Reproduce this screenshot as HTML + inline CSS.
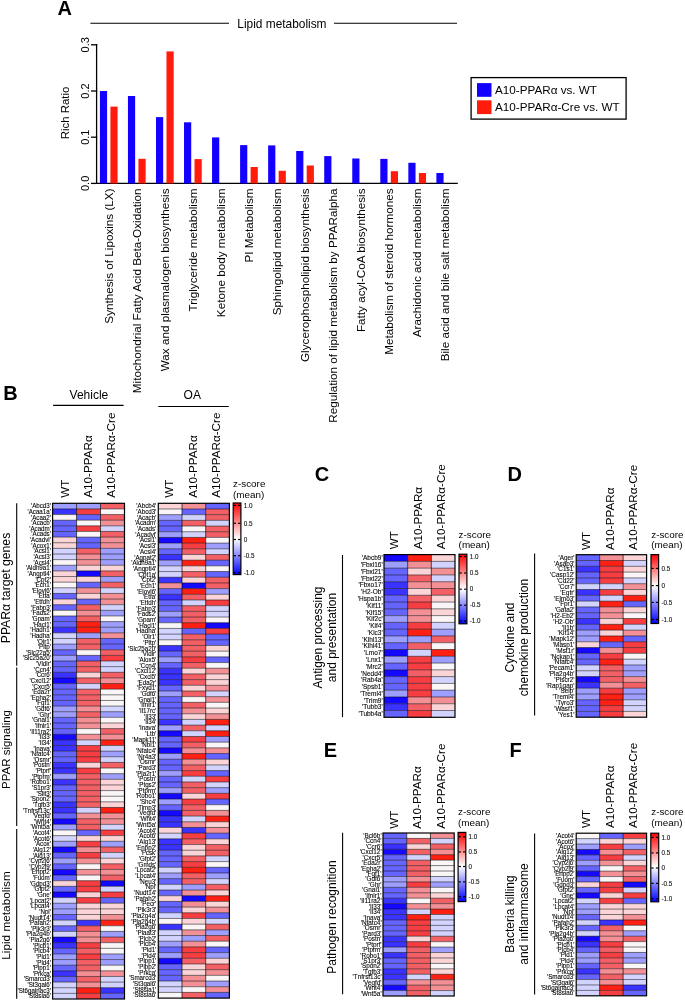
<!DOCTYPE html>
<html><head><meta charset="utf-8"><style>
html,body{margin:0;padding:0;background:#fff;}
svg{display:block;font-family:"Liberation Sans", sans-serif;will-change:transform;}
</style></head><body>
<svg width="685" height="1001" viewBox="0 0 685 1001">
<defs><linearGradient id="cb50" x1="0" y1="0" x2="0" y2="1"><stop offset="0" stop-color="#ff0000"/><stop offset="0.5" stop-color="#ffffff"/><stop offset="1" stop-color="#0000ff"/></linearGradient><linearGradient id="cb45" x1="0" y1="0" x2="0" y2="1"><stop offset="0" stop-color="#ff0000"/><stop offset="0.45" stop-color="#ffffff"/><stop offset="1" stop-color="#0000ff"/></linearGradient><linearGradient id="cb49" x1="0" y1="0" x2="0" y2="1"><stop offset="0" stop-color="#ff0000"/><stop offset="0.49" stop-color="#ffffff"/><stop offset="1" stop-color="#0000ff"/></linearGradient></defs>
<rect x="0" y="0" width="685" height="1001" fill="#fff"/>
<text transform="translate(57.60,14.90)" font-size="20" font-weight="bold" fill="#000">A</text>
<line x1="90.40" y1="23.30" x2="229.00" y2="23.30" stroke="#000" stroke-width="1.1"/>
<line x1="334.00" y1="23.30" x2="457.00" y2="23.30" stroke="#000" stroke-width="1.1"/>
<text transform="translate(237.30,28.00)" font-size="11.9" fill="#000">Lipid metabolism</text>
<line x1="96.60" y1="44.00" x2="96.60" y2="184.00" stroke="#000" stroke-width="1.3"/>
<line x1="96.00" y1="183.40" x2="457.80" y2="183.40" stroke="#000" stroke-width="1.3"/>
<line x1="91.00" y1="183.40" x2="97.20" y2="183.40" stroke="#000" stroke-width="1.3"/>
<text transform="translate(89.00,183.40) rotate(-90)" font-size="11" text-anchor="middle" fill="#000">0.0</text>
<line x1="91.00" y1="137.20" x2="97.20" y2="137.20" stroke="#000" stroke-width="1.3"/>
<text transform="translate(89.00,137.20) rotate(-90)" font-size="11" text-anchor="middle" fill="#000">0.1</text>
<line x1="91.00" y1="91.00" x2="97.20" y2="91.00" stroke="#000" stroke-width="1.3"/>
<text transform="translate(89.00,91.00) rotate(-90)" font-size="11" text-anchor="middle" fill="#000">0.2</text>
<line x1="91.00" y1="44.80" x2="97.20" y2="44.80" stroke="#000" stroke-width="1.3"/>
<text transform="translate(89.00,44.80) rotate(-90)" font-size="11" text-anchor="middle" fill="#000">0.3</text>
<text transform="translate(68.70,113.00) rotate(-90)" font-size="11.4" text-anchor="middle" fill="#000">Rich Ratio</text>
<rect x="99.90" y="91.00" width="7.20" height="92.40" fill="#1400ff"/>
<rect x="110.40" y="106.60" width="7.20" height="76.80" fill="#ff1c0c"/>
<text transform="translate(112.50,188.50) rotate(-90)" font-size="11.7" text-anchor="end" fill="#000">Synthesis of Lipoxins (LX)</text>
<rect x="127.94" y="96.00" width="7.20" height="87.40" fill="#1400ff"/>
<rect x="138.44" y="158.80" width="7.20" height="24.60" fill="#ff1c0c"/>
<text transform="translate(140.54,188.50) rotate(-90)" font-size="11.7" text-anchor="end" fill="#000">Mitochondrial Fatty Acid Beta-Oxidation</text>
<rect x="155.98" y="117.10" width="7.20" height="66.30" fill="#1400ff"/>
<rect x="166.48" y="51.40" width="7.20" height="132.00" fill="#ff1c0c"/>
<text transform="translate(168.58,188.50) rotate(-90)" font-size="11.7" text-anchor="end" fill="#000">Wax and plasmalogen biosynthesis</text>
<rect x="184.02" y="122.30" width="7.20" height="61.10" fill="#1400ff"/>
<rect x="194.52" y="159.10" width="7.20" height="24.30" fill="#ff1c0c"/>
<text transform="translate(196.62,188.50) rotate(-90)" font-size="11.7" text-anchor="end" fill="#000">Triglyceride metabolism</text>
<rect x="212.06" y="137.40" width="7.20" height="46.00" fill="#1400ff"/>
<text transform="translate(224.66,188.50) rotate(-90)" font-size="11.7" text-anchor="end" fill="#000">Ketone body metabolism</text>
<rect x="240.10" y="145.10" width="7.20" height="38.30" fill="#1400ff"/>
<rect x="250.60" y="167.00" width="7.20" height="16.40" fill="#ff1c0c"/>
<text transform="translate(252.70,188.50) rotate(-90)" font-size="11.7" text-anchor="end" fill="#000">PI Metabolism</text>
<rect x="268.14" y="145.40" width="7.20" height="38.00" fill="#1400ff"/>
<rect x="278.64" y="170.80" width="7.20" height="12.60" fill="#ff1c0c"/>
<text transform="translate(280.74,188.50) rotate(-90)" font-size="11.7" text-anchor="end" fill="#000">Sphingolipid metabolism</text>
<rect x="296.18" y="151.00" width="7.20" height="32.40" fill="#1400ff"/>
<rect x="306.68" y="165.50" width="7.20" height="17.90" fill="#ff1c0c"/>
<text transform="translate(308.78,188.50) rotate(-90)" font-size="11.7" text-anchor="end" fill="#000">Glycerophospholipid biosynthesis</text>
<rect x="324.22" y="156.10" width="7.20" height="27.30" fill="#1400ff"/>
<text transform="translate(336.82,188.50) rotate(-90)" font-size="11.7" text-anchor="end" fill="#000">Regulation of lipid metabolism by PPARalpha</text>
<rect x="352.26" y="158.50" width="7.20" height="24.90" fill="#1400ff"/>
<text transform="translate(364.86,188.50) rotate(-90)" font-size="11.7" text-anchor="end" fill="#000">Fatty acyl-CoA biosynthesis</text>
<rect x="380.30" y="158.90" width="7.20" height="24.50" fill="#1400ff"/>
<rect x="390.80" y="171.20" width="7.20" height="12.20" fill="#ff1c0c"/>
<text transform="translate(392.90,188.50) rotate(-90)" font-size="11.7" text-anchor="end" fill="#000">Metabolism of steroid hormones</text>
<rect x="408.34" y="162.80" width="7.20" height="20.60" fill="#1400ff"/>
<rect x="418.84" y="173.00" width="7.20" height="10.40" fill="#ff1c0c"/>
<text transform="translate(420.94,188.50) rotate(-90)" font-size="11.7" text-anchor="end" fill="#000">Arachidonic acid metabolism</text>
<rect x="436.38" y="173.00" width="7.20" height="10.40" fill="#1400ff"/>
<text transform="translate(448.98,188.50) rotate(-90)" font-size="11.7" text-anchor="end" fill="#000">Bile acid and bile salt metabolism</text>
<rect x="471.1" y="77.6" width="155.0" height="41.5" fill="none" stroke="#000" stroke-width="1.3"/>
<rect x="477.00" y="83.10" width="14.50" height="13.70" fill="#1400ff"/>
<rect x="477.00" y="100.30" width="14.50" height="13.80" fill="#ff1c0c"/>
<text transform="translate(495.00,94.30)" font-size="11.7" fill="#000">A10-PPARα vs. WT</text>
<text transform="translate(495.00,111.30)" font-size="11.7" fill="#000">A10-PPARα-Cre vs. WT</text>
<text transform="translate(3.20,400.20)" font-size="20" font-weight="bold" fill="#000">B</text>
<text transform="translate(69.60,398.60)" font-size="12" fill="#000">Vehicle</text>
<line x1="53.10" y1="405.40" x2="123.60" y2="405.40" stroke="#000" stroke-width="1.1"/>
<text transform="translate(183.60,398.90)" font-size="12" fill="#000">OA</text>
<line x1="158.30" y1="406.50" x2="228.80" y2="406.50" stroke="#000" stroke-width="1.1"/>
<rect x="52.60" y="503.30" width="23.97" height="5.63" fill="#9e9eff"/>
<rect x="76.57" y="503.30" width="23.97" height="5.63" fill="#9e9eff"/>
<rect x="100.53" y="503.30" width="23.97" height="5.63" fill="#f26066"/>
<rect x="52.60" y="508.93" width="23.97" height="5.63" fill="#3a32ff"/>
<rect x="76.57" y="508.93" width="23.97" height="5.63" fill="#f63e42"/>
<rect x="100.53" y="508.93" width="23.97" height="5.63" fill="#faf6f8"/>
<rect x="52.60" y="514.57" width="23.97" height="5.63" fill="#faf6f8"/>
<rect x="76.57" y="514.57" width="23.97" height="5.63" fill="#6664ff"/>
<rect x="100.53" y="514.57" width="23.97" height="5.63" fill="#f26066"/>
<rect x="52.60" y="520.20" width="23.97" height="5.63" fill="#6664ff"/>
<rect x="76.57" y="520.20" width="23.97" height="5.63" fill="#faf6f8"/>
<rect x="100.53" y="520.20" width="23.97" height="5.63" fill="#f29096"/>
<rect x="52.60" y="525.83" width="23.97" height="5.63" fill="#6664ff"/>
<rect x="76.57" y="525.83" width="23.97" height="5.63" fill="#f63e42"/>
<rect x="100.53" y="525.83" width="23.97" height="5.63" fill="#d2d4ff"/>
<rect x="52.60" y="531.46" width="23.97" height="5.63" fill="#6664ff"/>
<rect x="76.57" y="531.46" width="23.97" height="5.63" fill="#faf6f8"/>
<rect x="100.53" y="531.46" width="23.97" height="5.63" fill="#f26066"/>
<rect x="52.60" y="537.10" width="23.97" height="5.63" fill="#fad4d6"/>
<rect x="76.57" y="537.10" width="23.97" height="5.63" fill="#6664ff"/>
<rect x="100.53" y="537.10" width="23.97" height="5.63" fill="#f29096"/>
<rect x="52.60" y="542.73" width="23.97" height="5.63" fill="#fad4d6"/>
<rect x="76.57" y="542.73" width="23.97" height="5.63" fill="#6664ff"/>
<rect x="100.53" y="542.73" width="23.97" height="5.63" fill="#f29096"/>
<rect x="52.60" y="548.36" width="23.97" height="5.63" fill="#d2d4ff"/>
<rect x="76.57" y="548.36" width="23.97" height="5.63" fill="#f26066"/>
<rect x="100.53" y="548.36" width="23.97" height="5.63" fill="#9e9eff"/>
<rect x="52.60" y="554.00" width="23.97" height="5.63" fill="#d2d4ff"/>
<rect x="76.57" y="554.00" width="23.97" height="5.63" fill="#f29096"/>
<rect x="100.53" y="554.00" width="23.97" height="5.63" fill="#9e9eff"/>
<rect x="52.60" y="559.63" width="23.97" height="5.63" fill="#faf6f8"/>
<rect x="76.57" y="559.63" width="23.97" height="5.63" fill="#f29096"/>
<rect x="100.53" y="559.63" width="23.97" height="5.63" fill="#9e9eff"/>
<rect x="52.60" y="565.26" width="23.97" height="5.63" fill="#9e9eff"/>
<rect x="76.57" y="565.26" width="23.97" height="5.63" fill="#fad4d6"/>
<rect x="100.53" y="565.26" width="23.97" height="5.63" fill="#fad4d6"/>
<rect x="52.60" y="570.90" width="23.97" height="5.63" fill="#fad4d6"/>
<rect x="76.57" y="570.90" width="23.97" height="5.63" fill="#1408ff"/>
<rect x="100.53" y="570.90" width="23.97" height="5.63" fill="#f26066"/>
<rect x="52.60" y="576.53" width="23.97" height="5.63" fill="#fad4d6"/>
<rect x="76.57" y="576.53" width="23.97" height="5.63" fill="#fad4d6"/>
<rect x="100.53" y="576.53" width="23.97" height="5.63" fill="#9e9eff"/>
<rect x="52.60" y="582.16" width="23.97" height="5.63" fill="#faf6f8"/>
<rect x="76.57" y="582.16" width="23.97" height="5.63" fill="#6664ff"/>
<rect x="100.53" y="582.16" width="23.97" height="5.63" fill="#f26066"/>
<rect x="52.60" y="587.79" width="23.97" height="5.63" fill="#d2d4ff"/>
<rect x="76.57" y="587.79" width="23.97" height="5.63" fill="#f29096"/>
<rect x="100.53" y="587.79" width="23.97" height="5.63" fill="#d2d4ff"/>
<rect x="52.60" y="593.43" width="23.97" height="5.63" fill="#6664ff"/>
<rect x="76.57" y="593.43" width="23.97" height="5.63" fill="#fad4d6"/>
<rect x="100.53" y="593.43" width="23.97" height="5.63" fill="#f29096"/>
<rect x="52.60" y="599.06" width="23.97" height="5.63" fill="#fad4d6"/>
<rect x="76.57" y="599.06" width="23.97" height="5.63" fill="#6664ff"/>
<rect x="100.53" y="599.06" width="23.97" height="5.63" fill="#f29096"/>
<rect x="52.60" y="604.69" width="23.97" height="5.63" fill="#6664ff"/>
<rect x="76.57" y="604.69" width="23.97" height="5.63" fill="#f26066"/>
<rect x="100.53" y="604.69" width="23.97" height="5.63" fill="#d2d4ff"/>
<rect x="52.60" y="610.33" width="23.97" height="5.63" fill="#faf6f8"/>
<rect x="76.57" y="610.33" width="23.97" height="5.63" fill="#f29096"/>
<rect x="100.53" y="610.33" width="23.97" height="5.63" fill="#9e9eff"/>
<rect x="52.60" y="615.96" width="23.97" height="5.63" fill="#6664ff"/>
<rect x="76.57" y="615.96" width="23.97" height="5.63" fill="#f26066"/>
<rect x="100.53" y="615.96" width="23.97" height="5.63" fill="#faf6f8"/>
<rect x="52.60" y="621.59" width="23.97" height="5.63" fill="#6664ff"/>
<rect x="76.57" y="621.59" width="23.97" height="5.63" fill="#ff2014"/>
<rect x="100.53" y="621.59" width="23.97" height="5.63" fill="#9e9eff"/>
<rect x="52.60" y="627.23" width="23.97" height="5.63" fill="#3a32ff"/>
<rect x="76.57" y="627.23" width="23.97" height="5.63" fill="#ff2014"/>
<rect x="100.53" y="627.23" width="23.97" height="5.63" fill="#9e9eff"/>
<rect x="52.60" y="632.86" width="23.97" height="5.63" fill="#d2d4ff"/>
<rect x="76.57" y="632.86" width="23.97" height="5.63" fill="#9e9eff"/>
<rect x="100.53" y="632.86" width="23.97" height="5.63" fill="#f29096"/>
<rect x="52.60" y="638.49" width="23.97" height="5.63" fill="#d2d4ff"/>
<rect x="76.57" y="638.49" width="23.97" height="5.63" fill="#f26066"/>
<rect x="100.53" y="638.49" width="23.97" height="5.63" fill="#6664ff"/>
<rect x="52.60" y="644.12" width="23.97" height="5.63" fill="#9e9eff"/>
<rect x="76.57" y="644.12" width="23.97" height="5.63" fill="#f26066"/>
<rect x="100.53" y="644.12" width="23.97" height="5.63" fill="#6664ff"/>
<rect x="52.60" y="649.76" width="23.97" height="5.63" fill="#6664ff"/>
<rect x="76.57" y="649.76" width="23.97" height="5.63" fill="#faf6f8"/>
<rect x="100.53" y="649.76" width="23.97" height="5.63" fill="#f26066"/>
<rect x="52.60" y="655.39" width="23.97" height="5.63" fill="#9e9eff"/>
<rect x="76.57" y="655.39" width="23.97" height="5.63" fill="#6664ff"/>
<rect x="100.53" y="655.39" width="23.97" height="5.63" fill="#f63e42"/>
<rect x="52.60" y="661.02" width="23.97" height="5.63" fill="#6664ff"/>
<rect x="76.57" y="661.02" width="23.97" height="5.63" fill="#f26066"/>
<rect x="100.53" y="661.02" width="23.97" height="5.63" fill="#d2d4ff"/>
<rect x="52.60" y="666.66" width="23.97" height="5.63" fill="#6664ff"/>
<rect x="76.57" y="666.66" width="23.97" height="5.63" fill="#f26066"/>
<rect x="100.53" y="666.66" width="23.97" height="5.63" fill="#d2d4ff"/>
<rect x="52.60" y="672.29" width="23.97" height="5.63" fill="#3a32ff"/>
<rect x="76.57" y="672.29" width="23.97" height="5.63" fill="#fad4d6"/>
<rect x="100.53" y="672.29" width="23.97" height="5.63" fill="#f26066"/>
<rect x="52.60" y="677.92" width="23.97" height="5.63" fill="#1408ff"/>
<rect x="76.57" y="677.92" width="23.97" height="5.63" fill="#f26066"/>
<rect x="100.53" y="677.92" width="23.97" height="5.63" fill="#f29096"/>
<rect x="52.60" y="683.55" width="23.97" height="5.63" fill="#6664ff"/>
<rect x="76.57" y="683.55" width="23.97" height="5.63" fill="#d2d4ff"/>
<rect x="100.53" y="683.55" width="23.97" height="5.63" fill="#ff2014"/>
<rect x="52.60" y="689.19" width="23.97" height="5.63" fill="#6664ff"/>
<rect x="76.57" y="689.19" width="23.97" height="5.63" fill="#f26066"/>
<rect x="100.53" y="689.19" width="23.97" height="5.63" fill="#faf6f8"/>
<rect x="52.60" y="694.82" width="23.97" height="5.63" fill="#6664ff"/>
<rect x="76.57" y="694.82" width="23.97" height="5.63" fill="#f26066"/>
<rect x="100.53" y="694.82" width="23.97" height="5.63" fill="#faf6f8"/>
<rect x="52.60" y="700.45" width="23.97" height="5.63" fill="#6664ff"/>
<rect x="76.57" y="700.45" width="23.97" height="5.63" fill="#f26066"/>
<rect x="100.53" y="700.45" width="23.97" height="5.63" fill="#faf6f8"/>
<rect x="52.60" y="706.09" width="23.97" height="5.63" fill="#9e9eff"/>
<rect x="76.57" y="706.09" width="23.97" height="5.63" fill="#f29096"/>
<rect x="100.53" y="706.09" width="23.97" height="5.63" fill="#d2d4ff"/>
<rect x="52.60" y="711.72" width="23.97" height="5.63" fill="#9e9eff"/>
<rect x="76.57" y="711.72" width="23.97" height="5.63" fill="#f26066"/>
<rect x="100.53" y="711.72" width="23.97" height="5.63" fill="#9e9eff"/>
<rect x="52.60" y="717.35" width="23.97" height="5.63" fill="#6664ff"/>
<rect x="76.57" y="717.35" width="23.97" height="5.63" fill="#f29096"/>
<rect x="100.53" y="717.35" width="23.97" height="5.63" fill="#faf6f8"/>
<rect x="52.60" y="722.99" width="23.97" height="5.63" fill="#6664ff"/>
<rect x="76.57" y="722.99" width="23.97" height="5.63" fill="#f29096"/>
<rect x="100.53" y="722.99" width="23.97" height="5.63" fill="#fad4d6"/>
<rect x="52.60" y="728.62" width="23.97" height="5.63" fill="#6664ff"/>
<rect x="76.57" y="728.62" width="23.97" height="5.63" fill="#faf6f8"/>
<rect x="100.53" y="728.62" width="23.97" height="5.63" fill="#f26066"/>
<rect x="52.60" y="734.25" width="23.97" height="5.63" fill="#1408ff"/>
<rect x="76.57" y="734.25" width="23.97" height="5.63" fill="#f29096"/>
<rect x="100.53" y="734.25" width="23.97" height="5.63" fill="#f29096"/>
<rect x="52.60" y="739.88" width="23.97" height="5.63" fill="#3a32ff"/>
<rect x="76.57" y="739.88" width="23.97" height="5.63" fill="#d2d4ff"/>
<rect x="100.53" y="739.88" width="23.97" height="5.63" fill="#ff2014"/>
<rect x="52.60" y="745.52" width="23.97" height="5.63" fill="#3a32ff"/>
<rect x="76.57" y="745.52" width="23.97" height="5.63" fill="#f63e42"/>
<rect x="100.53" y="745.52" width="23.97" height="5.63" fill="#d2d4ff"/>
<rect x="52.60" y="751.15" width="23.97" height="5.63" fill="#6664ff"/>
<rect x="76.57" y="751.15" width="23.97" height="5.63" fill="#f63e42"/>
<rect x="100.53" y="751.15" width="23.97" height="5.63" fill="#9e9eff"/>
<rect x="52.60" y="756.78" width="23.97" height="5.63" fill="#6664ff"/>
<rect x="76.57" y="756.78" width="23.97" height="5.63" fill="#f63e42"/>
<rect x="100.53" y="756.78" width="23.97" height="5.63" fill="#d2d4ff"/>
<rect x="52.60" y="762.42" width="23.97" height="5.63" fill="#3a32ff"/>
<rect x="76.57" y="762.42" width="23.97" height="5.63" fill="#fad4d6"/>
<rect x="100.53" y="762.42" width="23.97" height="5.63" fill="#f26066"/>
<rect x="52.60" y="768.05" width="23.97" height="5.63" fill="#3a32ff"/>
<rect x="76.57" y="768.05" width="23.97" height="5.63" fill="#f63e42"/>
<rect x="100.53" y="768.05" width="23.97" height="5.63" fill="#faf6f8"/>
<rect x="52.60" y="773.68" width="23.97" height="5.63" fill="#9e9eff"/>
<rect x="76.57" y="773.68" width="23.97" height="5.63" fill="#f26066"/>
<rect x="100.53" y="773.68" width="23.97" height="5.63" fill="#9e9eff"/>
<rect x="52.60" y="779.31" width="23.97" height="5.63" fill="#3a32ff"/>
<rect x="76.57" y="779.31" width="23.97" height="5.63" fill="#f26066"/>
<rect x="100.53" y="779.31" width="23.97" height="5.63" fill="#fad4d6"/>
<rect x="52.60" y="784.95" width="23.97" height="5.63" fill="#6664ff"/>
<rect x="76.57" y="784.95" width="23.97" height="5.63" fill="#f26066"/>
<rect x="100.53" y="784.95" width="23.97" height="5.63" fill="#fad4d6"/>
<rect x="52.60" y="790.58" width="23.97" height="5.63" fill="#6664ff"/>
<rect x="76.57" y="790.58" width="23.97" height="5.63" fill="#f26066"/>
<rect x="100.53" y="790.58" width="23.97" height="5.63" fill="#faf6f8"/>
<rect x="52.60" y="796.21" width="23.97" height="5.63" fill="#6664ff"/>
<rect x="76.57" y="796.21" width="23.97" height="5.63" fill="#f26066"/>
<rect x="100.53" y="796.21" width="23.97" height="5.63" fill="#faf6f8"/>
<rect x="52.60" y="801.85" width="23.97" height="5.63" fill="#3a32ff"/>
<rect x="76.57" y="801.85" width="23.97" height="5.63" fill="#f26066"/>
<rect x="100.53" y="801.85" width="23.97" height="5.63" fill="#fad4d6"/>
<rect x="52.60" y="807.48" width="23.97" height="5.63" fill="#3a32ff"/>
<rect x="76.57" y="807.48" width="23.97" height="5.63" fill="#d2d4ff"/>
<rect x="100.53" y="807.48" width="23.97" height="5.63" fill="#ff2014"/>
<rect x="52.60" y="813.11" width="23.97" height="5.63" fill="#6664ff"/>
<rect x="76.57" y="813.11" width="23.97" height="5.63" fill="#f29096"/>
<rect x="100.53" y="813.11" width="23.97" height="5.63" fill="#f29096"/>
<rect x="52.60" y="818.75" width="23.97" height="5.63" fill="#1408ff"/>
<rect x="76.57" y="818.75" width="23.97" height="5.63" fill="#f26066"/>
<rect x="100.53" y="818.75" width="23.97" height="5.63" fill="#f29096"/>
<rect x="52.60" y="824.38" width="23.97" height="5.63" fill="#9e9eff"/>
<rect x="76.57" y="824.38" width="23.97" height="5.63" fill="#f26066"/>
<rect x="100.53" y="824.38" width="23.97" height="5.63" fill="#d2d4ff"/>
<rect x="52.60" y="830.01" width="23.97" height="5.63" fill="#faf6f8"/>
<rect x="76.57" y="830.01" width="23.97" height="5.63" fill="#6664ff"/>
<rect x="100.53" y="830.01" width="23.97" height="5.63" fill="#f63e42"/>
<rect x="52.60" y="835.64" width="23.97" height="5.63" fill="#d2d4ff"/>
<rect x="76.57" y="835.64" width="23.97" height="5.63" fill="#fad4d6"/>
<rect x="100.53" y="835.64" width="23.97" height="5.63" fill="#fad4d6"/>
<rect x="52.60" y="841.28" width="23.97" height="5.63" fill="#9e9eff"/>
<rect x="76.57" y="841.28" width="23.97" height="5.63" fill="#f63e42"/>
<rect x="100.53" y="841.28" width="23.97" height="5.63" fill="#9e9eff"/>
<rect x="52.60" y="846.91" width="23.97" height="5.63" fill="#1408ff"/>
<rect x="76.57" y="846.91" width="23.97" height="5.63" fill="#f29096"/>
<rect x="100.53" y="846.91" width="23.97" height="5.63" fill="#f26066"/>
<rect x="52.60" y="852.54" width="23.97" height="5.63" fill="#6664ff"/>
<rect x="76.57" y="852.54" width="23.97" height="5.63" fill="#f63e42"/>
<rect x="100.53" y="852.54" width="23.97" height="5.63" fill="#d2d4ff"/>
<rect x="52.60" y="858.18" width="23.97" height="5.63" fill="#9e9eff"/>
<rect x="76.57" y="858.18" width="23.97" height="5.63" fill="#f29096"/>
<rect x="100.53" y="858.18" width="23.97" height="5.63" fill="#fad4d6"/>
<rect x="52.60" y="863.81" width="23.97" height="5.63" fill="#6664ff"/>
<rect x="76.57" y="863.81" width="23.97" height="5.63" fill="#faf6f8"/>
<rect x="100.53" y="863.81" width="23.97" height="5.63" fill="#f26066"/>
<rect x="52.60" y="869.44" width="23.97" height="5.63" fill="#1408ff"/>
<rect x="76.57" y="869.44" width="23.97" height="5.63" fill="#f29096"/>
<rect x="100.53" y="869.44" width="23.97" height="5.63" fill="#f29096"/>
<rect x="52.60" y="875.08" width="23.97" height="5.63" fill="#6664ff"/>
<rect x="76.57" y="875.08" width="23.97" height="5.63" fill="#faf6f8"/>
<rect x="100.53" y="875.08" width="23.97" height="5.63" fill="#f26066"/>
<rect x="52.60" y="880.71" width="23.97" height="5.63" fill="#fad4d6"/>
<rect x="76.57" y="880.71" width="23.97" height="5.63" fill="#f63e42"/>
<rect x="100.53" y="880.71" width="23.97" height="5.63" fill="#1408ff"/>
<rect x="52.60" y="886.34" width="23.97" height="5.63" fill="#6664ff"/>
<rect x="76.57" y="886.34" width="23.97" height="5.63" fill="#f63e42"/>
<rect x="100.53" y="886.34" width="23.97" height="5.63" fill="#d2d4ff"/>
<rect x="52.60" y="891.97" width="23.97" height="5.63" fill="#1408ff"/>
<rect x="76.57" y="891.97" width="23.97" height="5.63" fill="#fad4d6"/>
<rect x="100.53" y="891.97" width="23.97" height="5.63" fill="#f63e42"/>
<rect x="52.60" y="897.61" width="23.97" height="5.63" fill="#d2d4ff"/>
<rect x="76.57" y="897.61" width="23.97" height="5.63" fill="#f63e42"/>
<rect x="100.53" y="897.61" width="23.97" height="5.63" fill="#6664ff"/>
<rect x="52.60" y="903.24" width="23.97" height="5.63" fill="#9e9eff"/>
<rect x="76.57" y="903.24" width="23.97" height="5.63" fill="#fad4d6"/>
<rect x="100.53" y="903.24" width="23.97" height="5.63" fill="#fad4d6"/>
<rect x="52.60" y="908.87" width="23.97" height="5.63" fill="#9e9eff"/>
<rect x="76.57" y="908.87" width="23.97" height="5.63" fill="#fad4d6"/>
<rect x="100.53" y="908.87" width="23.97" height="5.63" fill="#fad4d6"/>
<rect x="52.60" y="914.51" width="23.97" height="5.63" fill="#6664ff"/>
<rect x="76.57" y="914.51" width="23.97" height="5.63" fill="#fad4d6"/>
<rect x="100.53" y="914.51" width="23.97" height="5.63" fill="#f29096"/>
<rect x="52.60" y="920.14" width="23.97" height="5.63" fill="#d2d4ff"/>
<rect x="76.57" y="920.14" width="23.97" height="5.63" fill="#3a32ff"/>
<rect x="100.53" y="920.14" width="23.97" height="5.63" fill="#ff2014"/>
<rect x="52.60" y="925.77" width="23.97" height="5.63" fill="#6664ff"/>
<rect x="76.57" y="925.77" width="23.97" height="5.63" fill="#f26066"/>
<rect x="100.53" y="925.77" width="23.97" height="5.63" fill="#faf6f8"/>
<rect x="52.60" y="931.40" width="23.97" height="5.63" fill="#d2d4ff"/>
<rect x="76.57" y="931.40" width="23.97" height="5.63" fill="#f29096"/>
<rect x="100.53" y="931.40" width="23.97" height="5.63" fill="#9e9eff"/>
<rect x="52.60" y="937.04" width="23.97" height="5.63" fill="#1408ff"/>
<rect x="76.57" y="937.04" width="23.97" height="5.63" fill="#f29096"/>
<rect x="100.53" y="937.04" width="23.97" height="5.63" fill="#f26066"/>
<rect x="52.60" y="942.67" width="23.97" height="5.63" fill="#3a32ff"/>
<rect x="76.57" y="942.67" width="23.97" height="5.63" fill="#f63e42"/>
<rect x="100.53" y="942.67" width="23.97" height="5.63" fill="#faf6f8"/>
<rect x="52.60" y="948.30" width="23.97" height="5.63" fill="#6664ff"/>
<rect x="76.57" y="948.30" width="23.97" height="5.63" fill="#f26066"/>
<rect x="100.53" y="948.30" width="23.97" height="5.63" fill="#faf6f8"/>
<rect x="52.60" y="953.94" width="23.97" height="5.63" fill="#9e9eff"/>
<rect x="76.57" y="953.94" width="23.97" height="5.63" fill="#f63e42"/>
<rect x="100.53" y="953.94" width="23.97" height="5.63" fill="#9e9eff"/>
<rect x="52.60" y="959.57" width="23.97" height="5.63" fill="#9e9eff"/>
<rect x="76.57" y="959.57" width="23.97" height="5.63" fill="#f26066"/>
<rect x="100.53" y="959.57" width="23.97" height="5.63" fill="#9e9eff"/>
<rect x="52.60" y="965.20" width="23.97" height="5.63" fill="#6664ff"/>
<rect x="76.57" y="965.20" width="23.97" height="5.63" fill="#f26066"/>
<rect x="100.53" y="965.20" width="23.97" height="5.63" fill="#faf6f8"/>
<rect x="52.60" y="970.84" width="23.97" height="5.63" fill="#3a32ff"/>
<rect x="76.57" y="970.84" width="23.97" height="5.63" fill="#f29096"/>
<rect x="100.53" y="970.84" width="23.97" height="5.63" fill="#f29096"/>
<rect x="52.60" y="976.47" width="23.97" height="5.63" fill="#6664ff"/>
<rect x="76.57" y="976.47" width="23.97" height="5.63" fill="#f26066"/>
<rect x="100.53" y="976.47" width="23.97" height="5.63" fill="#d2d4ff"/>
<rect x="52.60" y="982.10" width="23.97" height="5.63" fill="#d2d4ff"/>
<rect x="76.57" y="982.10" width="23.97" height="5.63" fill="#f29096"/>
<rect x="100.53" y="982.10" width="23.97" height="5.63" fill="#d2d4ff"/>
<rect x="52.60" y="987.73" width="23.97" height="5.63" fill="#d2d4ff"/>
<rect x="76.57" y="987.73" width="23.97" height="5.63" fill="#ff2014"/>
<rect x="100.53" y="987.73" width="23.97" height="5.63" fill="#3a32ff"/>
<rect x="52.60" y="993.37" width="23.97" height="5.63" fill="#d2d4ff"/>
<rect x="76.57" y="993.37" width="23.97" height="5.63" fill="#f63e42"/>
<rect x="100.53" y="993.37" width="23.97" height="5.63" fill="#6664ff"/>
<line x1="52.60" y1="508.93" x2="124.50" y2="508.93" stroke="#000" stroke-opacity="0.6" stroke-width="0.85"/>
<line x1="52.60" y1="514.57" x2="124.50" y2="514.57" stroke="#000" stroke-opacity="0.6" stroke-width="0.85"/>
<line x1="52.60" y1="520.20" x2="124.50" y2="520.20" stroke="#000" stroke-opacity="0.6" stroke-width="0.85"/>
<line x1="52.60" y1="525.83" x2="124.50" y2="525.83" stroke="#000" stroke-opacity="0.6" stroke-width="0.85"/>
<line x1="52.60" y1="531.46" x2="124.50" y2="531.46" stroke="#000" stroke-opacity="0.6" stroke-width="0.85"/>
<line x1="52.60" y1="537.10" x2="124.50" y2="537.10" stroke="#000" stroke-opacity="0.6" stroke-width="0.85"/>
<line x1="52.60" y1="542.73" x2="124.50" y2="542.73" stroke="#000" stroke-opacity="0.6" stroke-width="0.85"/>
<line x1="52.60" y1="548.36" x2="124.50" y2="548.36" stroke="#000" stroke-opacity="0.6" stroke-width="0.85"/>
<line x1="52.60" y1="554.00" x2="124.50" y2="554.00" stroke="#000" stroke-opacity="0.6" stroke-width="0.85"/>
<line x1="52.60" y1="559.63" x2="124.50" y2="559.63" stroke="#000" stroke-opacity="0.6" stroke-width="0.85"/>
<line x1="52.60" y1="565.26" x2="124.50" y2="565.26" stroke="#000" stroke-opacity="0.6" stroke-width="0.85"/>
<line x1="52.60" y1="570.90" x2="124.50" y2="570.90" stroke="#000" stroke-opacity="0.6" stroke-width="0.85"/>
<line x1="52.60" y1="576.53" x2="124.50" y2="576.53" stroke="#000" stroke-opacity="0.6" stroke-width="0.85"/>
<line x1="52.60" y1="582.16" x2="124.50" y2="582.16" stroke="#000" stroke-opacity="0.6" stroke-width="0.85"/>
<line x1="52.60" y1="587.79" x2="124.50" y2="587.79" stroke="#000" stroke-opacity="0.6" stroke-width="0.85"/>
<line x1="52.60" y1="593.43" x2="124.50" y2="593.43" stroke="#000" stroke-opacity="0.6" stroke-width="0.85"/>
<line x1="52.60" y1="599.06" x2="124.50" y2="599.06" stroke="#000" stroke-opacity="0.6" stroke-width="0.85"/>
<line x1="52.60" y1="604.69" x2="124.50" y2="604.69" stroke="#000" stroke-opacity="0.6" stroke-width="0.85"/>
<line x1="52.60" y1="610.33" x2="124.50" y2="610.33" stroke="#000" stroke-opacity="0.6" stroke-width="0.85"/>
<line x1="52.60" y1="615.96" x2="124.50" y2="615.96" stroke="#000" stroke-opacity="0.6" stroke-width="0.85"/>
<line x1="52.60" y1="621.59" x2="124.50" y2="621.59" stroke="#000" stroke-opacity="0.6" stroke-width="0.85"/>
<line x1="52.60" y1="627.23" x2="124.50" y2="627.23" stroke="#000" stroke-opacity="0.6" stroke-width="0.85"/>
<line x1="52.60" y1="632.86" x2="124.50" y2="632.86" stroke="#000" stroke-opacity="0.6" stroke-width="0.85"/>
<line x1="52.60" y1="638.49" x2="124.50" y2="638.49" stroke="#000" stroke-opacity="0.6" stroke-width="0.85"/>
<line x1="52.60" y1="644.12" x2="124.50" y2="644.12" stroke="#000" stroke-opacity="0.6" stroke-width="0.85"/>
<line x1="52.60" y1="649.76" x2="124.50" y2="649.76" stroke="#000" stroke-opacity="0.6" stroke-width="0.85"/>
<line x1="52.60" y1="655.39" x2="124.50" y2="655.39" stroke="#000" stroke-opacity="0.6" stroke-width="0.85"/>
<line x1="52.60" y1="661.02" x2="124.50" y2="661.02" stroke="#000" stroke-opacity="0.6" stroke-width="0.85"/>
<line x1="52.60" y1="666.66" x2="124.50" y2="666.66" stroke="#000" stroke-opacity="0.6" stroke-width="0.85"/>
<line x1="52.60" y1="672.29" x2="124.50" y2="672.29" stroke="#000" stroke-opacity="0.6" stroke-width="0.85"/>
<line x1="52.60" y1="677.92" x2="124.50" y2="677.92" stroke="#000" stroke-opacity="0.6" stroke-width="0.85"/>
<line x1="52.60" y1="683.55" x2="124.50" y2="683.55" stroke="#000" stroke-opacity="0.6" stroke-width="0.85"/>
<line x1="52.60" y1="689.19" x2="124.50" y2="689.19" stroke="#000" stroke-opacity="0.6" stroke-width="0.85"/>
<line x1="52.60" y1="694.82" x2="124.50" y2="694.82" stroke="#000" stroke-opacity="0.6" stroke-width="0.85"/>
<line x1="52.60" y1="700.45" x2="124.50" y2="700.45" stroke="#000" stroke-opacity="0.6" stroke-width="0.85"/>
<line x1="52.60" y1="706.09" x2="124.50" y2="706.09" stroke="#000" stroke-opacity="0.6" stroke-width="0.85"/>
<line x1="52.60" y1="711.72" x2="124.50" y2="711.72" stroke="#000" stroke-opacity="0.6" stroke-width="0.85"/>
<line x1="52.60" y1="717.35" x2="124.50" y2="717.35" stroke="#000" stroke-opacity="0.6" stroke-width="0.85"/>
<line x1="52.60" y1="722.99" x2="124.50" y2="722.99" stroke="#000" stroke-opacity="0.6" stroke-width="0.85"/>
<line x1="52.60" y1="728.62" x2="124.50" y2="728.62" stroke="#000" stroke-opacity="0.6" stroke-width="0.85"/>
<line x1="52.60" y1="734.25" x2="124.50" y2="734.25" stroke="#000" stroke-opacity="0.6" stroke-width="0.85"/>
<line x1="52.60" y1="739.88" x2="124.50" y2="739.88" stroke="#000" stroke-opacity="0.6" stroke-width="0.85"/>
<line x1="52.60" y1="745.52" x2="124.50" y2="745.52" stroke="#000" stroke-opacity="0.6" stroke-width="0.85"/>
<line x1="52.60" y1="751.15" x2="124.50" y2="751.15" stroke="#000" stroke-opacity="0.6" stroke-width="0.85"/>
<line x1="52.60" y1="756.78" x2="124.50" y2="756.78" stroke="#000" stroke-opacity="0.6" stroke-width="0.85"/>
<line x1="52.60" y1="762.42" x2="124.50" y2="762.42" stroke="#000" stroke-opacity="0.6" stroke-width="0.85"/>
<line x1="52.60" y1="768.05" x2="124.50" y2="768.05" stroke="#000" stroke-opacity="0.6" stroke-width="0.85"/>
<line x1="52.60" y1="773.68" x2="124.50" y2="773.68" stroke="#000" stroke-opacity="0.6" stroke-width="0.85"/>
<line x1="52.60" y1="779.31" x2="124.50" y2="779.31" stroke="#000" stroke-opacity="0.6" stroke-width="0.85"/>
<line x1="52.60" y1="784.95" x2="124.50" y2="784.95" stroke="#000" stroke-opacity="0.6" stroke-width="0.85"/>
<line x1="52.60" y1="790.58" x2="124.50" y2="790.58" stroke="#000" stroke-opacity="0.6" stroke-width="0.85"/>
<line x1="52.60" y1="796.21" x2="124.50" y2="796.21" stroke="#000" stroke-opacity="0.6" stroke-width="0.85"/>
<line x1="52.60" y1="801.85" x2="124.50" y2="801.85" stroke="#000" stroke-opacity="0.6" stroke-width="0.85"/>
<line x1="52.60" y1="807.48" x2="124.50" y2="807.48" stroke="#000" stroke-opacity="0.6" stroke-width="0.85"/>
<line x1="52.60" y1="813.11" x2="124.50" y2="813.11" stroke="#000" stroke-opacity="0.6" stroke-width="0.85"/>
<line x1="52.60" y1="818.75" x2="124.50" y2="818.75" stroke="#000" stroke-opacity="0.6" stroke-width="0.85"/>
<line x1="52.60" y1="824.38" x2="124.50" y2="824.38" stroke="#000" stroke-opacity="0.6" stroke-width="0.85"/>
<line x1="52.60" y1="830.01" x2="124.50" y2="830.01" stroke="#000" stroke-opacity="0.6" stroke-width="0.85"/>
<line x1="52.60" y1="835.64" x2="124.50" y2="835.64" stroke="#000" stroke-opacity="0.6" stroke-width="0.85"/>
<line x1="52.60" y1="841.28" x2="124.50" y2="841.28" stroke="#000" stroke-opacity="0.6" stroke-width="0.85"/>
<line x1="52.60" y1="846.91" x2="124.50" y2="846.91" stroke="#000" stroke-opacity="0.6" stroke-width="0.85"/>
<line x1="52.60" y1="852.54" x2="124.50" y2="852.54" stroke="#000" stroke-opacity="0.6" stroke-width="0.85"/>
<line x1="52.60" y1="858.18" x2="124.50" y2="858.18" stroke="#000" stroke-opacity="0.6" stroke-width="0.85"/>
<line x1="52.60" y1="863.81" x2="124.50" y2="863.81" stroke="#000" stroke-opacity="0.6" stroke-width="0.85"/>
<line x1="52.60" y1="869.44" x2="124.50" y2="869.44" stroke="#000" stroke-opacity="0.6" stroke-width="0.85"/>
<line x1="52.60" y1="875.08" x2="124.50" y2="875.08" stroke="#000" stroke-opacity="0.6" stroke-width="0.85"/>
<line x1="52.60" y1="880.71" x2="124.50" y2="880.71" stroke="#000" stroke-opacity="0.6" stroke-width="0.85"/>
<line x1="52.60" y1="886.34" x2="124.50" y2="886.34" stroke="#000" stroke-opacity="0.6" stroke-width="0.85"/>
<line x1="52.60" y1="891.97" x2="124.50" y2="891.97" stroke="#000" stroke-opacity="0.6" stroke-width="0.85"/>
<line x1="52.60" y1="897.61" x2="124.50" y2="897.61" stroke="#000" stroke-opacity="0.6" stroke-width="0.85"/>
<line x1="52.60" y1="903.24" x2="124.50" y2="903.24" stroke="#000" stroke-opacity="0.6" stroke-width="0.85"/>
<line x1="52.60" y1="908.87" x2="124.50" y2="908.87" stroke="#000" stroke-opacity="0.6" stroke-width="0.85"/>
<line x1="52.60" y1="914.51" x2="124.50" y2="914.51" stroke="#000" stroke-opacity="0.6" stroke-width="0.85"/>
<line x1="52.60" y1="920.14" x2="124.50" y2="920.14" stroke="#000" stroke-opacity="0.6" stroke-width="0.85"/>
<line x1="52.60" y1="925.77" x2="124.50" y2="925.77" stroke="#000" stroke-opacity="0.6" stroke-width="0.85"/>
<line x1="52.60" y1="931.40" x2="124.50" y2="931.40" stroke="#000" stroke-opacity="0.6" stroke-width="0.85"/>
<line x1="52.60" y1="937.04" x2="124.50" y2="937.04" stroke="#000" stroke-opacity="0.6" stroke-width="0.85"/>
<line x1="52.60" y1="942.67" x2="124.50" y2="942.67" stroke="#000" stroke-opacity="0.6" stroke-width="0.85"/>
<line x1="52.60" y1="948.30" x2="124.50" y2="948.30" stroke="#000" stroke-opacity="0.6" stroke-width="0.85"/>
<line x1="52.60" y1="953.94" x2="124.50" y2="953.94" stroke="#000" stroke-opacity="0.6" stroke-width="0.85"/>
<line x1="52.60" y1="959.57" x2="124.50" y2="959.57" stroke="#000" stroke-opacity="0.6" stroke-width="0.85"/>
<line x1="52.60" y1="965.20" x2="124.50" y2="965.20" stroke="#000" stroke-opacity="0.6" stroke-width="0.85"/>
<line x1="52.60" y1="970.84" x2="124.50" y2="970.84" stroke="#000" stroke-opacity="0.6" stroke-width="0.85"/>
<line x1="52.60" y1="976.47" x2="124.50" y2="976.47" stroke="#000" stroke-opacity="0.6" stroke-width="0.85"/>
<line x1="52.60" y1="982.10" x2="124.50" y2="982.10" stroke="#000" stroke-opacity="0.6" stroke-width="0.85"/>
<line x1="52.60" y1="987.73" x2="124.50" y2="987.73" stroke="#000" stroke-opacity="0.6" stroke-width="0.85"/>
<line x1="52.60" y1="993.37" x2="124.50" y2="993.37" stroke="#000" stroke-opacity="0.6" stroke-width="0.85"/>
<line x1="76.57" y1="503.30" x2="76.57" y2="999.00" stroke="#000" stroke-opacity="0.75" stroke-width="0.9"/>
<line x1="100.53" y1="503.30" x2="100.53" y2="999.00" stroke="#000" stroke-opacity="0.75" stroke-width="0.9"/>
<rect x="52.60" y="503.30" width="71.90" height="495.70" fill="none" stroke="#000" stroke-width="1.2"/>
<text transform="translate(50.90,508.33) scale(0.87,1)" font-size="7.13" text-anchor="end" fill="#000" stroke="#000" stroke-width="0.1">'Abcd3'</text>
<text transform="translate(50.90,513.96) scale(0.87,1)" font-size="7.13" text-anchor="end" fill="#000" stroke="#000" stroke-width="0.1">'Acaa1a'</text>
<text transform="translate(50.90,519.59) scale(0.87,1)" font-size="7.13" text-anchor="end" fill="#000" stroke="#000" stroke-width="0.1">'Acaa2'</text>
<text transform="translate(50.90,525.23) scale(0.87,1)" font-size="7.13" text-anchor="end" fill="#000" stroke="#000" stroke-width="0.1">'Acacb'</text>
<text transform="translate(50.90,530.86) scale(0.87,1)" font-size="7.13" text-anchor="end" fill="#000" stroke="#000" stroke-width="0.1">'Acadm'</text>
<text transform="translate(50.90,536.49) scale(0.87,1)" font-size="7.13" text-anchor="end" fill="#000" stroke="#000" stroke-width="0.1">'Acads'</text>
<text transform="translate(50.90,542.12) scale(0.87,1)" font-size="7.13" text-anchor="end" fill="#000" stroke="#000" stroke-width="0.1">'Acadvl'</text>
<text transform="translate(50.90,547.76) scale(0.87,1)" font-size="7.13" text-anchor="end" fill="#000" stroke="#000" stroke-width="0.1">'Acox1'</text>
<text transform="translate(50.90,553.39) scale(0.87,1)" font-size="7.13" text-anchor="end" fill="#000" stroke="#000" stroke-width="0.1">'Acsl1'</text>
<text transform="translate(50.90,559.02) scale(0.87,1)" font-size="7.13" text-anchor="end" fill="#000" stroke="#000" stroke-width="0.1">'Acsl3'</text>
<text transform="translate(50.90,564.66) scale(0.87,1)" font-size="7.13" text-anchor="end" fill="#000" stroke="#000" stroke-width="0.1">'Acsl4'</text>
<text transform="translate(50.90,570.29) scale(0.87,1)" font-size="7.13" text-anchor="end" fill="#000" stroke="#000" stroke-width="0.1">'Aldh9a1'</text>
<text transform="translate(50.90,575.92) scale(0.87,1)" font-size="7.13" text-anchor="end" fill="#000" stroke="#000" stroke-width="0.1">'Angptl4'</text>
<text transform="translate(50.90,581.56) scale(0.87,1)" font-size="7.13" text-anchor="end" fill="#000" stroke="#000" stroke-width="0.1">'Cpt2'</text>
<text transform="translate(50.90,587.19) scale(0.87,1)" font-size="7.13" text-anchor="end" fill="#000" stroke="#000" stroke-width="0.1">'Ech1'</text>
<text transform="translate(50.90,592.82) scale(0.87,1)" font-size="7.13" text-anchor="end" fill="#000" stroke="#000" stroke-width="0.1">'Elovl6'</text>
<text transform="translate(50.90,598.45) scale(0.87,1)" font-size="7.13" text-anchor="end" fill="#000" stroke="#000" stroke-width="0.1">'Etfa'</text>
<text transform="translate(50.90,604.09) scale(0.87,1)" font-size="7.13" text-anchor="end" fill="#000" stroke="#000" stroke-width="0.1">'Etfdh'</text>
<text transform="translate(50.90,609.72) scale(0.87,1)" font-size="7.13" text-anchor="end" fill="#000" stroke="#000" stroke-width="0.1">'Fabp3'</text>
<text transform="translate(50.90,615.35) scale(0.87,1)" font-size="7.13" text-anchor="end" fill="#000" stroke="#000" stroke-width="0.1">'Fads2'</text>
<text transform="translate(50.90,620.99) scale(0.87,1)" font-size="7.13" text-anchor="end" fill="#000" stroke="#000" stroke-width="0.1">'Gpam'</text>
<text transform="translate(50.90,626.62) scale(0.87,1)" font-size="7.13" text-anchor="end" fill="#000" stroke="#000" stroke-width="0.1">'Hacl1'</text>
<text transform="translate(50.90,632.25) scale(0.87,1)" font-size="7.13" text-anchor="end" fill="#000" stroke="#000" stroke-width="0.1">'Hadh1'</text>
<text transform="translate(50.90,637.88) scale(0.87,1)" font-size="7.13" text-anchor="end" fill="#000" stroke="#000" stroke-width="0.1">'Hadha'</text>
<text transform="translate(50.90,643.52) scale(0.87,1)" font-size="7.13" text-anchor="end" fill="#000" stroke="#000" stroke-width="0.1">'Olr1'</text>
<text transform="translate(50.90,649.15) scale(0.87,1)" font-size="7.13" text-anchor="end" fill="#000" stroke="#000" stroke-width="0.1">'Pltp'</text>
<text transform="translate(50.90,654.78) scale(0.87,1)" font-size="7.13" text-anchor="end" fill="#000" stroke="#000" stroke-width="0.1">'Slc22a5'</text>
<text transform="translate(50.90,660.42) scale(0.87,1)" font-size="7.13" text-anchor="end" fill="#000" stroke="#000" stroke-width="0.1">'Slc25a20'</text>
<text transform="translate(50.90,666.05) scale(0.87,1)" font-size="7.13" text-anchor="end" fill="#000" stroke="#000" stroke-width="0.1">'Vldlr'</text>
<text transform="translate(50.90,671.68) scale(0.87,1)" font-size="7.13" text-anchor="end" fill="#000" stroke="#000" stroke-width="0.1">'Ccn4'</text>
<text transform="translate(50.90,677.32) scale(0.87,1)" font-size="7.13" text-anchor="end" fill="#000" stroke="#000" stroke-width="0.1">'Ccr6'</text>
<text transform="translate(50.90,682.95) scale(0.87,1)" font-size="7.13" text-anchor="end" fill="#000" stroke="#000" stroke-width="0.1">'Cxcl12'</text>
<text transform="translate(50.90,688.58) scale(0.87,1)" font-size="7.13" text-anchor="end" fill="#000" stroke="#000" stroke-width="0.1">'Cxcr5'</text>
<text transform="translate(50.90,694.21) scale(0.87,1)" font-size="7.13" text-anchor="end" fill="#000" stroke="#000" stroke-width="0.1">'Eda2r'</text>
<text transform="translate(50.90,699.85) scale(0.87,1)" font-size="7.13" text-anchor="end" fill="#000" stroke="#000" stroke-width="0.1">'Epha2'</text>
<text transform="translate(50.90,705.48) scale(0.87,1)" font-size="7.13" text-anchor="end" fill="#000" stroke="#000" stroke-width="0.1">'Fgf1'</text>
<text transform="translate(50.90,711.11) scale(0.87,1)" font-size="7.13" text-anchor="end" fill="#000" stroke="#000" stroke-width="0.1">'Gdf6'</text>
<text transform="translate(50.90,716.75) scale(0.87,1)" font-size="7.13" text-anchor="end" fill="#000" stroke="#000" stroke-width="0.1">'Ghr'</text>
<text transform="translate(50.90,722.38) scale(0.87,1)" font-size="7.13" text-anchor="end" fill="#000" stroke="#000" stroke-width="0.1">'Gnai1'</text>
<text transform="translate(50.90,728.01) scale(0.87,1)" font-size="7.13" text-anchor="end" fill="#000" stroke="#000" stroke-width="0.1">'Ifnlr1'</text>
<text transform="translate(50.90,733.64) scale(0.87,1)" font-size="7.13" text-anchor="end" fill="#000" stroke="#000" stroke-width="0.1">'Il11ra2'</text>
<text transform="translate(50.90,739.28) scale(0.87,1)" font-size="7.13" text-anchor="end" fill="#000" stroke="#000" stroke-width="0.1">'Il33'</text>
<text transform="translate(50.90,744.91) scale(0.87,1)" font-size="7.13" text-anchor="end" fill="#000" stroke="#000" stroke-width="0.1">'Il34'</text>
<text transform="translate(50.90,750.54) scale(0.87,1)" font-size="7.13" text-anchor="end" fill="#000" stroke="#000" stroke-width="0.1">'Inava'</text>
<text transform="translate(50.90,756.18) scale(0.87,1)" font-size="7.13" text-anchor="end" fill="#000" stroke="#000" stroke-width="0.1">'Nfatc4'</text>
<text transform="translate(50.90,761.81) scale(0.87,1)" font-size="7.13" text-anchor="end" fill="#000" stroke="#000" stroke-width="0.1">'Osmr'</text>
<text transform="translate(50.90,767.44) scale(0.87,1)" font-size="7.13" text-anchor="end" fill="#000" stroke="#000" stroke-width="0.1">'Postn'</text>
<text transform="translate(50.90,773.08) scale(0.87,1)" font-size="7.13" text-anchor="end" fill="#000" stroke="#000" stroke-width="0.1">'Ptprf'</text>
<text transform="translate(50.90,778.71) scale(0.87,1)" font-size="7.13" text-anchor="end" fill="#000" stroke="#000" stroke-width="0.1">'Ptprm'</text>
<text transform="translate(50.90,784.34) scale(0.87,1)" font-size="7.13" text-anchor="end" fill="#000" stroke="#000" stroke-width="0.1">'Robo1'</text>
<text transform="translate(50.90,789.97) scale(0.87,1)" font-size="7.13" text-anchor="end" fill="#000" stroke="#000" stroke-width="0.1">'S1pr3'</text>
<text transform="translate(50.90,795.61) scale(0.87,1)" font-size="7.13" text-anchor="end" fill="#000" stroke="#000" stroke-width="0.1">'Slit3'</text>
<text transform="translate(50.90,801.24) scale(0.87,1)" font-size="7.13" text-anchor="end" fill="#000" stroke="#000" stroke-width="0.1">'Spon2'</text>
<text transform="translate(50.90,806.87) scale(0.87,1)" font-size="7.13" text-anchor="end" fill="#000" stroke="#000" stroke-width="0.1">'Tgfb3'</text>
<text transform="translate(50.90,812.51) scale(0.87,1)" font-size="7.13" text-anchor="end" fill="#000" stroke="#000" stroke-width="0.1">'Tnfrsf13c'</text>
<text transform="translate(50.90,818.14) scale(0.87,1)" font-size="7.13" text-anchor="end" fill="#000" stroke="#000" stroke-width="0.1">'Vegfd'</text>
<text transform="translate(50.90,823.77) scale(0.87,1)" font-size="7.13" text-anchor="end" fill="#000" stroke="#000" stroke-width="0.1">'Wnt4'</text>
<text transform="translate(50.90,829.41) scale(0.87,1)" font-size="7.13" text-anchor="end" fill="#000" stroke="#000" stroke-width="0.1">'Wnt5a'</text>
<text transform="translate(50.90,835.04) scale(0.87,1)" font-size="7.13" text-anchor="end" fill="#000" stroke="#000" stroke-width="0.1">'Acot4'</text>
<text transform="translate(50.90,840.67) scale(0.87,1)" font-size="7.13" text-anchor="end" fill="#000" stroke="#000" stroke-width="0.1">'Acot6'</text>
<text transform="translate(50.90,846.30) scale(0.87,1)" font-size="7.13" text-anchor="end" fill="#000" stroke="#000" stroke-width="0.1">'Acox'</text>
<text transform="translate(50.90,851.94) scale(0.87,1)" font-size="7.13" text-anchor="end" fill="#000" stroke="#000" stroke-width="0.1">'Alg12'</text>
<text transform="translate(50.90,857.57) scale(0.87,1)" font-size="7.13" text-anchor="end" fill="#000" stroke="#000" stroke-width="0.1">'Alg13'</text>
<text transform="translate(50.90,863.20) scale(0.87,1)" font-size="7.13" text-anchor="end" fill="#000" stroke="#000" stroke-width="0.1">'Cyp2j6'</text>
<text transform="translate(50.90,868.84) scale(0.87,1)" font-size="7.13" text-anchor="end" fill="#000" stroke="#000" stroke-width="0.1">'Cyp2j9'</text>
<text transform="translate(50.90,874.47) scale(0.87,1)" font-size="7.13" text-anchor="end" fill="#000" stroke="#000" stroke-width="0.1">'Enpp2'</text>
<text transform="translate(50.90,880.10) scale(0.87,1)" font-size="7.13" text-anchor="end" fill="#000" stroke="#000" stroke-width="0.1">'Fuom'</text>
<text transform="translate(50.90,885.73) scale(0.87,1)" font-size="7.13" text-anchor="end" fill="#000" stroke="#000" stroke-width="0.1">'Gdpd3'</text>
<text transform="translate(50.90,891.37) scale(0.87,1)" font-size="7.13" text-anchor="end" fill="#000" stroke="#000" stroke-width="0.1">'Gfpt2'</text>
<text transform="translate(50.90,897.00) scale(0.87,1)" font-size="7.13" text-anchor="end" fill="#000" stroke="#000" stroke-width="0.1">'Gne'</text>
<text transform="translate(50.90,902.63) scale(0.87,1)" font-size="7.13" text-anchor="end" fill="#000" stroke="#000" stroke-width="0.1">'Lpcat2'</text>
<text transform="translate(50.90,908.27) scale(0.87,1)" font-size="7.13" text-anchor="end" fill="#000" stroke="#000" stroke-width="0.1">'Lpcat4'</text>
<text transform="translate(50.90,913.90) scale(0.87,1)" font-size="7.13" text-anchor="end" fill="#000" stroke="#000" stroke-width="0.1">'Npl'</text>
<text transform="translate(50.90,919.53) scale(0.87,1)" font-size="7.13" text-anchor="end" fill="#000" stroke="#000" stroke-width="0.1">'Nudt14'</text>
<text transform="translate(50.90,925.17) scale(0.87,1)" font-size="7.13" text-anchor="end" fill="#000" stroke="#000" stroke-width="0.1">'Pafah2'</text>
<text transform="translate(50.90,930.80) scale(0.87,1)" font-size="7.13" text-anchor="end" fill="#000" stroke="#000" stroke-width="0.1">'Pik3r3'</text>
<text transform="translate(50.90,936.43) scale(0.87,1)" font-size="7.13" text-anchor="end" fill="#000" stroke="#000" stroke-width="0.1">'Pla2g4b'</text>
<text transform="translate(50.90,942.06) scale(0.87,1)" font-size="7.13" text-anchor="end" fill="#000" stroke="#000" stroke-width="0.1">'Pla2g6'</text>
<text transform="translate(50.90,947.70) scale(0.87,1)" font-size="7.13" text-anchor="end" fill="#000" stroke="#000" stroke-width="0.1">'Plcb1'</text>
<text transform="translate(50.90,953.33) scale(0.87,1)" font-size="7.13" text-anchor="end" fill="#000" stroke="#000" stroke-width="0.1">'Plcb4'</text>
<text transform="translate(50.90,958.96) scale(0.87,1)" font-size="7.13" text-anchor="end" fill="#000" stroke="#000" stroke-width="0.1">'Pld1'</text>
<text transform="translate(50.90,964.60) scale(0.87,1)" font-size="7.13" text-anchor="end" fill="#000" stroke="#000" stroke-width="0.1">'Pld4'</text>
<text transform="translate(50.90,970.23) scale(0.87,1)" font-size="7.13" text-anchor="end" fill="#000" stroke="#000" stroke-width="0.1">'Plpp1'</text>
<text transform="translate(50.90,975.86) scale(0.87,1)" font-size="7.13" text-anchor="end" fill="#000" stroke="#000" stroke-width="0.1">'Prkca'</text>
<text transform="translate(50.90,981.49) scale(0.87,1)" font-size="7.13" text-anchor="end" fill="#000" stroke="#000" stroke-width="0.1">'Smarcd3'</text>
<text transform="translate(50.90,987.13) scale(0.87,1)" font-size="7.13" text-anchor="end" fill="#000" stroke="#000" stroke-width="0.1">'St3gal6'</text>
<text transform="translate(50.90,992.76) scale(0.87,1)" font-size="7.13" text-anchor="end" fill="#000" stroke="#000" stroke-width="0.1">'St6galnac3'</text>
<text transform="translate(50.90,998.39) scale(0.87,1)" font-size="7.13" text-anchor="end" fill="#000" stroke="#000" stroke-width="0.1">'St8sia6'</text>
<rect x="158.30" y="503.30" width="23.70" height="5.69" fill="#fad4d6"/>
<rect x="182.00" y="503.30" width="23.70" height="5.69" fill="#f29096"/>
<rect x="205.70" y="503.30" width="23.70" height="5.69" fill="#6664ff"/>
<rect x="158.30" y="508.99" width="23.70" height="5.69" fill="#faf6f8"/>
<rect x="182.00" y="508.99" width="23.70" height="5.69" fill="#6664ff"/>
<rect x="205.70" y="508.99" width="23.70" height="5.69" fill="#f26066"/>
<rect x="158.30" y="514.67" width="23.70" height="5.69" fill="#9e9eff"/>
<rect x="182.00" y="514.67" width="23.70" height="5.69" fill="#d2d4ff"/>
<rect x="205.70" y="514.67" width="23.70" height="5.69" fill="#f26066"/>
<rect x="158.30" y="520.36" width="23.70" height="5.69" fill="#6664ff"/>
<rect x="182.00" y="520.36" width="23.70" height="5.69" fill="#f26066"/>
<rect x="205.70" y="520.36" width="23.70" height="5.69" fill="#d2d4ff"/>
<rect x="158.30" y="526.05" width="23.70" height="5.69" fill="#6664ff"/>
<rect x="182.00" y="526.05" width="23.70" height="5.69" fill="#faf6f8"/>
<rect x="205.70" y="526.05" width="23.70" height="5.69" fill="#f26066"/>
<rect x="158.30" y="531.74" width="23.70" height="5.69" fill="#9e9eff"/>
<rect x="182.00" y="531.74" width="23.70" height="5.69" fill="#d2d4ff"/>
<rect x="205.70" y="531.74" width="23.70" height="5.69" fill="#f26066"/>
<rect x="158.30" y="537.42" width="23.70" height="5.69" fill="#1408ff"/>
<rect x="182.00" y="537.42" width="23.70" height="5.69" fill="#ff2014"/>
<rect x="205.70" y="537.42" width="23.70" height="5.69" fill="#faf6f8"/>
<rect x="158.30" y="543.11" width="23.70" height="5.69" fill="#9e9eff"/>
<rect x="182.00" y="543.11" width="23.70" height="5.69" fill="#f63e42"/>
<rect x="205.70" y="543.11" width="23.70" height="5.69" fill="#9e9eff"/>
<rect x="158.30" y="548.80" width="23.70" height="5.69" fill="#6664ff"/>
<rect x="182.00" y="548.80" width="23.70" height="5.69" fill="#f26066"/>
<rect x="205.70" y="548.80" width="23.70" height="5.69" fill="#d2d4ff"/>
<rect x="158.30" y="554.49" width="23.70" height="5.69" fill="#3a32ff"/>
<rect x="182.00" y="554.49" width="23.70" height="5.69" fill="#fad4d6"/>
<rect x="205.70" y="554.49" width="23.70" height="5.69" fill="#f26066"/>
<rect x="158.30" y="560.17" width="23.70" height="5.69" fill="#9e9eff"/>
<rect x="182.00" y="560.17" width="23.70" height="5.69" fill="#ff2014"/>
<rect x="205.70" y="560.17" width="23.70" height="5.69" fill="#6664ff"/>
<rect x="158.30" y="565.86" width="23.70" height="5.69" fill="#d2d4ff"/>
<rect x="182.00" y="565.86" width="23.70" height="5.69" fill="#fad4d6"/>
<rect x="205.70" y="565.86" width="23.70" height="5.69" fill="#faf6f8"/>
<rect x="158.30" y="571.55" width="23.70" height="5.69" fill="#d2d4ff"/>
<rect x="182.00" y="571.55" width="23.70" height="5.69" fill="#f26066"/>
<rect x="205.70" y="571.55" width="23.70" height="5.69" fill="#6664ff"/>
<rect x="158.30" y="577.24" width="23.70" height="5.69" fill="#3a32ff"/>
<rect x="182.00" y="577.24" width="23.70" height="5.69" fill="#fad4d6"/>
<rect x="205.70" y="577.24" width="23.70" height="5.69" fill="#f26066"/>
<rect x="158.30" y="582.92" width="23.70" height="5.69" fill="#f29096"/>
<rect x="182.00" y="582.92" width="23.70" height="5.69" fill="#1408ff"/>
<rect x="205.70" y="582.92" width="23.70" height="5.69" fill="#f26066"/>
<rect x="158.30" y="588.61" width="23.70" height="5.69" fill="#6664ff"/>
<rect x="182.00" y="588.61" width="23.70" height="5.69" fill="#ff2014"/>
<rect x="205.70" y="588.61" width="23.70" height="5.69" fill="#9e9eff"/>
<rect x="158.30" y="594.30" width="23.70" height="5.69" fill="#3a32ff"/>
<rect x="182.00" y="594.30" width="23.70" height="5.69" fill="#f26066"/>
<rect x="205.70" y="594.30" width="23.70" height="5.69" fill="#fad4d6"/>
<rect x="158.30" y="599.99" width="23.70" height="5.69" fill="#6664ff"/>
<rect x="182.00" y="599.99" width="23.70" height="5.69" fill="#d2d4ff"/>
<rect x="205.70" y="599.99" width="23.70" height="5.69" fill="#f63e42"/>
<rect x="158.30" y="605.67" width="23.70" height="5.69" fill="#6664ff"/>
<rect x="182.00" y="605.67" width="23.70" height="5.69" fill="#f26066"/>
<rect x="205.70" y="605.67" width="23.70" height="5.69" fill="#d2d4ff"/>
<rect x="158.30" y="611.36" width="23.70" height="5.69" fill="#9e9eff"/>
<rect x="182.00" y="611.36" width="23.70" height="5.69" fill="#f26066"/>
<rect x="205.70" y="611.36" width="23.70" height="5.69" fill="#d2d4ff"/>
<rect x="158.30" y="617.05" width="23.70" height="5.69" fill="#6664ff"/>
<rect x="182.00" y="617.05" width="23.70" height="5.69" fill="#f26066"/>
<rect x="205.70" y="617.05" width="23.70" height="5.69" fill="#faf6f8"/>
<rect x="158.30" y="622.73" width="23.70" height="5.69" fill="#faf6f8"/>
<rect x="182.00" y="622.73" width="23.70" height="5.69" fill="#ff2014"/>
<rect x="205.70" y="622.73" width="23.70" height="5.69" fill="#1408ff"/>
<rect x="158.30" y="628.42" width="23.70" height="5.69" fill="#d2d4ff"/>
<rect x="182.00" y="628.42" width="23.70" height="5.69" fill="#6664ff"/>
<rect x="205.70" y="628.42" width="23.70" height="5.69" fill="#f63e42"/>
<rect x="158.30" y="634.11" width="23.70" height="5.69" fill="#d2d4ff"/>
<rect x="182.00" y="634.11" width="23.70" height="5.69" fill="#f26066"/>
<rect x="205.70" y="634.11" width="23.70" height="5.69" fill="#6664ff"/>
<rect x="158.30" y="639.80" width="23.70" height="5.69" fill="#faf6f8"/>
<rect x="182.00" y="639.80" width="23.70" height="5.69" fill="#f26066"/>
<rect x="205.70" y="639.80" width="23.70" height="5.69" fill="#6664ff"/>
<rect x="158.30" y="645.48" width="23.70" height="5.69" fill="#3a32ff"/>
<rect x="182.00" y="645.48" width="23.70" height="5.69" fill="#f26066"/>
<rect x="205.70" y="645.48" width="23.70" height="5.69" fill="#fad4d6"/>
<rect x="158.30" y="651.17" width="23.70" height="5.69" fill="#6664ff"/>
<rect x="182.00" y="651.17" width="23.70" height="5.69" fill="#f26066"/>
<rect x="205.70" y="651.17" width="23.70" height="5.69" fill="#faf6f8"/>
<rect x="158.30" y="656.86" width="23.70" height="5.69" fill="#9e9eff"/>
<rect x="182.00" y="656.86" width="23.70" height="5.69" fill="#f63e42"/>
<rect x="205.70" y="656.86" width="23.70" height="5.69" fill="#6664ff"/>
<rect x="158.30" y="662.55" width="23.70" height="5.69" fill="#6664ff"/>
<rect x="182.00" y="662.55" width="23.70" height="5.69" fill="#f26066"/>
<rect x="205.70" y="662.55" width="23.70" height="5.69" fill="#faf6f8"/>
<rect x="158.30" y="668.23" width="23.70" height="5.69" fill="#3a32ff"/>
<rect x="182.00" y="668.23" width="23.70" height="5.69" fill="#fad4d6"/>
<rect x="205.70" y="668.23" width="23.70" height="5.69" fill="#f29096"/>
<rect x="158.30" y="673.92" width="23.70" height="5.69" fill="#3a32ff"/>
<rect x="182.00" y="673.92" width="23.70" height="5.69" fill="#f26066"/>
<rect x="205.70" y="673.92" width="23.70" height="5.69" fill="#fad4d6"/>
<rect x="158.30" y="679.61" width="23.70" height="5.69" fill="#3a32ff"/>
<rect x="182.00" y="679.61" width="23.70" height="5.69" fill="#f26066"/>
<rect x="205.70" y="679.61" width="23.70" height="5.69" fill="#fad4d6"/>
<rect x="158.30" y="685.30" width="23.70" height="5.69" fill="#6664ff"/>
<rect x="182.00" y="685.30" width="23.70" height="5.69" fill="#fad4d6"/>
<rect x="205.70" y="685.30" width="23.70" height="5.69" fill="#f29096"/>
<rect x="158.30" y="690.98" width="23.70" height="5.69" fill="#9e9eff"/>
<rect x="182.00" y="690.98" width="23.70" height="5.69" fill="#f26066"/>
<rect x="205.70" y="690.98" width="23.70" height="5.69" fill="#d2d4ff"/>
<rect x="158.30" y="696.67" width="23.70" height="5.69" fill="#6664ff"/>
<rect x="182.00" y="696.67" width="23.70" height="5.69" fill="#faf6f8"/>
<rect x="205.70" y="696.67" width="23.70" height="5.69" fill="#f29096"/>
<rect x="158.30" y="702.36" width="23.70" height="5.69" fill="#6664ff"/>
<rect x="182.00" y="702.36" width="23.70" height="5.69" fill="#f26066"/>
<rect x="205.70" y="702.36" width="23.70" height="5.69" fill="#faf6f8"/>
<rect x="158.30" y="708.04" width="23.70" height="5.69" fill="#6664ff"/>
<rect x="182.00" y="708.04" width="23.70" height="5.69" fill="#f29096"/>
<rect x="205.70" y="708.04" width="23.70" height="5.69" fill="#fad4d6"/>
<rect x="158.30" y="713.73" width="23.70" height="5.69" fill="#6664ff"/>
<rect x="182.00" y="713.73" width="23.70" height="5.69" fill="#fad4d6"/>
<rect x="205.70" y="713.73" width="23.70" height="5.69" fill="#f29096"/>
<rect x="158.30" y="719.42" width="23.70" height="5.69" fill="#3a32ff"/>
<rect x="182.00" y="719.42" width="23.70" height="5.69" fill="#d2d4ff"/>
<rect x="205.70" y="719.42" width="23.70" height="5.69" fill="#ff2014"/>
<rect x="158.30" y="725.11" width="23.70" height="5.69" fill="#9e9eff"/>
<rect x="182.00" y="725.11" width="23.70" height="5.69" fill="#f26066"/>
<rect x="205.70" y="725.11" width="23.70" height="5.69" fill="#d2d4ff"/>
<rect x="158.30" y="730.79" width="23.70" height="5.69" fill="#1408ff"/>
<rect x="182.00" y="730.79" width="23.70" height="5.69" fill="#d2d4ff"/>
<rect x="205.70" y="730.79" width="23.70" height="5.69" fill="#ff2014"/>
<rect x="158.30" y="736.48" width="23.70" height="5.69" fill="#6664ff"/>
<rect x="182.00" y="736.48" width="23.70" height="5.69" fill="#f63e42"/>
<rect x="205.70" y="736.48" width="23.70" height="5.69" fill="#9e9eff"/>
<rect x="158.30" y="742.17" width="23.70" height="5.69" fill="#6664ff"/>
<rect x="182.00" y="742.17" width="23.70" height="5.69" fill="#f26066"/>
<rect x="205.70" y="742.17" width="23.70" height="5.69" fill="#faf6f8"/>
<rect x="158.30" y="747.86" width="23.70" height="5.69" fill="#1408ff"/>
<rect x="182.00" y="747.86" width="23.70" height="5.69" fill="#f29096"/>
<rect x="205.70" y="747.86" width="23.70" height="5.69" fill="#f29096"/>
<rect x="158.30" y="753.54" width="23.70" height="5.69" fill="#9e9eff"/>
<rect x="182.00" y="753.54" width="23.70" height="5.69" fill="#ff2014"/>
<rect x="205.70" y="753.54" width="23.70" height="5.69" fill="#6664ff"/>
<rect x="158.30" y="759.23" width="23.70" height="5.69" fill="#6664ff"/>
<rect x="182.00" y="759.23" width="23.70" height="5.69" fill="#f29096"/>
<rect x="205.70" y="759.23" width="23.70" height="5.69" fill="#fad4d6"/>
<rect x="158.30" y="764.92" width="23.70" height="5.69" fill="#6664ff"/>
<rect x="182.00" y="764.92" width="23.70" height="5.69" fill="#f26066"/>
<rect x="205.70" y="764.92" width="23.70" height="5.69" fill="#d2d4ff"/>
<rect x="158.30" y="770.61" width="23.70" height="5.69" fill="#9e9eff"/>
<rect x="182.00" y="770.61" width="23.70" height="5.69" fill="#f63e42"/>
<rect x="205.70" y="770.61" width="23.70" height="5.69" fill="#6664ff"/>
<rect x="158.30" y="776.29" width="23.70" height="5.69" fill="#6664ff"/>
<rect x="182.00" y="776.29" width="23.70" height="5.69" fill="#d2d4ff"/>
<rect x="205.70" y="776.29" width="23.70" height="5.69" fill="#f63e42"/>
<rect x="158.30" y="781.98" width="23.70" height="5.69" fill="#6664ff"/>
<rect x="182.00" y="781.98" width="23.70" height="5.69" fill="#f26066"/>
<rect x="205.70" y="781.98" width="23.70" height="5.69" fill="#d2d4ff"/>
<rect x="158.30" y="787.67" width="23.70" height="5.69" fill="#9e9eff"/>
<rect x="182.00" y="787.67" width="23.70" height="5.69" fill="#f26066"/>
<rect x="205.70" y="787.67" width="23.70" height="5.69" fill="#9e9eff"/>
<rect x="158.30" y="793.36" width="23.70" height="5.69" fill="#1408ff"/>
<rect x="182.00" y="793.36" width="23.70" height="5.69" fill="#fad4d6"/>
<rect x="205.70" y="793.36" width="23.70" height="5.69" fill="#f63e42"/>
<rect x="158.30" y="799.04" width="23.70" height="5.69" fill="#9e9eff"/>
<rect x="182.00" y="799.04" width="23.70" height="5.69" fill="#f63e42"/>
<rect x="205.70" y="799.04" width="23.70" height="5.69" fill="#6664ff"/>
<rect x="158.30" y="804.73" width="23.70" height="5.69" fill="#6664ff"/>
<rect x="182.00" y="804.73" width="23.70" height="5.69" fill="#f26066"/>
<rect x="205.70" y="804.73" width="23.70" height="5.69" fill="#faf6f8"/>
<rect x="158.30" y="810.42" width="23.70" height="5.69" fill="#1408ff"/>
<rect x="182.00" y="810.42" width="23.70" height="5.69" fill="#f26066"/>
<rect x="205.70" y="810.42" width="23.70" height="5.69" fill="#f29096"/>
<rect x="158.30" y="816.10" width="23.70" height="5.69" fill="#3a32ff"/>
<rect x="182.00" y="816.10" width="23.70" height="5.69" fill="#d2d4ff"/>
<rect x="205.70" y="816.10" width="23.70" height="5.69" fill="#ff2014"/>
<rect x="158.30" y="821.79" width="23.70" height="5.69" fill="#3a32ff"/>
<rect x="182.00" y="821.79" width="23.70" height="5.69" fill="#f29096"/>
<rect x="205.70" y="821.79" width="23.70" height="5.69" fill="#fad4d6"/>
<rect x="158.30" y="827.48" width="23.70" height="5.69" fill="#fad4d6"/>
<rect x="182.00" y="827.48" width="23.70" height="5.69" fill="#3a32ff"/>
<rect x="205.70" y="827.48" width="23.70" height="5.69" fill="#f29096"/>
<rect x="158.30" y="833.17" width="23.70" height="5.69" fill="#d2d4ff"/>
<rect x="182.00" y="833.17" width="23.70" height="5.69" fill="#f63e42"/>
<rect x="205.70" y="833.17" width="23.70" height="5.69" fill="#6664ff"/>
<rect x="158.30" y="838.85" width="23.70" height="5.69" fill="#3a32ff"/>
<rect x="182.00" y="838.85" width="23.70" height="5.69" fill="#f26066"/>
<rect x="205.70" y="838.85" width="23.70" height="5.69" fill="#fad4d6"/>
<rect x="158.30" y="844.54" width="23.70" height="5.69" fill="#3a32ff"/>
<rect x="182.00" y="844.54" width="23.70" height="5.69" fill="#fad4d6"/>
<rect x="205.70" y="844.54" width="23.70" height="5.69" fill="#f26066"/>
<rect x="158.30" y="850.23" width="23.70" height="5.69" fill="#6664ff"/>
<rect x="182.00" y="850.23" width="23.70" height="5.69" fill="#fad4d6"/>
<rect x="205.70" y="850.23" width="23.70" height="5.69" fill="#f26066"/>
<rect x="158.30" y="855.92" width="23.70" height="5.69" fill="#6664ff"/>
<rect x="182.00" y="855.92" width="23.70" height="5.69" fill="#f26066"/>
<rect x="205.70" y="855.92" width="23.70" height="5.69" fill="#d2d4ff"/>
<rect x="158.30" y="861.60" width="23.70" height="5.69" fill="#6664ff"/>
<rect x="182.00" y="861.60" width="23.70" height="5.69" fill="#f63e42"/>
<rect x="205.70" y="861.60" width="23.70" height="5.69" fill="#faf6f8"/>
<rect x="158.30" y="867.29" width="23.70" height="5.69" fill="#d2d4ff"/>
<rect x="182.00" y="867.29" width="23.70" height="5.69" fill="#ff2014"/>
<rect x="205.70" y="867.29" width="23.70" height="5.69" fill="#6664ff"/>
<rect x="158.30" y="872.98" width="23.70" height="5.69" fill="#9e9eff"/>
<rect x="182.00" y="872.98" width="23.70" height="5.69" fill="#f26066"/>
<rect x="205.70" y="872.98" width="23.70" height="5.69" fill="#9e9eff"/>
<rect x="158.30" y="878.67" width="23.70" height="5.69" fill="#6664ff"/>
<rect x="182.00" y="878.67" width="23.70" height="5.69" fill="#f26066"/>
<rect x="205.70" y="878.67" width="23.70" height="5.69" fill="#d2d4ff"/>
<rect x="158.30" y="884.35" width="23.70" height="5.69" fill="#d2d4ff"/>
<rect x="182.00" y="884.35" width="23.70" height="5.69" fill="#9e9eff"/>
<rect x="205.70" y="884.35" width="23.70" height="5.69" fill="#f26066"/>
<rect x="158.30" y="890.04" width="23.70" height="5.69" fill="#6664ff"/>
<rect x="182.00" y="890.04" width="23.70" height="5.69" fill="#f29096"/>
<rect x="205.70" y="890.04" width="23.70" height="5.69" fill="#fad4d6"/>
<rect x="158.30" y="895.73" width="23.70" height="5.69" fill="#fad4d6"/>
<rect x="182.00" y="895.73" width="23.70" height="5.69" fill="#1408ff"/>
<rect x="205.70" y="895.73" width="23.70" height="5.69" fill="#ff2014"/>
<rect x="158.30" y="901.41" width="23.70" height="5.69" fill="#6664ff"/>
<rect x="182.00" y="901.41" width="23.70" height="5.69" fill="#f29096"/>
<rect x="205.70" y="901.41" width="23.70" height="5.69" fill="#fad4d6"/>
<rect x="158.30" y="907.10" width="23.70" height="5.69" fill="#6664ff"/>
<rect x="182.00" y="907.10" width="23.70" height="5.69" fill="#fad4d6"/>
<rect x="205.70" y="907.10" width="23.70" height="5.69" fill="#f29096"/>
<rect x="158.30" y="912.79" width="23.70" height="5.69" fill="#d2d4ff"/>
<rect x="182.00" y="912.79" width="23.70" height="5.69" fill="#f63e42"/>
<rect x="205.70" y="912.79" width="23.70" height="5.69" fill="#6664ff"/>
<rect x="158.30" y="918.48" width="23.70" height="5.69" fill="#faf6f8"/>
<rect x="182.00" y="918.48" width="23.70" height="5.69" fill="#fad4d6"/>
<rect x="205.70" y="918.48" width="23.70" height="5.69" fill="#d2d4ff"/>
<rect x="158.30" y="924.16" width="23.70" height="5.69" fill="#3a32ff"/>
<rect x="182.00" y="924.16" width="23.70" height="5.69" fill="#faf6f8"/>
<rect x="205.70" y="924.16" width="23.70" height="5.69" fill="#f26066"/>
<rect x="158.30" y="929.85" width="23.70" height="5.69" fill="#d2d4ff"/>
<rect x="182.00" y="929.85" width="23.70" height="5.69" fill="#f29096"/>
<rect x="205.70" y="929.85" width="23.70" height="5.69" fill="#9e9eff"/>
<rect x="158.30" y="935.54" width="23.70" height="5.69" fill="#d2d4ff"/>
<rect x="182.00" y="935.54" width="23.70" height="5.69" fill="#9e9eff"/>
<rect x="205.70" y="935.54" width="23.70" height="5.69" fill="#f26066"/>
<rect x="158.30" y="941.23" width="23.70" height="5.69" fill="#9e9eff"/>
<rect x="182.00" y="941.23" width="23.70" height="5.69" fill="#f29096"/>
<rect x="205.70" y="941.23" width="23.70" height="5.69" fill="#faf6f8"/>
<rect x="158.30" y="946.91" width="23.70" height="5.69" fill="#6664ff"/>
<rect x="182.00" y="946.91" width="23.70" height="5.69" fill="#f63e42"/>
<rect x="205.70" y="946.91" width="23.70" height="5.69" fill="#6664ff"/>
<rect x="158.30" y="952.60" width="23.70" height="5.69" fill="#9e9eff"/>
<rect x="182.00" y="952.60" width="23.70" height="5.69" fill="#f63e42"/>
<rect x="205.70" y="952.60" width="23.70" height="5.69" fill="#9e9eff"/>
<rect x="158.30" y="958.29" width="23.70" height="5.69" fill="#1408ff"/>
<rect x="182.00" y="958.29" width="23.70" height="5.69" fill="#f26066"/>
<rect x="205.70" y="958.29" width="23.70" height="5.69" fill="#fad4d6"/>
<rect x="158.30" y="963.98" width="23.70" height="5.69" fill="#6664ff"/>
<rect x="182.00" y="963.98" width="23.70" height="5.69" fill="#fad4d6"/>
<rect x="205.70" y="963.98" width="23.70" height="5.69" fill="#f26066"/>
<rect x="158.30" y="969.66" width="23.70" height="5.69" fill="#6664ff"/>
<rect x="182.00" y="969.66" width="23.70" height="5.69" fill="#fad4d6"/>
<rect x="205.70" y="969.66" width="23.70" height="5.69" fill="#f29096"/>
<rect x="158.30" y="975.35" width="23.70" height="5.69" fill="#6664ff"/>
<rect x="182.00" y="975.35" width="23.70" height="5.69" fill="#f29096"/>
<rect x="205.70" y="975.35" width="23.70" height="5.69" fill="#faf6f8"/>
<rect x="158.30" y="981.04" width="23.70" height="5.69" fill="#d2d4ff"/>
<rect x="182.00" y="981.04" width="23.70" height="5.69" fill="#f29096"/>
<rect x="205.70" y="981.04" width="23.70" height="5.69" fill="#9e9eff"/>
<rect x="158.30" y="986.73" width="23.70" height="5.69" fill="#d2d4ff"/>
<rect x="182.00" y="986.73" width="23.70" height="5.69" fill="#faf6f8"/>
<rect x="205.70" y="986.73" width="23.70" height="5.69" fill="#f29096"/>
<rect x="158.30" y="992.41" width="23.70" height="5.69" fill="#faf6f8"/>
<rect x="182.00" y="992.41" width="23.70" height="5.69" fill="#f26066"/>
<rect x="205.70" y="992.41" width="23.70" height="5.69" fill="#6664ff"/>
<line x1="158.30" y1="508.99" x2="229.40" y2="508.99" stroke="#000" stroke-opacity="0.6" stroke-width="0.85"/>
<line x1="158.30" y1="514.67" x2="229.40" y2="514.67" stroke="#000" stroke-opacity="0.6" stroke-width="0.85"/>
<line x1="158.30" y1="520.36" x2="229.40" y2="520.36" stroke="#000" stroke-opacity="0.6" stroke-width="0.85"/>
<line x1="158.30" y1="526.05" x2="229.40" y2="526.05" stroke="#000" stroke-opacity="0.6" stroke-width="0.85"/>
<line x1="158.30" y1="531.74" x2="229.40" y2="531.74" stroke="#000" stroke-opacity="0.6" stroke-width="0.85"/>
<line x1="158.30" y1="537.42" x2="229.40" y2="537.42" stroke="#000" stroke-opacity="0.6" stroke-width="0.85"/>
<line x1="158.30" y1="543.11" x2="229.40" y2="543.11" stroke="#000" stroke-opacity="0.6" stroke-width="0.85"/>
<line x1="158.30" y1="548.80" x2="229.40" y2="548.80" stroke="#000" stroke-opacity="0.6" stroke-width="0.85"/>
<line x1="158.30" y1="554.49" x2="229.40" y2="554.49" stroke="#000" stroke-opacity="0.6" stroke-width="0.85"/>
<line x1="158.30" y1="560.17" x2="229.40" y2="560.17" stroke="#000" stroke-opacity="0.6" stroke-width="0.85"/>
<line x1="158.30" y1="565.86" x2="229.40" y2="565.86" stroke="#000" stroke-opacity="0.6" stroke-width="0.85"/>
<line x1="158.30" y1="571.55" x2="229.40" y2="571.55" stroke="#000" stroke-opacity="0.6" stroke-width="0.85"/>
<line x1="158.30" y1="577.24" x2="229.40" y2="577.24" stroke="#000" stroke-opacity="0.6" stroke-width="0.85"/>
<line x1="158.30" y1="582.92" x2="229.40" y2="582.92" stroke="#000" stroke-opacity="0.6" stroke-width="0.85"/>
<line x1="158.30" y1="588.61" x2="229.40" y2="588.61" stroke="#000" stroke-opacity="0.6" stroke-width="0.85"/>
<line x1="158.30" y1="594.30" x2="229.40" y2="594.30" stroke="#000" stroke-opacity="0.6" stroke-width="0.85"/>
<line x1="158.30" y1="599.99" x2="229.40" y2="599.99" stroke="#000" stroke-opacity="0.6" stroke-width="0.85"/>
<line x1="158.30" y1="605.67" x2="229.40" y2="605.67" stroke="#000" stroke-opacity="0.6" stroke-width="0.85"/>
<line x1="158.30" y1="611.36" x2="229.40" y2="611.36" stroke="#000" stroke-opacity="0.6" stroke-width="0.85"/>
<line x1="158.30" y1="617.05" x2="229.40" y2="617.05" stroke="#000" stroke-opacity="0.6" stroke-width="0.85"/>
<line x1="158.30" y1="622.73" x2="229.40" y2="622.73" stroke="#000" stroke-opacity="0.6" stroke-width="0.85"/>
<line x1="158.30" y1="628.42" x2="229.40" y2="628.42" stroke="#000" stroke-opacity="0.6" stroke-width="0.85"/>
<line x1="158.30" y1="634.11" x2="229.40" y2="634.11" stroke="#000" stroke-opacity="0.6" stroke-width="0.85"/>
<line x1="158.30" y1="639.80" x2="229.40" y2="639.80" stroke="#000" stroke-opacity="0.6" stroke-width="0.85"/>
<line x1="158.30" y1="645.48" x2="229.40" y2="645.48" stroke="#000" stroke-opacity="0.6" stroke-width="0.85"/>
<line x1="158.30" y1="651.17" x2="229.40" y2="651.17" stroke="#000" stroke-opacity="0.6" stroke-width="0.85"/>
<line x1="158.30" y1="656.86" x2="229.40" y2="656.86" stroke="#000" stroke-opacity="0.6" stroke-width="0.85"/>
<line x1="158.30" y1="662.55" x2="229.40" y2="662.55" stroke="#000" stroke-opacity="0.6" stroke-width="0.85"/>
<line x1="158.30" y1="668.23" x2="229.40" y2="668.23" stroke="#000" stroke-opacity="0.6" stroke-width="0.85"/>
<line x1="158.30" y1="673.92" x2="229.40" y2="673.92" stroke="#000" stroke-opacity="0.6" stroke-width="0.85"/>
<line x1="158.30" y1="679.61" x2="229.40" y2="679.61" stroke="#000" stroke-opacity="0.6" stroke-width="0.85"/>
<line x1="158.30" y1="685.30" x2="229.40" y2="685.30" stroke="#000" stroke-opacity="0.6" stroke-width="0.85"/>
<line x1="158.30" y1="690.98" x2="229.40" y2="690.98" stroke="#000" stroke-opacity="0.6" stroke-width="0.85"/>
<line x1="158.30" y1="696.67" x2="229.40" y2="696.67" stroke="#000" stroke-opacity="0.6" stroke-width="0.85"/>
<line x1="158.30" y1="702.36" x2="229.40" y2="702.36" stroke="#000" stroke-opacity="0.6" stroke-width="0.85"/>
<line x1="158.30" y1="708.04" x2="229.40" y2="708.04" stroke="#000" stroke-opacity="0.6" stroke-width="0.85"/>
<line x1="158.30" y1="713.73" x2="229.40" y2="713.73" stroke="#000" stroke-opacity="0.6" stroke-width="0.85"/>
<line x1="158.30" y1="719.42" x2="229.40" y2="719.42" stroke="#000" stroke-opacity="0.6" stroke-width="0.85"/>
<line x1="158.30" y1="725.11" x2="229.40" y2="725.11" stroke="#000" stroke-opacity="0.6" stroke-width="0.85"/>
<line x1="158.30" y1="730.79" x2="229.40" y2="730.79" stroke="#000" stroke-opacity="0.6" stroke-width="0.85"/>
<line x1="158.30" y1="736.48" x2="229.40" y2="736.48" stroke="#000" stroke-opacity="0.6" stroke-width="0.85"/>
<line x1="158.30" y1="742.17" x2="229.40" y2="742.17" stroke="#000" stroke-opacity="0.6" stroke-width="0.85"/>
<line x1="158.30" y1="747.86" x2="229.40" y2="747.86" stroke="#000" stroke-opacity="0.6" stroke-width="0.85"/>
<line x1="158.30" y1="753.54" x2="229.40" y2="753.54" stroke="#000" stroke-opacity="0.6" stroke-width="0.85"/>
<line x1="158.30" y1="759.23" x2="229.40" y2="759.23" stroke="#000" stroke-opacity="0.6" stroke-width="0.85"/>
<line x1="158.30" y1="764.92" x2="229.40" y2="764.92" stroke="#000" stroke-opacity="0.6" stroke-width="0.85"/>
<line x1="158.30" y1="770.61" x2="229.40" y2="770.61" stroke="#000" stroke-opacity="0.6" stroke-width="0.85"/>
<line x1="158.30" y1="776.29" x2="229.40" y2="776.29" stroke="#000" stroke-opacity="0.6" stroke-width="0.85"/>
<line x1="158.30" y1="781.98" x2="229.40" y2="781.98" stroke="#000" stroke-opacity="0.6" stroke-width="0.85"/>
<line x1="158.30" y1="787.67" x2="229.40" y2="787.67" stroke="#000" stroke-opacity="0.6" stroke-width="0.85"/>
<line x1="158.30" y1="793.36" x2="229.40" y2="793.36" stroke="#000" stroke-opacity="0.6" stroke-width="0.85"/>
<line x1="158.30" y1="799.04" x2="229.40" y2="799.04" stroke="#000" stroke-opacity="0.6" stroke-width="0.85"/>
<line x1="158.30" y1="804.73" x2="229.40" y2="804.73" stroke="#000" stroke-opacity="0.6" stroke-width="0.85"/>
<line x1="158.30" y1="810.42" x2="229.40" y2="810.42" stroke="#000" stroke-opacity="0.6" stroke-width="0.85"/>
<line x1="158.30" y1="816.10" x2="229.40" y2="816.10" stroke="#000" stroke-opacity="0.6" stroke-width="0.85"/>
<line x1="158.30" y1="821.79" x2="229.40" y2="821.79" stroke="#000" stroke-opacity="0.6" stroke-width="0.85"/>
<line x1="158.30" y1="827.48" x2="229.40" y2="827.48" stroke="#000" stroke-opacity="0.6" stroke-width="0.85"/>
<line x1="158.30" y1="833.17" x2="229.40" y2="833.17" stroke="#000" stroke-opacity="0.6" stroke-width="0.85"/>
<line x1="158.30" y1="838.85" x2="229.40" y2="838.85" stroke="#000" stroke-opacity="0.6" stroke-width="0.85"/>
<line x1="158.30" y1="844.54" x2="229.40" y2="844.54" stroke="#000" stroke-opacity="0.6" stroke-width="0.85"/>
<line x1="158.30" y1="850.23" x2="229.40" y2="850.23" stroke="#000" stroke-opacity="0.6" stroke-width="0.85"/>
<line x1="158.30" y1="855.92" x2="229.40" y2="855.92" stroke="#000" stroke-opacity="0.6" stroke-width="0.85"/>
<line x1="158.30" y1="861.60" x2="229.40" y2="861.60" stroke="#000" stroke-opacity="0.6" stroke-width="0.85"/>
<line x1="158.30" y1="867.29" x2="229.40" y2="867.29" stroke="#000" stroke-opacity="0.6" stroke-width="0.85"/>
<line x1="158.30" y1="872.98" x2="229.40" y2="872.98" stroke="#000" stroke-opacity="0.6" stroke-width="0.85"/>
<line x1="158.30" y1="878.67" x2="229.40" y2="878.67" stroke="#000" stroke-opacity="0.6" stroke-width="0.85"/>
<line x1="158.30" y1="884.35" x2="229.40" y2="884.35" stroke="#000" stroke-opacity="0.6" stroke-width="0.85"/>
<line x1="158.30" y1="890.04" x2="229.40" y2="890.04" stroke="#000" stroke-opacity="0.6" stroke-width="0.85"/>
<line x1="158.30" y1="895.73" x2="229.40" y2="895.73" stroke="#000" stroke-opacity="0.6" stroke-width="0.85"/>
<line x1="158.30" y1="901.41" x2="229.40" y2="901.41" stroke="#000" stroke-opacity="0.6" stroke-width="0.85"/>
<line x1="158.30" y1="907.10" x2="229.40" y2="907.10" stroke="#000" stroke-opacity="0.6" stroke-width="0.85"/>
<line x1="158.30" y1="912.79" x2="229.40" y2="912.79" stroke="#000" stroke-opacity="0.6" stroke-width="0.85"/>
<line x1="158.30" y1="918.48" x2="229.40" y2="918.48" stroke="#000" stroke-opacity="0.6" stroke-width="0.85"/>
<line x1="158.30" y1="924.16" x2="229.40" y2="924.16" stroke="#000" stroke-opacity="0.6" stroke-width="0.85"/>
<line x1="158.30" y1="929.85" x2="229.40" y2="929.85" stroke="#000" stroke-opacity="0.6" stroke-width="0.85"/>
<line x1="158.30" y1="935.54" x2="229.40" y2="935.54" stroke="#000" stroke-opacity="0.6" stroke-width="0.85"/>
<line x1="158.30" y1="941.23" x2="229.40" y2="941.23" stroke="#000" stroke-opacity="0.6" stroke-width="0.85"/>
<line x1="158.30" y1="946.91" x2="229.40" y2="946.91" stroke="#000" stroke-opacity="0.6" stroke-width="0.85"/>
<line x1="158.30" y1="952.60" x2="229.40" y2="952.60" stroke="#000" stroke-opacity="0.6" stroke-width="0.85"/>
<line x1="158.30" y1="958.29" x2="229.40" y2="958.29" stroke="#000" stroke-opacity="0.6" stroke-width="0.85"/>
<line x1="158.30" y1="963.98" x2="229.40" y2="963.98" stroke="#000" stroke-opacity="0.6" stroke-width="0.85"/>
<line x1="158.30" y1="969.66" x2="229.40" y2="969.66" stroke="#000" stroke-opacity="0.6" stroke-width="0.85"/>
<line x1="158.30" y1="975.35" x2="229.40" y2="975.35" stroke="#000" stroke-opacity="0.6" stroke-width="0.85"/>
<line x1="158.30" y1="981.04" x2="229.40" y2="981.04" stroke="#000" stroke-opacity="0.6" stroke-width="0.85"/>
<line x1="158.30" y1="986.73" x2="229.40" y2="986.73" stroke="#000" stroke-opacity="0.6" stroke-width="0.85"/>
<line x1="158.30" y1="992.41" x2="229.40" y2="992.41" stroke="#000" stroke-opacity="0.6" stroke-width="0.85"/>
<line x1="182.00" y1="503.30" x2="182.00" y2="998.10" stroke="#000" stroke-opacity="0.75" stroke-width="0.9"/>
<line x1="205.70" y1="503.30" x2="205.70" y2="998.10" stroke="#000" stroke-opacity="0.75" stroke-width="0.9"/>
<rect x="158.30" y="503.30" width="71.10" height="494.80" fill="none" stroke="#000" stroke-width="1.2"/>
<text transform="translate(156.30,508.35) scale(0.87,1)" font-size="7.13" text-anchor="end" fill="#000" stroke="#000" stroke-width="0.1">'Abcb4'</text>
<text transform="translate(156.30,514.04) scale(0.87,1)" font-size="7.13" text-anchor="end" fill="#000" stroke="#000" stroke-width="0.1">'Abcd3'</text>
<text transform="translate(156.30,519.73) scale(0.87,1)" font-size="7.13" text-anchor="end" fill="#000" stroke="#000" stroke-width="0.1">'Acacb'</text>
<text transform="translate(156.30,525.42) scale(0.87,1)" font-size="7.13" text-anchor="end" fill="#000" stroke="#000" stroke-width="0.1">'Acadm'</text>
<text transform="translate(156.30,531.10) scale(0.87,1)" font-size="7.13" text-anchor="end" fill="#000" stroke="#000" stroke-width="0.1">'Acads'</text>
<text transform="translate(156.30,536.79) scale(0.87,1)" font-size="7.13" text-anchor="end" fill="#000" stroke="#000" stroke-width="0.1">'Acadvl'</text>
<text transform="translate(156.30,542.48) scale(0.87,1)" font-size="7.13" text-anchor="end" fill="#000" stroke="#000" stroke-width="0.1">'Acsl1'</text>
<text transform="translate(156.30,548.17) scale(0.87,1)" font-size="7.13" text-anchor="end" fill="#000" stroke="#000" stroke-width="0.1">'Acsl3'</text>
<text transform="translate(156.30,553.85) scale(0.87,1)" font-size="7.13" text-anchor="end" fill="#000" stroke="#000" stroke-width="0.1">'Acsl4'</text>
<text transform="translate(156.30,559.54) scale(0.87,1)" font-size="7.13" text-anchor="end" fill="#000" stroke="#000" stroke-width="0.1">'Agpat2'</text>
<text transform="translate(156.30,565.23) scale(0.87,1)" font-size="7.13" text-anchor="end" fill="#000" stroke="#000" stroke-width="0.1">'Aldh9a1'</text>
<text transform="translate(156.30,570.91) scale(0.87,1)" font-size="7.13" text-anchor="end" fill="#000" stroke="#000" stroke-width="0.1">'Angptl4'</text>
<text transform="translate(156.30,576.60) scale(0.87,1)" font-size="7.13" text-anchor="end" fill="#000" stroke="#000" stroke-width="0.1">'Cpt1a'</text>
<text transform="translate(156.30,582.29) scale(0.87,1)" font-size="7.13" text-anchor="end" fill="#000" stroke="#000" stroke-width="0.1">'Cpt2'</text>
<text transform="translate(156.30,587.98) scale(0.87,1)" font-size="7.13" text-anchor="end" fill="#000" stroke="#000" stroke-width="0.1">'Ech1'</text>
<text transform="translate(156.30,593.66) scale(0.87,1)" font-size="7.13" text-anchor="end" fill="#000" stroke="#000" stroke-width="0.1">'Elovl6'</text>
<text transform="translate(156.30,599.35) scale(0.87,1)" font-size="7.13" text-anchor="end" fill="#000" stroke="#000" stroke-width="0.1">'Etfa'</text>
<text transform="translate(156.30,605.04) scale(0.87,1)" font-size="7.13" text-anchor="end" fill="#000" stroke="#000" stroke-width="0.1">'Etfdh'</text>
<text transform="translate(156.30,610.73) scale(0.87,1)" font-size="7.13" text-anchor="end" fill="#000" stroke="#000" stroke-width="0.1">'Fabp3'</text>
<text transform="translate(156.30,616.41) scale(0.87,1)" font-size="7.13" text-anchor="end" fill="#000" stroke="#000" stroke-width="0.1">'Fads2'</text>
<text transform="translate(156.30,622.10) scale(0.87,1)" font-size="7.13" text-anchor="end" fill="#000" stroke="#000" stroke-width="0.1">'Gpam'</text>
<text transform="translate(156.30,627.79) scale(0.87,1)" font-size="7.13" text-anchor="end" fill="#000" stroke="#000" stroke-width="0.1">'Hacl1'</text>
<text transform="translate(156.30,633.48) scale(0.87,1)" font-size="7.13" text-anchor="end" fill="#000" stroke="#000" stroke-width="0.1">'Hadha'</text>
<text transform="translate(156.30,639.16) scale(0.87,1)" font-size="7.13" text-anchor="end" fill="#000" stroke="#000" stroke-width="0.1">'Olr1'</text>
<text transform="translate(156.30,644.85) scale(0.87,1)" font-size="7.13" text-anchor="end" fill="#000" stroke="#000" stroke-width="0.1">'Pltp'</text>
<text transform="translate(156.30,650.54) scale(0.87,1)" font-size="7.13" text-anchor="end" fill="#000" stroke="#000" stroke-width="0.1">'Slc25a20'</text>
<text transform="translate(156.30,656.23) scale(0.87,1)" font-size="7.13" text-anchor="end" fill="#000" stroke="#000" stroke-width="0.1">'Vldlr'</text>
<text transform="translate(156.30,661.91) scale(0.87,1)" font-size="7.13" text-anchor="end" fill="#000" stroke="#000" stroke-width="0.1">'Alox5'</text>
<text transform="translate(156.30,667.60) scale(0.87,1)" font-size="7.13" text-anchor="end" fill="#000" stroke="#000" stroke-width="0.1">'Ccn4'</text>
<text transform="translate(156.30,673.29) scale(0.87,1)" font-size="7.13" text-anchor="end" fill="#000" stroke="#000" stroke-width="0.1">'Cxcl12'</text>
<text transform="translate(156.30,678.97) scale(0.87,1)" font-size="7.13" text-anchor="end" fill="#000" stroke="#000" stroke-width="0.1">'Cxcl5'</text>
<text transform="translate(156.30,684.66) scale(0.87,1)" font-size="7.13" text-anchor="end" fill="#000" stroke="#000" stroke-width="0.1">'Eda2r'</text>
<text transform="translate(156.30,690.35) scale(0.87,1)" font-size="7.13" text-anchor="end" fill="#000" stroke="#000" stroke-width="0.1">'Fxyd1'</text>
<text transform="translate(156.30,696.04) scale(0.87,1)" font-size="7.13" text-anchor="end" fill="#000" stroke="#000" stroke-width="0.1">'Gdf6'</text>
<text transform="translate(156.30,701.72) scale(0.87,1)" font-size="7.13" text-anchor="end" fill="#000" stroke="#000" stroke-width="0.1">'Gnai1'</text>
<text transform="translate(156.30,707.41) scale(0.87,1)" font-size="7.13" text-anchor="end" fill="#000" stroke="#000" stroke-width="0.1">'Ifnlr1'</text>
<text transform="translate(156.30,713.10) scale(0.87,1)" font-size="7.13" text-anchor="end" fill="#000" stroke="#000" stroke-width="0.1">'Il17rc'</text>
<text transform="translate(156.30,718.79) scale(0.87,1)" font-size="7.13" text-anchor="end" fill="#000" stroke="#000" stroke-width="0.1">'Il33'</text>
<text transform="translate(156.30,724.47) scale(0.87,1)" font-size="7.13" text-anchor="end" fill="#000" stroke="#000" stroke-width="0.1">'Il34'</text>
<text transform="translate(156.30,730.16) scale(0.87,1)" font-size="7.13" text-anchor="end" fill="#000" stroke="#000" stroke-width="0.1">'Inava'</text>
<text transform="translate(156.30,735.85) scale(0.87,1)" font-size="7.13" text-anchor="end" fill="#000" stroke="#000" stroke-width="0.1">'Ltb'</text>
<text transform="translate(156.30,741.54) scale(0.87,1)" font-size="7.13" text-anchor="end" fill="#000" stroke="#000" stroke-width="0.1">'Mapk11'</text>
<text transform="translate(156.30,747.22) scale(0.87,1)" font-size="7.13" text-anchor="end" fill="#000" stroke="#000" stroke-width="0.1">'Nbl1'</text>
<text transform="translate(156.30,752.91) scale(0.87,1)" font-size="7.13" text-anchor="end" fill="#000" stroke="#000" stroke-width="0.1">'Nfatc4'</text>
<text transform="translate(156.30,758.60) scale(0.87,1)" font-size="7.13" text-anchor="end" fill="#000" stroke="#000" stroke-width="0.1">'Nr4a3'</text>
<text transform="translate(156.30,764.29) scale(0.87,1)" font-size="7.13" text-anchor="end" fill="#000" stroke="#000" stroke-width="0.1">'Osmr'</text>
<text transform="translate(156.30,769.97) scale(0.87,1)" font-size="7.13" text-anchor="end" fill="#000" stroke="#000" stroke-width="0.1">'Pard3'</text>
<text transform="translate(156.30,775.66) scale(0.87,1)" font-size="7.13" text-anchor="end" fill="#000" stroke="#000" stroke-width="0.1">'Pla2r1'</text>
<text transform="translate(156.30,781.35) scale(0.87,1)" font-size="7.13" text-anchor="end" fill="#000" stroke="#000" stroke-width="0.1">'Postn'</text>
<text transform="translate(156.30,787.03) scale(0.87,1)" font-size="7.13" text-anchor="end" fill="#000" stroke="#000" stroke-width="0.1">'Ptgs2'</text>
<text transform="translate(156.30,792.72) scale(0.87,1)" font-size="7.13" text-anchor="end" fill="#000" stroke="#000" stroke-width="0.1">'Ptprm'</text>
<text transform="translate(156.30,798.41) scale(0.87,1)" font-size="7.13" text-anchor="end" fill="#000" stroke="#000" stroke-width="0.1">'Robo1'</text>
<text transform="translate(156.30,804.10) scale(0.87,1)" font-size="7.13" text-anchor="end" fill="#000" stroke="#000" stroke-width="0.1">'Shc4'</text>
<text transform="translate(156.30,809.78) scale(0.87,1)" font-size="7.13" text-anchor="end" fill="#000" stroke="#000" stroke-width="0.1">'Timp3'</text>
<text transform="translate(156.30,815.47) scale(0.87,1)" font-size="7.13" text-anchor="end" fill="#000" stroke="#000" stroke-width="0.1">'Vegfd'</text>
<text transform="translate(156.30,821.16) scale(0.87,1)" font-size="7.13" text-anchor="end" fill="#000" stroke="#000" stroke-width="0.1">'Wnt4'</text>
<text transform="translate(156.30,826.85) scale(0.87,1)" font-size="7.13" text-anchor="end" fill="#000" stroke="#000" stroke-width="0.1">'Wnt5a'</text>
<text transform="translate(156.30,832.53) scale(0.87,1)" font-size="7.13" text-anchor="end" fill="#000" stroke="#000" stroke-width="0.1">'Acot4'</text>
<text transform="translate(156.30,838.22) scale(0.87,1)" font-size="7.13" text-anchor="end" fill="#000" stroke="#000" stroke-width="0.1">'Acot6'</text>
<text transform="translate(156.30,843.91) scale(0.87,1)" font-size="7.13" text-anchor="end" fill="#000" stroke="#000" stroke-width="0.1">'Alg13'</text>
<text transform="translate(156.30,849.60) scale(0.87,1)" font-size="7.13" text-anchor="end" fill="#000" stroke="#000" stroke-width="0.1">'Enpp2'</text>
<text transform="translate(156.30,855.28) scale(0.87,1)" font-size="7.13" text-anchor="end" fill="#000" stroke="#000" stroke-width="0.1">'Fcsk'</text>
<text transform="translate(156.30,860.97) scale(0.87,1)" font-size="7.13" text-anchor="end" fill="#000" stroke="#000" stroke-width="0.1">'Gfpt2'</text>
<text transform="translate(156.30,866.66) scale(0.87,1)" font-size="7.13" text-anchor="end" fill="#000" stroke="#000" stroke-width="0.1">'Gmds'</text>
<text transform="translate(156.30,872.34) scale(0.87,1)" font-size="7.13" text-anchor="end" fill="#000" stroke="#000" stroke-width="0.1">'Lpcat2'</text>
<text transform="translate(156.30,878.03) scale(0.87,1)" font-size="7.13" text-anchor="end" fill="#000" stroke="#000" stroke-width="0.1">'Lpcat4'</text>
<text transform="translate(156.30,883.72) scale(0.87,1)" font-size="7.13" text-anchor="end" fill="#000" stroke="#000" stroke-width="0.1">'Neu3'</text>
<text transform="translate(156.30,889.41) scale(0.87,1)" font-size="7.13" text-anchor="end" fill="#000" stroke="#000" stroke-width="0.1">'Npl'</text>
<text transform="translate(156.30,895.09) scale(0.87,1)" font-size="7.13" text-anchor="end" fill="#000" stroke="#000" stroke-width="0.1">'Nudt14'</text>
<text transform="translate(156.30,900.78) scale(0.87,1)" font-size="7.13" text-anchor="end" fill="#000" stroke="#000" stroke-width="0.1">'Pafah2'</text>
<text transform="translate(156.30,906.47) scale(0.87,1)" font-size="7.13" text-anchor="end" fill="#000" stroke="#000" stroke-width="0.1">'Pecr'</text>
<text transform="translate(156.30,912.16) scale(0.87,1)" font-size="7.13" text-anchor="end" fill="#000" stroke="#000" stroke-width="0.1">'Pik3r3'</text>
<text transform="translate(156.30,917.84) scale(0.87,1)" font-size="7.13" text-anchor="end" fill="#000" stroke="#000" stroke-width="0.1">'Pla2g4a'</text>
<text transform="translate(156.30,923.53) scale(0.87,1)" font-size="7.13" text-anchor="end" fill="#000" stroke="#000" stroke-width="0.1">'Pla2g4b'</text>
<text transform="translate(156.30,929.22) scale(0.87,1)" font-size="7.13" text-anchor="end" fill="#000" stroke="#000" stroke-width="0.1">'Pla2g6'</text>
<text transform="translate(156.30,934.91) scale(0.87,1)" font-size="7.13" text-anchor="end" fill="#000" stroke="#000" stroke-width="0.1">'Plaat3'</text>
<text transform="translate(156.30,940.59) scale(0.87,1)" font-size="7.13" text-anchor="end" fill="#000" stroke="#000" stroke-width="0.1">'Plcb2'</text>
<text transform="translate(156.30,946.28) scale(0.87,1)" font-size="7.13" text-anchor="end" fill="#000" stroke="#000" stroke-width="0.1">'Plcb4'</text>
<text transform="translate(156.30,951.97) scale(0.87,1)" font-size="7.13" text-anchor="end" fill="#000" stroke="#000" stroke-width="0.1">'Pld1'</text>
<text transform="translate(156.30,957.66) scale(0.87,1)" font-size="7.13" text-anchor="end" fill="#000" stroke="#000" stroke-width="0.1">'Pld4'</text>
<text transform="translate(156.30,963.34) scale(0.87,1)" font-size="7.13" text-anchor="end" fill="#000" stroke="#000" stroke-width="0.1">'Plpp1'</text>
<text transform="translate(156.30,969.03) scale(0.87,1)" font-size="7.13" text-anchor="end" fill="#000" stroke="#000" stroke-width="0.1">'Plpp2'</text>
<text transform="translate(156.30,974.72) scale(0.87,1)" font-size="7.13" text-anchor="end" fill="#000" stroke="#000" stroke-width="0.1">'Prkca'</text>
<text transform="translate(156.30,980.40) scale(0.87,1)" font-size="7.13" text-anchor="end" fill="#000" stroke="#000" stroke-width="0.1">'Smarcd3'</text>
<text transform="translate(156.30,986.09) scale(0.87,1)" font-size="7.13" text-anchor="end" fill="#000" stroke="#000" stroke-width="0.1">'St3gal6'</text>
<text transform="translate(156.30,991.78) scale(0.87,1)" font-size="7.13" text-anchor="end" fill="#000" stroke="#000" stroke-width="0.1">'St8sia1'</text>
<text transform="translate(156.30,997.47) scale(0.87,1)" font-size="7.13" text-anchor="end" fill="#000" stroke="#000" stroke-width="0.1">'St8sia6'</text>
<text transform="translate(68.90,497.70) rotate(-90)" font-size="11.7" fill="#000">WT</text>
<text transform="translate(91.70,497.70) rotate(-90)" font-size="11.7" fill="#000">A10-PPARα</text>
<text transform="translate(115.10,497.70) rotate(-90)" font-size="11.7" fill="#000">A10-PPARα-Cre</text>
<text transform="translate(173.30,497.70) rotate(-90)" font-size="11.7" fill="#000">WT</text>
<text transform="translate(196.70,497.70) rotate(-90)" font-size="11.7" fill="#000">A10-PPARα</text>
<text transform="translate(220.10,497.70) rotate(-90)" font-size="11.7" fill="#000">A10-PPARα-Cre</text>
<text transform="translate(233.00,487.00)" font-size="9.9" fill="#000">z-score</text>
<text transform="translate(233.00,497.80)" font-size="9.9" fill="#000">(mean)</text>
<rect x="233.20" y="503.00" width="7.70" height="71.60" fill="url(#cb50)" stroke="#000" stroke-width="1.2"/>
<line x1="233.70" y1="505.40" x2="236.00" y2="505.40" stroke="#000" stroke-width="1.2"/>
<line x1="238.10" y1="505.40" x2="240.40" y2="505.40" stroke="#000" stroke-width="1.2"/>
<text transform="translate(243.70,507.67)" font-size="6.3" fill="#111" stroke="#111" stroke-width="0.1">1.0</text>
<line x1="233.70" y1="523.30" x2="236.00" y2="523.30" stroke="#000" stroke-width="1.2"/>
<line x1="238.10" y1="523.30" x2="240.40" y2="523.30" stroke="#000" stroke-width="1.2"/>
<text transform="translate(243.70,525.57)" font-size="6.3" fill="#111" stroke="#111" stroke-width="0.1">0.5</text>
<line x1="233.70" y1="539.50" x2="236.00" y2="539.50" stroke="#000" stroke-width="1.2"/>
<line x1="238.10" y1="539.50" x2="240.40" y2="539.50" stroke="#000" stroke-width="1.2"/>
<text transform="translate(243.70,541.77)" font-size="6.3" fill="#111" stroke="#111" stroke-width="0.1">0</text>
<line x1="233.70" y1="555.70" x2="236.00" y2="555.70" stroke="#000" stroke-width="1.2"/>
<line x1="238.10" y1="555.70" x2="240.40" y2="555.70" stroke="#000" stroke-width="1.2"/>
<text transform="translate(243.70,557.97)" font-size="6.3" fill="#111" stroke="#111" stroke-width="0.1">-0.5</text>
<line x1="233.70" y1="572.70" x2="236.00" y2="572.70" stroke="#000" stroke-width="1.2"/>
<line x1="238.10" y1="572.70" x2="240.40" y2="572.70" stroke="#000" stroke-width="1.2"/>
<text transform="translate(243.70,574.97)" font-size="6.3" fill="#111" stroke="#111" stroke-width="0.1">-1.0</text>
<line x1="16.70" y1="503.30" x2="16.70" y2="665.80" stroke="#000" stroke-width="1.1"/>
<line x1="16.70" y1="667.60" x2="16.70" y2="826.00" stroke="#000" stroke-width="1.1"/>
<line x1="16.70" y1="829.00" x2="16.70" y2="998.70" stroke="#000" stroke-width="1.1"/>
<text transform="translate(10.20,588.00) rotate(-90)" font-size="12.2" text-anchor="middle" fill="#000">PPARα target genes</text>
<text transform="translate(10.20,749.50) rotate(-90)" font-size="11.5" text-anchor="middle" fill="#000">PPAR signaling</text>
<text transform="translate(10.20,915.50) rotate(-90)" font-size="11.8" text-anchor="middle" fill="#000">Lipid metabolism</text>
<text transform="translate(314.80,480.70)" font-size="20" font-weight="bold" fill="#000">C</text>
<rect x="384.00" y="554.60" width="23.67" height="6.78" fill="#1408ff"/>
<rect x="407.67" y="554.60" width="23.67" height="6.78" fill="#ff2014"/>
<rect x="431.33" y="554.60" width="23.67" height="6.78" fill="#fad4d6"/>
<rect x="384.00" y="561.38" width="23.67" height="6.78" fill="#9e9eff"/>
<rect x="407.67" y="561.38" width="23.67" height="6.78" fill="#f29096"/>
<rect x="431.33" y="561.38" width="23.67" height="6.78" fill="#d2d4ff"/>
<rect x="384.00" y="568.16" width="23.67" height="6.78" fill="#6664ff"/>
<rect x="407.67" y="568.16" width="23.67" height="6.78" fill="#fad4d6"/>
<rect x="431.33" y="568.16" width="23.67" height="6.78" fill="#f29096"/>
<rect x="384.00" y="574.94" width="23.67" height="6.78" fill="#6664ff"/>
<rect x="407.67" y="574.94" width="23.67" height="6.78" fill="#f26066"/>
<rect x="431.33" y="574.94" width="23.67" height="6.78" fill="#d2d4ff"/>
<rect x="384.00" y="581.72" width="23.67" height="6.78" fill="#3a32ff"/>
<rect x="407.67" y="581.72" width="23.67" height="6.78" fill="#f29096"/>
<rect x="431.33" y="581.72" width="23.67" height="6.78" fill="#f29096"/>
<rect x="384.00" y="588.50" width="23.67" height="6.78" fill="#3a32ff"/>
<rect x="407.67" y="588.50" width="23.67" height="6.78" fill="#fad4d6"/>
<rect x="431.33" y="588.50" width="23.67" height="6.78" fill="#f26066"/>
<rect x="384.00" y="595.27" width="23.67" height="6.78" fill="#6664ff"/>
<rect x="407.67" y="595.27" width="23.67" height="6.78" fill="#f26066"/>
<rect x="431.33" y="595.27" width="23.67" height="6.78" fill="#fad4d6"/>
<rect x="384.00" y="602.05" width="23.67" height="6.78" fill="#6664ff"/>
<rect x="407.67" y="602.05" width="23.67" height="6.78" fill="#f63e42"/>
<rect x="431.33" y="602.05" width="23.67" height="6.78" fill="#faf6f8"/>
<rect x="384.00" y="608.83" width="23.67" height="6.78" fill="#6664ff"/>
<rect x="407.67" y="608.83" width="23.67" height="6.78" fill="#f29096"/>
<rect x="431.33" y="608.83" width="23.67" height="6.78" fill="#fad4d6"/>
<rect x="384.00" y="615.61" width="23.67" height="6.78" fill="#9e9eff"/>
<rect x="407.67" y="615.61" width="23.67" height="6.78" fill="#f29096"/>
<rect x="431.33" y="615.61" width="23.67" height="6.78" fill="#faf6f8"/>
<rect x="384.00" y="622.39" width="23.67" height="6.78" fill="#6664ff"/>
<rect x="407.67" y="622.39" width="23.67" height="6.78" fill="#f63e42"/>
<rect x="431.33" y="622.39" width="23.67" height="6.78" fill="#d2d4ff"/>
<rect x="384.00" y="629.17" width="23.67" height="6.78" fill="#6664ff"/>
<rect x="407.67" y="629.17" width="23.67" height="6.78" fill="#ff2014"/>
<rect x="431.33" y="629.17" width="23.67" height="6.78" fill="#9e9eff"/>
<rect x="384.00" y="635.95" width="23.67" height="6.78" fill="#9e9eff"/>
<rect x="407.67" y="635.95" width="23.67" height="6.78" fill="#9e9eff"/>
<rect x="431.33" y="635.95" width="23.67" height="6.78" fill="#f26066"/>
<rect x="384.00" y="642.73" width="23.67" height="6.78" fill="#6664ff"/>
<rect x="407.67" y="642.73" width="23.67" height="6.78" fill="#f26066"/>
<rect x="431.33" y="642.73" width="23.67" height="6.78" fill="#faf6f8"/>
<rect x="384.00" y="649.51" width="23.67" height="6.78" fill="#1408ff"/>
<rect x="407.67" y="649.51" width="23.67" height="6.78" fill="#d2d4ff"/>
<rect x="431.33" y="649.51" width="23.67" height="6.78" fill="#ff2014"/>
<rect x="384.00" y="656.29" width="23.67" height="6.78" fill="#9e9eff"/>
<rect x="407.67" y="656.29" width="23.67" height="6.78" fill="#f63e42"/>
<rect x="431.33" y="656.29" width="23.67" height="6.78" fill="#9e9eff"/>
<rect x="384.00" y="663.07" width="23.67" height="6.78" fill="#6664ff"/>
<rect x="407.67" y="663.07" width="23.67" height="6.78" fill="#f63e42"/>
<rect x="431.33" y="663.07" width="23.67" height="6.78" fill="#faf6f8"/>
<rect x="384.00" y="669.85" width="23.67" height="6.78" fill="#1408ff"/>
<rect x="407.67" y="669.85" width="23.67" height="6.78" fill="#f26066"/>
<rect x="431.33" y="669.85" width="23.67" height="6.78" fill="#fad4d6"/>
<rect x="384.00" y="676.62" width="23.67" height="6.78" fill="#6664ff"/>
<rect x="407.67" y="676.62" width="23.67" height="6.78" fill="#f63e42"/>
<rect x="431.33" y="676.62" width="23.67" height="6.78" fill="#d2d4ff"/>
<rect x="384.00" y="683.40" width="23.67" height="6.78" fill="#6664ff"/>
<rect x="407.67" y="683.40" width="23.67" height="6.78" fill="#f63e42"/>
<rect x="431.33" y="683.40" width="23.67" height="6.78" fill="#faf6f8"/>
<rect x="384.00" y="690.18" width="23.67" height="6.78" fill="#9e9eff"/>
<rect x="407.67" y="690.18" width="23.67" height="6.78" fill="#f63e42"/>
<rect x="431.33" y="690.18" width="23.67" height="6.78" fill="#9e9eff"/>
<rect x="384.00" y="696.96" width="23.67" height="6.78" fill="#1408ff"/>
<rect x="407.67" y="696.96" width="23.67" height="6.78" fill="#f29096"/>
<rect x="431.33" y="696.96" width="23.67" height="6.78" fill="#f29096"/>
<rect x="384.00" y="703.74" width="23.67" height="6.78" fill="#3a32ff"/>
<rect x="407.67" y="703.74" width="23.67" height="6.78" fill="#f26066"/>
<rect x="431.33" y="703.74" width="23.67" height="6.78" fill="#fad4d6"/>
<rect x="384.00" y="710.52" width="23.67" height="6.78" fill="#6664ff"/>
<rect x="407.67" y="710.52" width="23.67" height="6.78" fill="#f63e42"/>
<rect x="431.33" y="710.52" width="23.67" height="6.78" fill="#d2d4ff"/>
<line x1="384.00" y1="561.38" x2="455.00" y2="561.38" stroke="#000" stroke-opacity="0.6" stroke-width="0.85"/>
<line x1="384.00" y1="568.16" x2="455.00" y2="568.16" stroke="#000" stroke-opacity="0.6" stroke-width="0.85"/>
<line x1="384.00" y1="574.94" x2="455.00" y2="574.94" stroke="#000" stroke-opacity="0.6" stroke-width="0.85"/>
<line x1="384.00" y1="581.72" x2="455.00" y2="581.72" stroke="#000" stroke-opacity="0.6" stroke-width="0.85"/>
<line x1="384.00" y1="588.50" x2="455.00" y2="588.50" stroke="#000" stroke-opacity="0.6" stroke-width="0.85"/>
<line x1="384.00" y1="595.27" x2="455.00" y2="595.27" stroke="#000" stroke-opacity="0.6" stroke-width="0.85"/>
<line x1="384.00" y1="602.05" x2="455.00" y2="602.05" stroke="#000" stroke-opacity="0.6" stroke-width="0.85"/>
<line x1="384.00" y1="608.83" x2="455.00" y2="608.83" stroke="#000" stroke-opacity="0.6" stroke-width="0.85"/>
<line x1="384.00" y1="615.61" x2="455.00" y2="615.61" stroke="#000" stroke-opacity="0.6" stroke-width="0.85"/>
<line x1="384.00" y1="622.39" x2="455.00" y2="622.39" stroke="#000" stroke-opacity="0.6" stroke-width="0.85"/>
<line x1="384.00" y1="629.17" x2="455.00" y2="629.17" stroke="#000" stroke-opacity="0.6" stroke-width="0.85"/>
<line x1="384.00" y1="635.95" x2="455.00" y2="635.95" stroke="#000" stroke-opacity="0.6" stroke-width="0.85"/>
<line x1="384.00" y1="642.73" x2="455.00" y2="642.73" stroke="#000" stroke-opacity="0.6" stroke-width="0.85"/>
<line x1="384.00" y1="649.51" x2="455.00" y2="649.51" stroke="#000" stroke-opacity="0.6" stroke-width="0.85"/>
<line x1="384.00" y1="656.29" x2="455.00" y2="656.29" stroke="#000" stroke-opacity="0.6" stroke-width="0.85"/>
<line x1="384.00" y1="663.07" x2="455.00" y2="663.07" stroke="#000" stroke-opacity="0.6" stroke-width="0.85"/>
<line x1="384.00" y1="669.85" x2="455.00" y2="669.85" stroke="#000" stroke-opacity="0.6" stroke-width="0.85"/>
<line x1="384.00" y1="676.62" x2="455.00" y2="676.62" stroke="#000" stroke-opacity="0.6" stroke-width="0.85"/>
<line x1="384.00" y1="683.40" x2="455.00" y2="683.40" stroke="#000" stroke-opacity="0.6" stroke-width="0.85"/>
<line x1="384.00" y1="690.18" x2="455.00" y2="690.18" stroke="#000" stroke-opacity="0.6" stroke-width="0.85"/>
<line x1="384.00" y1="696.96" x2="455.00" y2="696.96" stroke="#000" stroke-opacity="0.6" stroke-width="0.85"/>
<line x1="384.00" y1="703.74" x2="455.00" y2="703.74" stroke="#000" stroke-opacity="0.6" stroke-width="0.85"/>
<line x1="384.00" y1="710.52" x2="455.00" y2="710.52" stroke="#000" stroke-opacity="0.6" stroke-width="0.85"/>
<line x1="407.67" y1="554.60" x2="407.67" y2="717.30" stroke="#000" stroke-opacity="0.75" stroke-width="0.9"/>
<line x1="431.33" y1="554.60" x2="431.33" y2="717.30" stroke="#000" stroke-opacity="0.75" stroke-width="0.9"/>
<rect x="384.00" y="554.60" width="71.00" height="162.70" fill="none" stroke="#000" stroke-width="1.2"/>
<text transform="translate(382.70,560.31) scale(0.87,1)" font-size="7.47" text-anchor="end" fill="#000" stroke="#000" stroke-width="0.1">'Abcb9'</text>
<text transform="translate(382.70,567.09) scale(0.87,1)" font-size="7.47" text-anchor="end" fill="#000" stroke="#000" stroke-width="0.1">'Fbxl16'</text>
<text transform="translate(382.70,573.87) scale(0.87,1)" font-size="7.47" text-anchor="end" fill="#000" stroke="#000" stroke-width="0.1">'Fbxl21'</text>
<text transform="translate(382.70,580.64) scale(0.87,1)" font-size="7.47" text-anchor="end" fill="#000" stroke="#000" stroke-width="0.1">'Fbxl22'</text>
<text transform="translate(382.70,587.42) scale(0.87,1)" font-size="7.47" text-anchor="end" fill="#000" stroke="#000" stroke-width="0.1">'Fbxo17'</text>
<text transform="translate(382.70,594.20) scale(0.87,1)" font-size="7.47" text-anchor="end" fill="#000" stroke="#000" stroke-width="0.1">'H2-Ob'</text>
<text transform="translate(382.70,600.98) scale(0.87,1)" font-size="7.47" text-anchor="end" fill="#000" stroke="#000" stroke-width="0.1">'Hspa1b'</text>
<text transform="translate(382.70,607.76) scale(0.87,1)" font-size="7.47" text-anchor="end" fill="#000" stroke="#000" stroke-width="0.1">'Kif11'</text>
<text transform="translate(382.70,614.54) scale(0.87,1)" font-size="7.47" text-anchor="end" fill="#000" stroke="#000" stroke-width="0.1">'Kif15'</text>
<text transform="translate(382.70,621.32) scale(0.87,1)" font-size="7.47" text-anchor="end" fill="#000" stroke="#000" stroke-width="0.1">'Kif2c'</text>
<text transform="translate(382.70,628.10) scale(0.87,1)" font-size="7.47" text-anchor="end" fill="#000" stroke="#000" stroke-width="0.1">'Kif4'</text>
<text transform="translate(382.70,634.88) scale(0.87,1)" font-size="7.47" text-anchor="end" fill="#000" stroke="#000" stroke-width="0.1">'Klc3'</text>
<text transform="translate(382.70,641.66) scale(0.87,1)" font-size="7.47" text-anchor="end" fill="#000" stroke="#000" stroke-width="0.1">'Klhl13'</text>
<text transform="translate(382.70,648.44) scale(0.87,1)" font-size="7.47" text-anchor="end" fill="#000" stroke="#000" stroke-width="0.1">'Klhl41'</text>
<text transform="translate(382.70,655.22) scale(0.87,1)" font-size="7.47" text-anchor="end" fill="#000" stroke="#000" stroke-width="0.1">'Lmo7'</text>
<text transform="translate(382.70,661.99) scale(0.87,1)" font-size="7.47" text-anchor="end" fill="#000" stroke="#000" stroke-width="0.1">'Lnx1'</text>
<text transform="translate(382.70,668.77) scale(0.87,1)" font-size="7.47" text-anchor="end" fill="#000" stroke="#000" stroke-width="0.1">'Mrc2'</text>
<text transform="translate(382.70,675.55) scale(0.87,1)" font-size="7.47" text-anchor="end" fill="#000" stroke="#000" stroke-width="0.1">'Nedd4'</text>
<text transform="translate(382.70,682.33) scale(0.87,1)" font-size="7.47" text-anchor="end" fill="#000" stroke="#000" stroke-width="0.1">'Rab4a'</text>
<text transform="translate(382.70,689.11) scale(0.87,1)" font-size="7.47" text-anchor="end" fill="#000" stroke="#000" stroke-width="0.1">'Spsb1'</text>
<text transform="translate(382.70,695.89) scale(0.87,1)" font-size="7.47" text-anchor="end" fill="#000" stroke="#000" stroke-width="0.1">'Treml4'</text>
<text transform="translate(382.70,702.67) scale(0.87,1)" font-size="7.47" text-anchor="end" fill="#000" stroke="#000" stroke-width="0.1">'Trim9'</text>
<text transform="translate(382.70,709.45) scale(0.87,1)" font-size="7.47" text-anchor="end" fill="#000" stroke="#000" stroke-width="0.1">'Tubb3'</text>
<text transform="translate(382.70,716.23) scale(0.87,1)" font-size="7.47" text-anchor="end" fill="#000" stroke="#000" stroke-width="0.1">'Tubb4a'</text>
<text transform="translate(398.20,549.30) rotate(-90)" font-size="11.7" fill="#000">WT</text>
<text transform="translate(421.80,549.30) rotate(-90)" font-size="11.7" fill="#000">A10-PPARα</text>
<text transform="translate(445.20,549.30) rotate(-90)" font-size="11.7" fill="#000">A10-PPARα-Cre</text>
<text transform="translate(458.60,537.60)" font-size="9.9" fill="#000">z-score</text>
<text transform="translate(458.60,548.40)" font-size="9.9" fill="#000">(mean)</text>
<rect x="459.00" y="554.20" width="7.90" height="69.60" fill="url(#cb50)" stroke="#000" stroke-width="1.2"/>
<line x1="459.50" y1="556.50" x2="461.80" y2="556.50" stroke="#000" stroke-width="1.2"/>
<line x1="464.10" y1="556.50" x2="466.40" y2="556.50" stroke="#000" stroke-width="1.2"/>
<text transform="translate(469.70,558.77)" font-size="6.3" fill="#111" stroke="#111" stroke-width="0.1">1.0</text>
<line x1="459.50" y1="573.00" x2="461.80" y2="573.00" stroke="#000" stroke-width="1.2"/>
<line x1="464.10" y1="573.00" x2="466.40" y2="573.00" stroke="#000" stroke-width="1.2"/>
<text transform="translate(469.70,575.27)" font-size="6.3" fill="#111" stroke="#111" stroke-width="0.1">0.5</text>
<line x1="459.50" y1="589.20" x2="461.80" y2="589.20" stroke="#000" stroke-width="1.2"/>
<line x1="464.10" y1="589.20" x2="466.40" y2="589.20" stroke="#000" stroke-width="1.2"/>
<text transform="translate(469.70,591.47)" font-size="6.3" fill="#111" stroke="#111" stroke-width="0.1">0</text>
<line x1="459.50" y1="605.20" x2="461.80" y2="605.20" stroke="#000" stroke-width="1.2"/>
<line x1="464.10" y1="605.20" x2="466.40" y2="605.20" stroke="#000" stroke-width="1.2"/>
<text transform="translate(469.70,607.47)" font-size="6.3" fill="#111" stroke="#111" stroke-width="0.1">-0.5</text>
<line x1="459.50" y1="621.10" x2="461.80" y2="621.10" stroke="#000" stroke-width="1.2"/>
<line x1="464.10" y1="621.10" x2="466.40" y2="621.10" stroke="#000" stroke-width="1.2"/>
<text transform="translate(469.70,623.37)" font-size="6.3" fill="#111" stroke="#111" stroke-width="0.1">-1.0</text>
<line x1="342.50" y1="555.00" x2="342.50" y2="717.10" stroke="#000" stroke-width="1.1"/>
<text transform="translate(322.30,637.50) rotate(-90)" font-size="12" text-anchor="middle" fill="#000">Antigen processing</text>
<text transform="translate(336.00,637.50) rotate(-90)" font-size="12" text-anchor="middle" fill="#000">and presentation</text>
<text transform="translate(507.50,480.70)" font-size="20" font-weight="bold" fill="#000">D</text>
<rect x="576.20" y="554.70" width="23.47" height="5.80" fill="#6664ff"/>
<rect x="599.67" y="554.70" width="23.47" height="5.80" fill="#f29096"/>
<rect x="623.13" y="554.70" width="23.47" height="5.80" fill="#fad4d6"/>
<rect x="576.20" y="560.50" width="23.47" height="5.80" fill="#6664ff"/>
<rect x="599.67" y="560.50" width="23.47" height="5.80" fill="#ff2014"/>
<rect x="623.13" y="560.50" width="23.47" height="5.80" fill="#d2d4ff"/>
<rect x="576.20" y="566.31" width="23.47" height="5.80" fill="#3a32ff"/>
<rect x="599.67" y="566.31" width="23.47" height="5.80" fill="#f63e42"/>
<rect x="623.13" y="566.31" width="23.47" height="5.80" fill="#fad4d6"/>
<rect x="576.20" y="572.11" width="23.47" height="5.80" fill="#6664ff"/>
<rect x="599.67" y="572.11" width="23.47" height="5.80" fill="#f63e42"/>
<rect x="623.13" y="572.11" width="23.47" height="5.80" fill="#faf6f8"/>
<rect x="576.20" y="577.91" width="23.47" height="5.80" fill="#6664ff"/>
<rect x="599.67" y="577.91" width="23.47" height="5.80" fill="#f63e42"/>
<rect x="623.13" y="577.91" width="23.47" height="5.80" fill="#d2d4ff"/>
<rect x="576.20" y="583.72" width="23.47" height="5.80" fill="#d2d4ff"/>
<rect x="599.67" y="583.72" width="23.47" height="5.80" fill="#d2d4ff"/>
<rect x="623.13" y="583.72" width="23.47" height="5.80" fill="#f29096"/>
<rect x="576.20" y="589.52" width="23.47" height="5.80" fill="#3a32ff"/>
<rect x="599.67" y="589.52" width="23.47" height="5.80" fill="#f63e42"/>
<rect x="623.13" y="589.52" width="23.47" height="5.80" fill="#fad4d6"/>
<rect x="576.20" y="595.33" width="23.47" height="5.80" fill="#6664ff"/>
<rect x="599.67" y="595.33" width="23.47" height="5.80" fill="#d2d4ff"/>
<rect x="623.13" y="595.33" width="23.47" height="5.80" fill="#ff2014"/>
<rect x="576.20" y="601.13" width="23.47" height="5.80" fill="#d2d4ff"/>
<rect x="599.67" y="601.13" width="23.47" height="5.80" fill="#ff2014"/>
<rect x="623.13" y="601.13" width="23.47" height="5.80" fill="#6664ff"/>
<rect x="576.20" y="606.93" width="23.47" height="5.80" fill="#6664ff"/>
<rect x="599.67" y="606.93" width="23.47" height="5.80" fill="#f29096"/>
<rect x="623.13" y="606.93" width="23.47" height="5.80" fill="#fad4d6"/>
<rect x="576.20" y="612.74" width="23.47" height="5.80" fill="#6664ff"/>
<rect x="599.67" y="612.74" width="23.47" height="5.80" fill="#f29096"/>
<rect x="623.13" y="612.74" width="23.47" height="5.80" fill="#faf6f8"/>
<rect x="576.20" y="618.54" width="23.47" height="5.80" fill="#3a32ff"/>
<rect x="599.67" y="618.54" width="23.47" height="5.80" fill="#fad4d6"/>
<rect x="623.13" y="618.54" width="23.47" height="5.80" fill="#f63e42"/>
<rect x="576.20" y="624.34" width="23.47" height="5.80" fill="#6664ff"/>
<rect x="599.67" y="624.34" width="23.47" height="5.80" fill="#ff2014"/>
<rect x="623.13" y="624.34" width="23.47" height="5.80" fill="#d2d4ff"/>
<rect x="576.20" y="630.15" width="23.47" height="5.80" fill="#9e9eff"/>
<rect x="599.67" y="630.15" width="23.47" height="5.80" fill="#fad4d6"/>
<rect x="623.13" y="630.15" width="23.47" height="5.80" fill="#f29096"/>
<rect x="576.20" y="635.95" width="23.47" height="5.80" fill="#9e9eff"/>
<rect x="599.67" y="635.95" width="23.47" height="5.80" fill="#ff2014"/>
<rect x="623.13" y="635.95" width="23.47" height="5.80" fill="#6664ff"/>
<rect x="576.20" y="641.75" width="23.47" height="5.80" fill="#fad4d6"/>
<rect x="599.67" y="641.75" width="23.47" height="5.80" fill="#6664ff"/>
<rect x="623.13" y="641.75" width="23.47" height="5.80" fill="#f63e42"/>
<rect x="576.20" y="647.56" width="23.47" height="5.80" fill="#1408ff"/>
<rect x="599.67" y="647.56" width="23.47" height="5.80" fill="#f29096"/>
<rect x="623.13" y="647.56" width="23.47" height="5.80" fill="#f63e42"/>
<rect x="576.20" y="653.36" width="23.47" height="5.80" fill="#6664ff"/>
<rect x="599.67" y="653.36" width="23.47" height="5.80" fill="#f63e42"/>
<rect x="623.13" y="653.36" width="23.47" height="5.80" fill="#faf6f8"/>
<rect x="576.20" y="659.16" width="23.47" height="5.80" fill="#6664ff"/>
<rect x="599.67" y="659.16" width="23.47" height="5.80" fill="#ff2014"/>
<rect x="623.13" y="659.16" width="23.47" height="5.80" fill="#d2d4ff"/>
<rect x="576.20" y="664.97" width="23.47" height="5.80" fill="#d2d4ff"/>
<rect x="599.67" y="664.97" width="23.47" height="5.80" fill="#f26066"/>
<rect x="623.13" y="664.97" width="23.47" height="5.80" fill="#9e9eff"/>
<rect x="576.20" y="670.77" width="23.47" height="5.80" fill="#d2d4ff"/>
<rect x="599.67" y="670.77" width="23.47" height="5.80" fill="#f26066"/>
<rect x="623.13" y="670.77" width="23.47" height="5.80" fill="#9e9eff"/>
<rect x="576.20" y="676.58" width="23.47" height="5.80" fill="#1408ff"/>
<rect x="599.67" y="676.58" width="23.47" height="5.80" fill="#f26066"/>
<rect x="623.13" y="676.58" width="23.47" height="5.80" fill="#f29096"/>
<rect x="576.20" y="682.38" width="23.47" height="5.80" fill="#3a32ff"/>
<rect x="599.67" y="682.38" width="23.47" height="5.80" fill="#f29096"/>
<rect x="623.13" y="682.38" width="23.47" height="5.80" fill="#f26066"/>
<rect x="576.20" y="688.18" width="23.47" height="5.80" fill="#9e9eff"/>
<rect x="599.67" y="688.18" width="23.47" height="5.80" fill="#f63e42"/>
<rect x="623.13" y="688.18" width="23.47" height="5.80" fill="#9e9eff"/>
<rect x="576.20" y="693.99" width="23.47" height="5.80" fill="#9e9eff"/>
<rect x="599.67" y="693.99" width="23.47" height="5.80" fill="#ff2014"/>
<rect x="623.13" y="693.99" width="23.47" height="5.80" fill="#9e9eff"/>
<rect x="576.20" y="699.79" width="23.47" height="5.80" fill="#6664ff"/>
<rect x="599.67" y="699.79" width="23.47" height="5.80" fill="#ff2014"/>
<rect x="623.13" y="699.79" width="23.47" height="5.80" fill="#d2d4ff"/>
<rect x="576.20" y="705.59" width="23.47" height="5.80" fill="#6664ff"/>
<rect x="599.67" y="705.59" width="23.47" height="5.80" fill="#f63e42"/>
<rect x="623.13" y="705.59" width="23.47" height="5.80" fill="#d2d4ff"/>
<rect x="576.20" y="711.40" width="23.47" height="5.80" fill="#6664ff"/>
<rect x="599.67" y="711.40" width="23.47" height="5.80" fill="#f63e42"/>
<rect x="623.13" y="711.40" width="23.47" height="5.80" fill="#fad4d6"/>
<line x1="576.20" y1="560.50" x2="646.60" y2="560.50" stroke="#000" stroke-opacity="0.6" stroke-width="0.85"/>
<line x1="576.20" y1="566.31" x2="646.60" y2="566.31" stroke="#000" stroke-opacity="0.6" stroke-width="0.85"/>
<line x1="576.20" y1="572.11" x2="646.60" y2="572.11" stroke="#000" stroke-opacity="0.6" stroke-width="0.85"/>
<line x1="576.20" y1="577.91" x2="646.60" y2="577.91" stroke="#000" stroke-opacity="0.6" stroke-width="0.85"/>
<line x1="576.20" y1="583.72" x2="646.60" y2="583.72" stroke="#000" stroke-opacity="0.6" stroke-width="0.85"/>
<line x1="576.20" y1="589.52" x2="646.60" y2="589.52" stroke="#000" stroke-opacity="0.6" stroke-width="0.85"/>
<line x1="576.20" y1="595.33" x2="646.60" y2="595.33" stroke="#000" stroke-opacity="0.6" stroke-width="0.85"/>
<line x1="576.20" y1="601.13" x2="646.60" y2="601.13" stroke="#000" stroke-opacity="0.6" stroke-width="0.85"/>
<line x1="576.20" y1="606.93" x2="646.60" y2="606.93" stroke="#000" stroke-opacity="0.6" stroke-width="0.85"/>
<line x1="576.20" y1="612.74" x2="646.60" y2="612.74" stroke="#000" stroke-opacity="0.6" stroke-width="0.85"/>
<line x1="576.20" y1="618.54" x2="646.60" y2="618.54" stroke="#000" stroke-opacity="0.6" stroke-width="0.85"/>
<line x1="576.20" y1="624.34" x2="646.60" y2="624.34" stroke="#000" stroke-opacity="0.6" stroke-width="0.85"/>
<line x1="576.20" y1="630.15" x2="646.60" y2="630.15" stroke="#000" stroke-opacity="0.6" stroke-width="0.85"/>
<line x1="576.20" y1="635.95" x2="646.60" y2="635.95" stroke="#000" stroke-opacity="0.6" stroke-width="0.85"/>
<line x1="576.20" y1="641.75" x2="646.60" y2="641.75" stroke="#000" stroke-opacity="0.6" stroke-width="0.85"/>
<line x1="576.20" y1="647.56" x2="646.60" y2="647.56" stroke="#000" stroke-opacity="0.6" stroke-width="0.85"/>
<line x1="576.20" y1="653.36" x2="646.60" y2="653.36" stroke="#000" stroke-opacity="0.6" stroke-width="0.85"/>
<line x1="576.20" y1="659.16" x2="646.60" y2="659.16" stroke="#000" stroke-opacity="0.6" stroke-width="0.85"/>
<line x1="576.20" y1="664.97" x2="646.60" y2="664.97" stroke="#000" stroke-opacity="0.6" stroke-width="0.85"/>
<line x1="576.20" y1="670.77" x2="646.60" y2="670.77" stroke="#000" stroke-opacity="0.6" stroke-width="0.85"/>
<line x1="576.20" y1="676.58" x2="646.60" y2="676.58" stroke="#000" stroke-opacity="0.6" stroke-width="0.85"/>
<line x1="576.20" y1="682.38" x2="646.60" y2="682.38" stroke="#000" stroke-opacity="0.6" stroke-width="0.85"/>
<line x1="576.20" y1="688.18" x2="646.60" y2="688.18" stroke="#000" stroke-opacity="0.6" stroke-width="0.85"/>
<line x1="576.20" y1="693.99" x2="646.60" y2="693.99" stroke="#000" stroke-opacity="0.6" stroke-width="0.85"/>
<line x1="576.20" y1="699.79" x2="646.60" y2="699.79" stroke="#000" stroke-opacity="0.6" stroke-width="0.85"/>
<line x1="576.20" y1="705.59" x2="646.60" y2="705.59" stroke="#000" stroke-opacity="0.6" stroke-width="0.85"/>
<line x1="576.20" y1="711.40" x2="646.60" y2="711.40" stroke="#000" stroke-opacity="0.6" stroke-width="0.85"/>
<line x1="599.67" y1="554.70" x2="599.67" y2="717.20" stroke="#000" stroke-opacity="0.75" stroke-width="0.9"/>
<line x1="623.13" y1="554.70" x2="623.13" y2="717.20" stroke="#000" stroke-opacity="0.75" stroke-width="0.9"/>
<rect x="576.20" y="554.70" width="70.40" height="162.50" fill="none" stroke="#000" stroke-width="1.2"/>
<text transform="translate(574.50,559.88) scale(0.87,1)" font-size="7.36" text-anchor="end" fill="#000" stroke="#000" stroke-width="0.1">'Ager'</text>
<text transform="translate(574.50,565.69) scale(0.87,1)" font-size="7.36" text-anchor="end" fill="#000" stroke="#000" stroke-width="0.1">'Asap3'</text>
<text transform="translate(574.50,571.49) scale(0.87,1)" font-size="7.36" text-anchor="end" fill="#000" stroke="#000" stroke-width="0.1">'C1s1'</text>
<text transform="translate(574.50,577.29) scale(0.87,1)" font-size="7.36" text-anchor="end" fill="#000" stroke="#000" stroke-width="0.1">'Casp12'</text>
<text transform="translate(574.50,583.10) scale(0.87,1)" font-size="7.36" text-anchor="end" fill="#000" stroke="#000" stroke-width="0.1">'Cd22'</text>
<text transform="translate(574.50,588.90) scale(0.87,1)" font-size="7.36" text-anchor="end" fill="#000" stroke="#000" stroke-width="0.1">'Ccr7'</text>
<text transform="translate(574.50,594.70) scale(0.87,1)" font-size="7.36" text-anchor="end" fill="#000" stroke="#000" stroke-width="0.1">'Egfr'</text>
<text transform="translate(574.50,600.51) scale(0.87,1)" font-size="7.36" text-anchor="end" fill="#000" stroke="#000" stroke-width="0.1">'Elmo3'</text>
<text transform="translate(574.50,606.31) scale(0.87,1)" font-size="7.36" text-anchor="end" fill="#000" stroke="#000" stroke-width="0.1">'Fpr1'</text>
<text transform="translate(574.50,612.12) scale(0.87,1)" font-size="7.36" text-anchor="end" fill="#000" stroke="#000" stroke-width="0.1">'Gata2'</text>
<text transform="translate(574.50,617.92) scale(0.87,1)" font-size="7.36" text-anchor="end" fill="#000" stroke="#000" stroke-width="0.1">'H2-Eb2'</text>
<text transform="translate(574.50,623.72) scale(0.87,1)" font-size="7.36" text-anchor="end" fill="#000" stroke="#000" stroke-width="0.1">'H2-Ob'</text>
<text transform="translate(574.50,629.53) scale(0.87,1)" font-size="7.36" text-anchor="end" fill="#000" stroke="#000" stroke-width="0.1">'Il1b'</text>
<text transform="translate(574.50,635.33) scale(0.87,1)" font-size="7.36" text-anchor="end" fill="#000" stroke="#000" stroke-width="0.1">'Kif14'</text>
<text transform="translate(574.50,641.13) scale(0.87,1)" font-size="7.36" text-anchor="end" fill="#000" stroke="#000" stroke-width="0.1">'Mapk12'</text>
<text transform="translate(574.50,646.94) scale(0.87,1)" font-size="7.36" text-anchor="end" fill="#000" stroke="#000" stroke-width="0.1">'Masp1'</text>
<text transform="translate(574.50,652.74) scale(0.87,1)" font-size="7.36" text-anchor="end" fill="#000" stroke="#000" stroke-width="0.1">'Mst1r'</text>
<text transform="translate(574.50,658.54) scale(0.87,1)" font-size="7.36" text-anchor="end" fill="#000" stroke="#000" stroke-width="0.1">'Nckap1'</text>
<text transform="translate(574.50,664.35) scale(0.87,1)" font-size="7.36" text-anchor="end" fill="#000" stroke="#000" stroke-width="0.1">'Nfatc4'</text>
<text transform="translate(574.50,670.15) scale(0.87,1)" font-size="7.36" text-anchor="end" fill="#000" stroke="#000" stroke-width="0.1">'Pecam1'</text>
<text transform="translate(574.50,675.95) scale(0.87,1)" font-size="7.36" text-anchor="end" fill="#000" stroke="#000" stroke-width="0.1">'Pla2g4b'</text>
<text transform="translate(574.50,681.76) scale(0.87,1)" font-size="7.36" text-anchor="end" fill="#000" stroke="#000" stroke-width="0.1">'Plscr2'</text>
<text transform="translate(574.50,687.56) scale(0.87,1)" font-size="7.36" text-anchor="end" fill="#000" stroke="#000" stroke-width="0.1">'Rap1gap'</text>
<text transform="translate(574.50,693.37) scale(0.87,1)" font-size="7.36" text-anchor="end" fill="#000" stroke="#000" stroke-width="0.1">'Selp'</text>
<text transform="translate(574.50,699.17) scale(0.87,1)" font-size="7.36" text-anchor="end" fill="#000" stroke="#000" stroke-width="0.1">'Treml4'</text>
<text transform="translate(574.50,704.97) scale(0.87,1)" font-size="7.36" text-anchor="end" fill="#000" stroke="#000" stroke-width="0.1">'Tyro3'</text>
<text transform="translate(574.50,710.78) scale(0.87,1)" font-size="7.36" text-anchor="end" fill="#000" stroke="#000" stroke-width="0.1">'Wasf1'</text>
<text transform="translate(574.50,716.58) scale(0.87,1)" font-size="7.36" text-anchor="end" fill="#000" stroke="#000" stroke-width="0.1">'Yes1'</text>
<text transform="translate(590.30,550.00) rotate(-90)" font-size="11.7" fill="#000">WT</text>
<text transform="translate(613.90,550.00) rotate(-90)" font-size="11.7" fill="#000">A10-PPARα</text>
<text transform="translate(637.30,550.00) rotate(-90)" font-size="11.7" fill="#000">A10-PPARα-Cre</text>
<text transform="translate(651.20,537.60)" font-size="9.9" fill="#000">z-score</text>
<text transform="translate(651.20,548.40)" font-size="9.9" fill="#000">(mean)</text>
<rect x="651.00" y="554.60" width="7.60" height="68.90" fill="url(#cb45)" stroke="#000" stroke-width="1.2"/>
<line x1="651.50" y1="568.40" x2="653.80" y2="568.40" stroke="#000" stroke-width="1.2"/>
<line x1="655.80" y1="568.40" x2="658.10" y2="568.40" stroke="#000" stroke-width="1.2"/>
<text transform="translate(661.40,570.67)" font-size="6.3" fill="#111" stroke="#111" stroke-width="0.1">0.5</text>
<line x1="651.50" y1="585.60" x2="653.80" y2="585.60" stroke="#000" stroke-width="1.2"/>
<line x1="655.80" y1="585.60" x2="658.10" y2="585.60" stroke="#000" stroke-width="1.2"/>
<text transform="translate(661.40,587.87)" font-size="6.3" fill="#111" stroke="#111" stroke-width="0.1">0</text>
<line x1="651.50" y1="602.40" x2="653.80" y2="602.40" stroke="#000" stroke-width="1.2"/>
<line x1="655.80" y1="602.40" x2="658.10" y2="602.40" stroke="#000" stroke-width="1.2"/>
<text transform="translate(661.40,604.67)" font-size="6.3" fill="#111" stroke="#111" stroke-width="0.1">-0.5</text>
<line x1="651.50" y1="619.50" x2="653.80" y2="619.50" stroke="#000" stroke-width="1.2"/>
<line x1="655.80" y1="619.50" x2="658.10" y2="619.50" stroke="#000" stroke-width="1.2"/>
<text transform="translate(661.40,621.77)" font-size="6.3" fill="#111" stroke="#111" stroke-width="0.1">-1.0</text>
<line x1="534.60" y1="553.60" x2="534.60" y2="715.60" stroke="#000" stroke-width="1.1"/>
<text transform="translate(514.00,637.50) rotate(-90)" font-size="12" text-anchor="middle" fill="#000">Cytokine and</text>
<text transform="translate(527.70,637.50) rotate(-90)" font-size="12" text-anchor="middle" fill="#000">chemokine production</text>
<text transform="translate(323.80,756.90)" font-size="20" font-weight="bold" fill="#000">E</text>
<rect x="383.00" y="833.00" width="23.73" height="5.43" fill="#6664ff"/>
<rect x="406.73" y="833.00" width="23.73" height="5.43" fill="#faf6f8"/>
<rect x="430.47" y="833.00" width="23.73" height="5.43" fill="#f29096"/>
<rect x="383.00" y="838.43" width="23.73" height="5.43" fill="#6664ff"/>
<rect x="406.73" y="838.43" width="23.73" height="5.43" fill="#f26066"/>
<rect x="430.47" y="838.43" width="23.73" height="5.43" fill="#d2d4ff"/>
<rect x="383.00" y="843.87" width="23.73" height="5.43" fill="#3a32ff"/>
<rect x="406.73" y="843.87" width="23.73" height="5.43" fill="#fad4d6"/>
<rect x="430.47" y="843.87" width="23.73" height="5.43" fill="#f26066"/>
<rect x="383.00" y="849.30" width="23.73" height="5.43" fill="#1408ff"/>
<rect x="406.73" y="849.30" width="23.73" height="5.43" fill="#f26066"/>
<rect x="430.47" y="849.30" width="23.73" height="5.43" fill="#f29096"/>
<rect x="383.00" y="854.73" width="23.73" height="5.43" fill="#6664ff"/>
<rect x="406.73" y="854.73" width="23.73" height="5.43" fill="#d2d4ff"/>
<rect x="430.47" y="854.73" width="23.73" height="5.43" fill="#ff2014"/>
<rect x="383.00" y="860.17" width="23.73" height="5.43" fill="#6664ff"/>
<rect x="406.73" y="860.17" width="23.73" height="5.43" fill="#f26066"/>
<rect x="430.47" y="860.17" width="23.73" height="5.43" fill="#faf6f8"/>
<rect x="383.00" y="865.60" width="23.73" height="5.43" fill="#6664ff"/>
<rect x="406.73" y="865.60" width="23.73" height="5.43" fill="#f26066"/>
<rect x="430.47" y="865.60" width="23.73" height="5.43" fill="#faf6f8"/>
<rect x="383.00" y="871.03" width="23.73" height="5.43" fill="#6664ff"/>
<rect x="406.73" y="871.03" width="23.73" height="5.43" fill="#f26066"/>
<rect x="430.47" y="871.03" width="23.73" height="5.43" fill="#faf6f8"/>
<rect x="383.00" y="876.47" width="23.73" height="5.43" fill="#9e9eff"/>
<rect x="406.73" y="876.47" width="23.73" height="5.43" fill="#f29096"/>
<rect x="430.47" y="876.47" width="23.73" height="5.43" fill="#d2d4ff"/>
<rect x="383.00" y="881.90" width="23.73" height="5.43" fill="#9e9eff"/>
<rect x="406.73" y="881.90" width="23.73" height="5.43" fill="#f63e42"/>
<rect x="430.47" y="881.90" width="23.73" height="5.43" fill="#9e9eff"/>
<rect x="383.00" y="887.33" width="23.73" height="5.43" fill="#6664ff"/>
<rect x="406.73" y="887.33" width="23.73" height="5.43" fill="#f29096"/>
<rect x="430.47" y="887.33" width="23.73" height="5.43" fill="#faf6f8"/>
<rect x="383.00" y="892.77" width="23.73" height="5.43" fill="#6664ff"/>
<rect x="406.73" y="892.77" width="23.73" height="5.43" fill="#f29096"/>
<rect x="430.47" y="892.77" width="23.73" height="5.43" fill="#fad4d6"/>
<rect x="383.00" y="898.20" width="23.73" height="5.43" fill="#3a32ff"/>
<rect x="406.73" y="898.20" width="23.73" height="5.43" fill="#faf6f8"/>
<rect x="430.47" y="898.20" width="23.73" height="5.43" fill="#f26066"/>
<rect x="383.00" y="903.63" width="23.73" height="5.43" fill="#1408ff"/>
<rect x="406.73" y="903.63" width="23.73" height="5.43" fill="#f29096"/>
<rect x="430.47" y="903.63" width="23.73" height="5.43" fill="#f29096"/>
<rect x="383.00" y="909.07" width="23.73" height="5.43" fill="#3a32ff"/>
<rect x="406.73" y="909.07" width="23.73" height="5.43" fill="#d2d4ff"/>
<rect x="430.47" y="909.07" width="23.73" height="5.43" fill="#ff2014"/>
<rect x="383.00" y="914.50" width="23.73" height="5.43" fill="#3a32ff"/>
<rect x="406.73" y="914.50" width="23.73" height="5.43" fill="#ff2014"/>
<rect x="430.47" y="914.50" width="23.73" height="5.43" fill="#d2d4ff"/>
<rect x="383.00" y="919.93" width="23.73" height="5.43" fill="#6664ff"/>
<rect x="406.73" y="919.93" width="23.73" height="5.43" fill="#f63e42"/>
<rect x="430.47" y="919.93" width="23.73" height="5.43" fill="#d2d4ff"/>
<rect x="383.00" y="925.37" width="23.73" height="5.43" fill="#6664ff"/>
<rect x="406.73" y="925.37" width="23.73" height="5.43" fill="#f63e42"/>
<rect x="430.47" y="925.37" width="23.73" height="5.43" fill="#d2d4ff"/>
<rect x="383.00" y="930.80" width="23.73" height="5.43" fill="#6664ff"/>
<rect x="406.73" y="930.80" width="23.73" height="5.43" fill="#f63e42"/>
<rect x="430.47" y="930.80" width="23.73" height="5.43" fill="#d2d4ff"/>
<rect x="383.00" y="936.23" width="23.73" height="5.43" fill="#3a32ff"/>
<rect x="406.73" y="936.23" width="23.73" height="5.43" fill="#fad4d6"/>
<rect x="430.47" y="936.23" width="23.73" height="5.43" fill="#f26066"/>
<rect x="383.00" y="941.67" width="23.73" height="5.43" fill="#3a32ff"/>
<rect x="406.73" y="941.67" width="23.73" height="5.43" fill="#f63e42"/>
<rect x="430.47" y="941.67" width="23.73" height="5.43" fill="#faf6f8"/>
<rect x="383.00" y="947.10" width="23.73" height="5.43" fill="#9e9eff"/>
<rect x="406.73" y="947.10" width="23.73" height="5.43" fill="#f26066"/>
<rect x="430.47" y="947.10" width="23.73" height="5.43" fill="#9e9eff"/>
<rect x="383.00" y="952.53" width="23.73" height="5.43" fill="#3a32ff"/>
<rect x="406.73" y="952.53" width="23.73" height="5.43" fill="#f26066"/>
<rect x="430.47" y="952.53" width="23.73" height="5.43" fill="#fad4d6"/>
<rect x="383.00" y="957.97" width="23.73" height="5.43" fill="#6664ff"/>
<rect x="406.73" y="957.97" width="23.73" height="5.43" fill="#f26066"/>
<rect x="430.47" y="957.97" width="23.73" height="5.43" fill="#fad4d6"/>
<rect x="383.00" y="963.40" width="23.73" height="5.43" fill="#6664ff"/>
<rect x="406.73" y="963.40" width="23.73" height="5.43" fill="#f26066"/>
<rect x="430.47" y="963.40" width="23.73" height="5.43" fill="#faf6f8"/>
<rect x="383.00" y="968.83" width="23.73" height="5.43" fill="#3a32ff"/>
<rect x="406.73" y="968.83" width="23.73" height="5.43" fill="#f26066"/>
<rect x="430.47" y="968.83" width="23.73" height="5.43" fill="#fad4d6"/>
<rect x="383.00" y="974.27" width="23.73" height="5.43" fill="#3a32ff"/>
<rect x="406.73" y="974.27" width="23.73" height="5.43" fill="#d2d4ff"/>
<rect x="430.47" y="974.27" width="23.73" height="5.43" fill="#ff2014"/>
<rect x="383.00" y="979.70" width="23.73" height="5.43" fill="#6664ff"/>
<rect x="406.73" y="979.70" width="23.73" height="5.43" fill="#f29096"/>
<rect x="430.47" y="979.70" width="23.73" height="5.43" fill="#f29096"/>
<rect x="383.00" y="985.13" width="23.73" height="5.43" fill="#1408ff"/>
<rect x="406.73" y="985.13" width="23.73" height="5.43" fill="#f26066"/>
<rect x="430.47" y="985.13" width="23.73" height="5.43" fill="#f29096"/>
<rect x="383.00" y="990.57" width="23.73" height="5.43" fill="#9e9eff"/>
<rect x="406.73" y="990.57" width="23.73" height="5.43" fill="#f26066"/>
<rect x="430.47" y="990.57" width="23.73" height="5.43" fill="#d2d4ff"/>
<line x1="383.00" y1="838.43" x2="454.20" y2="838.43" stroke="#000" stroke-opacity="0.6" stroke-width="0.85"/>
<line x1="383.00" y1="843.87" x2="454.20" y2="843.87" stroke="#000" stroke-opacity="0.6" stroke-width="0.85"/>
<line x1="383.00" y1="849.30" x2="454.20" y2="849.30" stroke="#000" stroke-opacity="0.6" stroke-width="0.85"/>
<line x1="383.00" y1="854.73" x2="454.20" y2="854.73" stroke="#000" stroke-opacity="0.6" stroke-width="0.85"/>
<line x1="383.00" y1="860.17" x2="454.20" y2="860.17" stroke="#000" stroke-opacity="0.6" stroke-width="0.85"/>
<line x1="383.00" y1="865.60" x2="454.20" y2="865.60" stroke="#000" stroke-opacity="0.6" stroke-width="0.85"/>
<line x1="383.00" y1="871.03" x2="454.20" y2="871.03" stroke="#000" stroke-opacity="0.6" stroke-width="0.85"/>
<line x1="383.00" y1="876.47" x2="454.20" y2="876.47" stroke="#000" stroke-opacity="0.6" stroke-width="0.85"/>
<line x1="383.00" y1="881.90" x2="454.20" y2="881.90" stroke="#000" stroke-opacity="0.6" stroke-width="0.85"/>
<line x1="383.00" y1="887.33" x2="454.20" y2="887.33" stroke="#000" stroke-opacity="0.6" stroke-width="0.85"/>
<line x1="383.00" y1="892.77" x2="454.20" y2="892.77" stroke="#000" stroke-opacity="0.6" stroke-width="0.85"/>
<line x1="383.00" y1="898.20" x2="454.20" y2="898.20" stroke="#000" stroke-opacity="0.6" stroke-width="0.85"/>
<line x1="383.00" y1="903.63" x2="454.20" y2="903.63" stroke="#000" stroke-opacity="0.6" stroke-width="0.85"/>
<line x1="383.00" y1="909.07" x2="454.20" y2="909.07" stroke="#000" stroke-opacity="0.6" stroke-width="0.85"/>
<line x1="383.00" y1="914.50" x2="454.20" y2="914.50" stroke="#000" stroke-opacity="0.6" stroke-width="0.85"/>
<line x1="383.00" y1="919.93" x2="454.20" y2="919.93" stroke="#000" stroke-opacity="0.6" stroke-width="0.85"/>
<line x1="383.00" y1="925.37" x2="454.20" y2="925.37" stroke="#000" stroke-opacity="0.6" stroke-width="0.85"/>
<line x1="383.00" y1="930.80" x2="454.20" y2="930.80" stroke="#000" stroke-opacity="0.6" stroke-width="0.85"/>
<line x1="383.00" y1="936.23" x2="454.20" y2="936.23" stroke="#000" stroke-opacity="0.6" stroke-width="0.85"/>
<line x1="383.00" y1="941.67" x2="454.20" y2="941.67" stroke="#000" stroke-opacity="0.6" stroke-width="0.85"/>
<line x1="383.00" y1="947.10" x2="454.20" y2="947.10" stroke="#000" stroke-opacity="0.6" stroke-width="0.85"/>
<line x1="383.00" y1="952.53" x2="454.20" y2="952.53" stroke="#000" stroke-opacity="0.6" stroke-width="0.85"/>
<line x1="383.00" y1="957.97" x2="454.20" y2="957.97" stroke="#000" stroke-opacity="0.6" stroke-width="0.85"/>
<line x1="383.00" y1="963.40" x2="454.20" y2="963.40" stroke="#000" stroke-opacity="0.6" stroke-width="0.85"/>
<line x1="383.00" y1="968.83" x2="454.20" y2="968.83" stroke="#000" stroke-opacity="0.6" stroke-width="0.85"/>
<line x1="383.00" y1="974.27" x2="454.20" y2="974.27" stroke="#000" stroke-opacity="0.6" stroke-width="0.85"/>
<line x1="383.00" y1="979.70" x2="454.20" y2="979.70" stroke="#000" stroke-opacity="0.6" stroke-width="0.85"/>
<line x1="383.00" y1="985.13" x2="454.20" y2="985.13" stroke="#000" stroke-opacity="0.6" stroke-width="0.85"/>
<line x1="383.00" y1="990.57" x2="454.20" y2="990.57" stroke="#000" stroke-opacity="0.6" stroke-width="0.85"/>
<line x1="406.73" y1="833.00" x2="406.73" y2="996.00" stroke="#000" stroke-opacity="0.75" stroke-width="0.9"/>
<line x1="430.47" y1="833.00" x2="430.47" y2="996.00" stroke="#000" stroke-opacity="0.75" stroke-width="0.9"/>
<rect x="383.00" y="833.00" width="71.20" height="163.00" fill="none" stroke="#000" stroke-width="1.2"/>
<text transform="translate(381.60,838.00) scale(0.87,1)" font-size="7.36" text-anchor="end" fill="#000" stroke="#000" stroke-width="0.1">'Bcl6b'</text>
<text transform="translate(381.60,843.43) scale(0.87,1)" font-size="7.36" text-anchor="end" fill="#000" stroke="#000" stroke-width="0.1">'Ccn4'</text>
<text transform="translate(381.60,848.86) scale(0.87,1)" font-size="7.36" text-anchor="end" fill="#000" stroke="#000" stroke-width="0.1">'Ccr6'</text>
<text transform="translate(381.60,854.30) scale(0.87,1)" font-size="7.36" text-anchor="end" fill="#000" stroke="#000" stroke-width="0.1">'Cxcl12'</text>
<text transform="translate(381.60,859.73) scale(0.87,1)" font-size="7.36" text-anchor="end" fill="#000" stroke="#000" stroke-width="0.1">'Cxcr5'</text>
<text transform="translate(381.60,865.16) scale(0.87,1)" font-size="7.36" text-anchor="end" fill="#000" stroke="#000" stroke-width="0.1">'Eda2r'</text>
<text transform="translate(381.60,870.60) scale(0.87,1)" font-size="7.36" text-anchor="end" fill="#000" stroke="#000" stroke-width="0.1">'Epha2'</text>
<text transform="translate(381.60,876.03) scale(0.87,1)" font-size="7.36" text-anchor="end" fill="#000" stroke="#000" stroke-width="0.1">'Fgf1'</text>
<text transform="translate(381.60,881.46) scale(0.87,1)" font-size="7.36" text-anchor="end" fill="#000" stroke="#000" stroke-width="0.1">'Gdf6'</text>
<text transform="translate(381.60,886.90) scale(0.87,1)" font-size="7.36" text-anchor="end" fill="#000" stroke="#000" stroke-width="0.1">'Ghr'</text>
<text transform="translate(381.60,892.33) scale(0.87,1)" font-size="7.36" text-anchor="end" fill="#000" stroke="#000" stroke-width="0.1">'Gnai1'</text>
<text transform="translate(381.60,897.76) scale(0.87,1)" font-size="7.36" text-anchor="end" fill="#000" stroke="#000" stroke-width="0.1">'Ifnlr1'</text>
<text transform="translate(381.60,903.20) scale(0.87,1)" font-size="7.36" text-anchor="end" fill="#000" stroke="#000" stroke-width="0.1">'Il11ra2'</text>
<text transform="translate(381.60,908.63) scale(0.87,1)" font-size="7.36" text-anchor="end" fill="#000" stroke="#000" stroke-width="0.1">'Il33'</text>
<text transform="translate(381.60,914.06) scale(0.87,1)" font-size="7.36" text-anchor="end" fill="#000" stroke="#000" stroke-width="0.1">'Il34'</text>
<text transform="translate(381.60,919.50) scale(0.87,1)" font-size="7.36" text-anchor="end" fill="#000" stroke="#000" stroke-width="0.1">'Inava'</text>
<text transform="translate(381.60,924.93) scale(0.87,1)" font-size="7.36" text-anchor="end" fill="#000" stroke="#000" stroke-width="0.1">'Nfatc4'</text>
<text transform="translate(381.60,930.36) scale(0.87,1)" font-size="7.36" text-anchor="end" fill="#000" stroke="#000" stroke-width="0.1">'Osmr'</text>
<text transform="translate(381.60,935.80) scale(0.87,1)" font-size="7.36" text-anchor="end" fill="#000" stroke="#000" stroke-width="0.1">'Pard3'</text>
<text transform="translate(381.60,941.23) scale(0.87,1)" font-size="7.36" text-anchor="end" fill="#000" stroke="#000" stroke-width="0.1">'Postn'</text>
<text transform="translate(381.60,946.66) scale(0.87,1)" font-size="7.36" text-anchor="end" fill="#000" stroke="#000" stroke-width="0.1">'Ptprf'</text>
<text transform="translate(381.60,952.10) scale(0.87,1)" font-size="7.36" text-anchor="end" fill="#000" stroke="#000" stroke-width="0.1">'Ptprm'</text>
<text transform="translate(381.60,957.53) scale(0.87,1)" font-size="7.36" text-anchor="end" fill="#000" stroke="#000" stroke-width="0.1">'Robo1'</text>
<text transform="translate(381.60,962.96) scale(0.87,1)" font-size="7.36" text-anchor="end" fill="#000" stroke="#000" stroke-width="0.1">'S1pr3'</text>
<text transform="translate(381.60,968.40) scale(0.87,1)" font-size="7.36" text-anchor="end" fill="#000" stroke="#000" stroke-width="0.1">'Spon2'</text>
<text transform="translate(381.60,973.83) scale(0.87,1)" font-size="7.36" text-anchor="end" fill="#000" stroke="#000" stroke-width="0.1">'Tgfb3'</text>
<text transform="translate(381.60,979.26) scale(0.87,1)" font-size="7.36" text-anchor="end" fill="#000" stroke="#000" stroke-width="0.1">'Tnfrsf13c'</text>
<text transform="translate(381.60,984.70) scale(0.87,1)" font-size="7.36" text-anchor="end" fill="#000" stroke="#000" stroke-width="0.1">'Vegfd'</text>
<text transform="translate(381.60,990.13) scale(0.87,1)" font-size="7.36" text-anchor="end" fill="#000" stroke="#000" stroke-width="0.1">'Wnt4'</text>
<text transform="translate(381.60,995.56) scale(0.87,1)" font-size="7.36" text-anchor="end" fill="#000" stroke="#000" stroke-width="0.1">'Wnt5a'</text>
<text transform="translate(397.70,828.70) rotate(-90)" font-size="11.7" fill="#000">WT</text>
<text transform="translate(421.40,828.70) rotate(-90)" font-size="11.7" fill="#000">A10-PPARα</text>
<text transform="translate(444.80,828.70) rotate(-90)" font-size="11.7" fill="#000">A10-PPARα-Cre</text>
<text transform="translate(458.00,815.40)" font-size="9.9" fill="#000">z-score</text>
<text transform="translate(458.00,826.20)" font-size="9.9" fill="#000">(mean)</text>
<rect x="458.10" y="832.40" width="7.70" height="69.20" fill="url(#cb49)" stroke="#000" stroke-width="1.2"/>
<line x1="458.60" y1="836.80" x2="460.90" y2="836.80" stroke="#000" stroke-width="1.2"/>
<line x1="463.00" y1="836.80" x2="465.30" y2="836.80" stroke="#000" stroke-width="1.2"/>
<text transform="translate(468.60,839.07)" font-size="6.3" fill="#111" stroke="#111" stroke-width="0.1">1.0</text>
<line x1="458.60" y1="851.90" x2="460.90" y2="851.90" stroke="#000" stroke-width="1.2"/>
<line x1="463.00" y1="851.90" x2="465.30" y2="851.90" stroke="#000" stroke-width="1.2"/>
<text transform="translate(468.60,854.17)" font-size="6.3" fill="#111" stroke="#111" stroke-width="0.1">0.5</text>
<line x1="458.60" y1="866.50" x2="460.90" y2="866.50" stroke="#000" stroke-width="1.2"/>
<line x1="463.00" y1="866.50" x2="465.30" y2="866.50" stroke="#000" stroke-width="1.2"/>
<text transform="translate(468.60,868.77)" font-size="6.3" fill="#111" stroke="#111" stroke-width="0.1">0</text>
<line x1="458.60" y1="881.90" x2="460.90" y2="881.90" stroke="#000" stroke-width="1.2"/>
<line x1="463.00" y1="881.90" x2="465.30" y2="881.90" stroke="#000" stroke-width="1.2"/>
<text transform="translate(468.60,884.17)" font-size="6.3" fill="#111" stroke="#111" stroke-width="0.1">-0.5</text>
<line x1="458.60" y1="896.70" x2="460.90" y2="896.70" stroke="#000" stroke-width="1.2"/>
<line x1="463.00" y1="896.70" x2="465.30" y2="896.70" stroke="#000" stroke-width="1.2"/>
<text transform="translate(468.60,898.97)" font-size="6.3" fill="#111" stroke="#111" stroke-width="0.1">-1.0</text>
<line x1="342.60" y1="832.80" x2="342.60" y2="994.30" stroke="#000" stroke-width="1.1"/>
<text transform="translate(335.50,917.00) rotate(-90)" font-size="12" text-anchor="middle" fill="#000">Pathogen recognition</text>
<text transform="translate(509.50,756.90)" font-size="20" font-weight="bold" fill="#000">F</text>
<rect x="576.20" y="833.20" width="23.47" height="5.42" fill="#faf6f8"/>
<rect x="599.67" y="833.20" width="23.47" height="5.42" fill="#6664ff"/>
<rect x="623.13" y="833.20" width="23.47" height="5.42" fill="#f63e42"/>
<rect x="576.20" y="838.62" width="23.47" height="5.42" fill="#d2d4ff"/>
<rect x="599.67" y="838.62" width="23.47" height="5.42" fill="#fad4d6"/>
<rect x="623.13" y="838.62" width="23.47" height="5.42" fill="#fad4d6"/>
<rect x="576.20" y="844.04" width="23.47" height="5.42" fill="#9e9eff"/>
<rect x="599.67" y="844.04" width="23.47" height="5.42" fill="#f63e42"/>
<rect x="623.13" y="844.04" width="23.47" height="5.42" fill="#9e9eff"/>
<rect x="576.20" y="849.46" width="23.47" height="5.42" fill="#1408ff"/>
<rect x="599.67" y="849.46" width="23.47" height="5.42" fill="#f29096"/>
<rect x="623.13" y="849.46" width="23.47" height="5.42" fill="#f26066"/>
<rect x="576.20" y="854.88" width="23.47" height="5.42" fill="#6664ff"/>
<rect x="599.67" y="854.88" width="23.47" height="5.42" fill="#f63e42"/>
<rect x="623.13" y="854.88" width="23.47" height="5.42" fill="#d2d4ff"/>
<rect x="576.20" y="860.30" width="23.47" height="5.42" fill="#9e9eff"/>
<rect x="599.67" y="860.30" width="23.47" height="5.42" fill="#f29096"/>
<rect x="623.13" y="860.30" width="23.47" height="5.42" fill="#fad4d6"/>
<rect x="576.20" y="865.72" width="23.47" height="5.42" fill="#6664ff"/>
<rect x="599.67" y="865.72" width="23.47" height="5.42" fill="#faf6f8"/>
<rect x="623.13" y="865.72" width="23.47" height="5.42" fill="#f26066"/>
<rect x="576.20" y="871.14" width="23.47" height="5.42" fill="#1408ff"/>
<rect x="599.67" y="871.14" width="23.47" height="5.42" fill="#f29096"/>
<rect x="623.13" y="871.14" width="23.47" height="5.42" fill="#f29096"/>
<rect x="576.20" y="876.56" width="23.47" height="5.42" fill="#6664ff"/>
<rect x="599.67" y="876.56" width="23.47" height="5.42" fill="#faf6f8"/>
<rect x="623.13" y="876.56" width="23.47" height="5.42" fill="#f26066"/>
<rect x="576.20" y="881.98" width="23.47" height="5.42" fill="#fad4d6"/>
<rect x="599.67" y="881.98" width="23.47" height="5.42" fill="#f63e42"/>
<rect x="623.13" y="881.98" width="23.47" height="5.42" fill="#1408ff"/>
<rect x="576.20" y="887.40" width="23.47" height="5.42" fill="#6664ff"/>
<rect x="599.67" y="887.40" width="23.47" height="5.42" fill="#f63e42"/>
<rect x="623.13" y="887.40" width="23.47" height="5.42" fill="#d2d4ff"/>
<rect x="576.20" y="892.82" width="23.47" height="5.42" fill="#1408ff"/>
<rect x="599.67" y="892.82" width="23.47" height="5.42" fill="#fad4d6"/>
<rect x="623.13" y="892.82" width="23.47" height="5.42" fill="#f63e42"/>
<rect x="576.20" y="898.24" width="23.47" height="5.42" fill="#d2d4ff"/>
<rect x="599.67" y="898.24" width="23.47" height="5.42" fill="#f63e42"/>
<rect x="623.13" y="898.24" width="23.47" height="5.42" fill="#6664ff"/>
<rect x="576.20" y="903.66" width="23.47" height="5.42" fill="#9e9eff"/>
<rect x="599.67" y="903.66" width="23.47" height="5.42" fill="#fad4d6"/>
<rect x="623.13" y="903.66" width="23.47" height="5.42" fill="#fad4d6"/>
<rect x="576.20" y="909.08" width="23.47" height="5.42" fill="#9e9eff"/>
<rect x="599.67" y="909.08" width="23.47" height="5.42" fill="#fad4d6"/>
<rect x="623.13" y="909.08" width="23.47" height="5.42" fill="#fad4d6"/>
<rect x="576.20" y="914.50" width="23.47" height="5.42" fill="#6664ff"/>
<rect x="599.67" y="914.50" width="23.47" height="5.42" fill="#fad4d6"/>
<rect x="623.13" y="914.50" width="23.47" height="5.42" fill="#f29096"/>
<rect x="576.20" y="919.92" width="23.47" height="5.42" fill="#d2d4ff"/>
<rect x="599.67" y="919.92" width="23.47" height="5.42" fill="#3a32ff"/>
<rect x="623.13" y="919.92" width="23.47" height="5.42" fill="#ff2014"/>
<rect x="576.20" y="925.34" width="23.47" height="5.42" fill="#6664ff"/>
<rect x="599.67" y="925.34" width="23.47" height="5.42" fill="#f26066"/>
<rect x="623.13" y="925.34" width="23.47" height="5.42" fill="#faf6f8"/>
<rect x="576.20" y="930.76" width="23.47" height="5.42" fill="#d2d4ff"/>
<rect x="599.67" y="930.76" width="23.47" height="5.42" fill="#f29096"/>
<rect x="623.13" y="930.76" width="23.47" height="5.42" fill="#9e9eff"/>
<rect x="576.20" y="936.18" width="23.47" height="5.42" fill="#1408ff"/>
<rect x="599.67" y="936.18" width="23.47" height="5.42" fill="#f29096"/>
<rect x="623.13" y="936.18" width="23.47" height="5.42" fill="#f26066"/>
<rect x="576.20" y="941.60" width="23.47" height="5.42" fill="#3a32ff"/>
<rect x="599.67" y="941.60" width="23.47" height="5.42" fill="#f63e42"/>
<rect x="623.13" y="941.60" width="23.47" height="5.42" fill="#faf6f8"/>
<rect x="576.20" y="947.02" width="23.47" height="5.42" fill="#6664ff"/>
<rect x="599.67" y="947.02" width="23.47" height="5.42" fill="#f26066"/>
<rect x="623.13" y="947.02" width="23.47" height="5.42" fill="#faf6f8"/>
<rect x="576.20" y="952.44" width="23.47" height="5.42" fill="#9e9eff"/>
<rect x="599.67" y="952.44" width="23.47" height="5.42" fill="#f63e42"/>
<rect x="623.13" y="952.44" width="23.47" height="5.42" fill="#9e9eff"/>
<rect x="576.20" y="957.86" width="23.47" height="5.42" fill="#9e9eff"/>
<rect x="599.67" y="957.86" width="23.47" height="5.42" fill="#f26066"/>
<rect x="623.13" y="957.86" width="23.47" height="5.42" fill="#9e9eff"/>
<rect x="576.20" y="963.28" width="23.47" height="5.42" fill="#6664ff"/>
<rect x="599.67" y="963.28" width="23.47" height="5.42" fill="#f26066"/>
<rect x="623.13" y="963.28" width="23.47" height="5.42" fill="#faf6f8"/>
<rect x="576.20" y="968.70" width="23.47" height="5.42" fill="#3a32ff"/>
<rect x="599.67" y="968.70" width="23.47" height="5.42" fill="#f29096"/>
<rect x="623.13" y="968.70" width="23.47" height="5.42" fill="#f29096"/>
<rect x="576.20" y="974.12" width="23.47" height="5.42" fill="#6664ff"/>
<rect x="599.67" y="974.12" width="23.47" height="5.42" fill="#f26066"/>
<rect x="623.13" y="974.12" width="23.47" height="5.42" fill="#d2d4ff"/>
<rect x="576.20" y="979.54" width="23.47" height="5.42" fill="#d2d4ff"/>
<rect x="599.67" y="979.54" width="23.47" height="5.42" fill="#f29096"/>
<rect x="623.13" y="979.54" width="23.47" height="5.42" fill="#d2d4ff"/>
<rect x="576.20" y="984.96" width="23.47" height="5.42" fill="#d2d4ff"/>
<rect x="599.67" y="984.96" width="23.47" height="5.42" fill="#ff2014"/>
<rect x="623.13" y="984.96" width="23.47" height="5.42" fill="#3a32ff"/>
<rect x="576.20" y="990.38" width="23.47" height="5.42" fill="#d2d4ff"/>
<rect x="599.67" y="990.38" width="23.47" height="5.42" fill="#f63e42"/>
<rect x="623.13" y="990.38" width="23.47" height="5.42" fill="#6664ff"/>
<line x1="576.20" y1="838.62" x2="646.60" y2="838.62" stroke="#000" stroke-opacity="0.6" stroke-width="0.85"/>
<line x1="576.20" y1="844.04" x2="646.60" y2="844.04" stroke="#000" stroke-opacity="0.6" stroke-width="0.85"/>
<line x1="576.20" y1="849.46" x2="646.60" y2="849.46" stroke="#000" stroke-opacity="0.6" stroke-width="0.85"/>
<line x1="576.20" y1="854.88" x2="646.60" y2="854.88" stroke="#000" stroke-opacity="0.6" stroke-width="0.85"/>
<line x1="576.20" y1="860.30" x2="646.60" y2="860.30" stroke="#000" stroke-opacity="0.6" stroke-width="0.85"/>
<line x1="576.20" y1="865.72" x2="646.60" y2="865.72" stroke="#000" stroke-opacity="0.6" stroke-width="0.85"/>
<line x1="576.20" y1="871.14" x2="646.60" y2="871.14" stroke="#000" stroke-opacity="0.6" stroke-width="0.85"/>
<line x1="576.20" y1="876.56" x2="646.60" y2="876.56" stroke="#000" stroke-opacity="0.6" stroke-width="0.85"/>
<line x1="576.20" y1="881.98" x2="646.60" y2="881.98" stroke="#000" stroke-opacity="0.6" stroke-width="0.85"/>
<line x1="576.20" y1="887.40" x2="646.60" y2="887.40" stroke="#000" stroke-opacity="0.6" stroke-width="0.85"/>
<line x1="576.20" y1="892.82" x2="646.60" y2="892.82" stroke="#000" stroke-opacity="0.6" stroke-width="0.85"/>
<line x1="576.20" y1="898.24" x2="646.60" y2="898.24" stroke="#000" stroke-opacity="0.6" stroke-width="0.85"/>
<line x1="576.20" y1="903.66" x2="646.60" y2="903.66" stroke="#000" stroke-opacity="0.6" stroke-width="0.85"/>
<line x1="576.20" y1="909.08" x2="646.60" y2="909.08" stroke="#000" stroke-opacity="0.6" stroke-width="0.85"/>
<line x1="576.20" y1="914.50" x2="646.60" y2="914.50" stroke="#000" stroke-opacity="0.6" stroke-width="0.85"/>
<line x1="576.20" y1="919.92" x2="646.60" y2="919.92" stroke="#000" stroke-opacity="0.6" stroke-width="0.85"/>
<line x1="576.20" y1="925.34" x2="646.60" y2="925.34" stroke="#000" stroke-opacity="0.6" stroke-width="0.85"/>
<line x1="576.20" y1="930.76" x2="646.60" y2="930.76" stroke="#000" stroke-opacity="0.6" stroke-width="0.85"/>
<line x1="576.20" y1="936.18" x2="646.60" y2="936.18" stroke="#000" stroke-opacity="0.6" stroke-width="0.85"/>
<line x1="576.20" y1="941.60" x2="646.60" y2="941.60" stroke="#000" stroke-opacity="0.6" stroke-width="0.85"/>
<line x1="576.20" y1="947.02" x2="646.60" y2="947.02" stroke="#000" stroke-opacity="0.6" stroke-width="0.85"/>
<line x1="576.20" y1="952.44" x2="646.60" y2="952.44" stroke="#000" stroke-opacity="0.6" stroke-width="0.85"/>
<line x1="576.20" y1="957.86" x2="646.60" y2="957.86" stroke="#000" stroke-opacity="0.6" stroke-width="0.85"/>
<line x1="576.20" y1="963.28" x2="646.60" y2="963.28" stroke="#000" stroke-opacity="0.6" stroke-width="0.85"/>
<line x1="576.20" y1="968.70" x2="646.60" y2="968.70" stroke="#000" stroke-opacity="0.6" stroke-width="0.85"/>
<line x1="576.20" y1="974.12" x2="646.60" y2="974.12" stroke="#000" stroke-opacity="0.6" stroke-width="0.85"/>
<line x1="576.20" y1="979.54" x2="646.60" y2="979.54" stroke="#000" stroke-opacity="0.6" stroke-width="0.85"/>
<line x1="576.20" y1="984.96" x2="646.60" y2="984.96" stroke="#000" stroke-opacity="0.6" stroke-width="0.85"/>
<line x1="576.20" y1="990.38" x2="646.60" y2="990.38" stroke="#000" stroke-opacity="0.6" stroke-width="0.85"/>
<line x1="599.67" y1="833.20" x2="599.67" y2="995.80" stroke="#000" stroke-opacity="0.75" stroke-width="0.9"/>
<line x1="623.13" y1="833.20" x2="623.13" y2="995.80" stroke="#000" stroke-opacity="0.75" stroke-width="0.9"/>
<rect x="576.20" y="833.20" width="70.40" height="162.60" fill="none" stroke="#000" stroke-width="1.2"/>
<text transform="translate(574.50,838.16) scale(0.87,1)" font-size="7.24" text-anchor="end" fill="#000" stroke="#000" stroke-width="0.1">'Acot4'</text>
<text transform="translate(574.50,843.58) scale(0.87,1)" font-size="7.24" text-anchor="end" fill="#000" stroke="#000" stroke-width="0.1">'Acot6'</text>
<text transform="translate(574.50,849.00) scale(0.87,1)" font-size="7.24" text-anchor="end" fill="#000" stroke="#000" stroke-width="0.1">'Acox'</text>
<text transform="translate(574.50,854.42) scale(0.87,1)" font-size="7.24" text-anchor="end" fill="#000" stroke="#000" stroke-width="0.1">'Alg12'</text>
<text transform="translate(574.50,859.84) scale(0.87,1)" font-size="7.24" text-anchor="end" fill="#000" stroke="#000" stroke-width="0.1">'Alg13'</text>
<text transform="translate(574.50,865.26) scale(0.87,1)" font-size="7.24" text-anchor="end" fill="#000" stroke="#000" stroke-width="0.1">'Cyp2j6'</text>
<text transform="translate(574.50,870.68) scale(0.87,1)" font-size="7.24" text-anchor="end" fill="#000" stroke="#000" stroke-width="0.1">'Cyp2j9'</text>
<text transform="translate(574.50,876.10) scale(0.87,1)" font-size="7.24" text-anchor="end" fill="#000" stroke="#000" stroke-width="0.1">'Enpp2'</text>
<text transform="translate(574.50,881.52) scale(0.87,1)" font-size="7.24" text-anchor="end" fill="#000" stroke="#000" stroke-width="0.1">'Fuom'</text>
<text transform="translate(574.50,886.94) scale(0.87,1)" font-size="7.24" text-anchor="end" fill="#000" stroke="#000" stroke-width="0.1">'Gdpd3'</text>
<text transform="translate(574.50,892.36) scale(0.87,1)" font-size="7.24" text-anchor="end" fill="#000" stroke="#000" stroke-width="0.1">'Gfpt2'</text>
<text transform="translate(574.50,897.78) scale(0.87,1)" font-size="7.24" text-anchor="end" fill="#000" stroke="#000" stroke-width="0.1">'Gne'</text>
<text transform="translate(574.50,903.20) scale(0.87,1)" font-size="7.24" text-anchor="end" fill="#000" stroke="#000" stroke-width="0.1">'Lpcat2'</text>
<text transform="translate(574.50,908.62) scale(0.87,1)" font-size="7.24" text-anchor="end" fill="#000" stroke="#000" stroke-width="0.1">'Lpcat4'</text>
<text transform="translate(574.50,914.04) scale(0.87,1)" font-size="7.24" text-anchor="end" fill="#000" stroke="#000" stroke-width="0.1">'Npl'</text>
<text transform="translate(574.50,919.46) scale(0.87,1)" font-size="7.24" text-anchor="end" fill="#000" stroke="#000" stroke-width="0.1">'Nudt14'</text>
<text transform="translate(574.50,924.88) scale(0.87,1)" font-size="7.24" text-anchor="end" fill="#000" stroke="#000" stroke-width="0.1">'Pafah2'</text>
<text transform="translate(574.50,930.30) scale(0.87,1)" font-size="7.24" text-anchor="end" fill="#000" stroke="#000" stroke-width="0.1">'Pik3r3'</text>
<text transform="translate(574.50,935.72) scale(0.87,1)" font-size="7.24" text-anchor="end" fill="#000" stroke="#000" stroke-width="0.1">'Pla2g4b'</text>
<text transform="translate(574.50,941.14) scale(0.87,1)" font-size="7.24" text-anchor="end" fill="#000" stroke="#000" stroke-width="0.1">'Pla2g6'</text>
<text transform="translate(574.50,946.56) scale(0.87,1)" font-size="7.24" text-anchor="end" fill="#000" stroke="#000" stroke-width="0.1">'Plcb1'</text>
<text transform="translate(574.50,951.98) scale(0.87,1)" font-size="7.24" text-anchor="end" fill="#000" stroke="#000" stroke-width="0.1">'Plcb4'</text>
<text transform="translate(574.50,957.40) scale(0.87,1)" font-size="7.24" text-anchor="end" fill="#000" stroke="#000" stroke-width="0.1">'Pld1'</text>
<text transform="translate(574.50,962.82) scale(0.87,1)" font-size="7.24" text-anchor="end" fill="#000" stroke="#000" stroke-width="0.1">'Pld4'</text>
<text transform="translate(574.50,968.24) scale(0.87,1)" font-size="7.24" text-anchor="end" fill="#000" stroke="#000" stroke-width="0.1">'Plpp1'</text>
<text transform="translate(574.50,973.66) scale(0.87,1)" font-size="7.24" text-anchor="end" fill="#000" stroke="#000" stroke-width="0.1">'Prkca'</text>
<text transform="translate(574.50,979.08) scale(0.87,1)" font-size="7.24" text-anchor="end" fill="#000" stroke="#000" stroke-width="0.1">'Smarcd3'</text>
<text transform="translate(574.50,984.50) scale(0.87,1)" font-size="7.24" text-anchor="end" fill="#000" stroke="#000" stroke-width="0.1">'St3gal6'</text>
<text transform="translate(574.50,989.92) scale(0.87,1)" font-size="7.24" text-anchor="end" fill="#000" stroke="#000" stroke-width="0.1">'St6galnac3'</text>
<text transform="translate(574.50,995.34) scale(0.87,1)" font-size="7.24" text-anchor="end" fill="#000" stroke="#000" stroke-width="0.1">'St8sia6'</text>
<text transform="translate(590.10,828.00) rotate(-90)" font-size="11.7" fill="#000">WT</text>
<text transform="translate(613.90,828.00) rotate(-90)" font-size="11.7" fill="#000">A10-PPARα</text>
<text transform="translate(637.00,828.00) rotate(-90)" font-size="11.7" fill="#000">A10-PPARα-Cre</text>
<text transform="translate(651.20,815.40)" font-size="9.9" fill="#000">z-score</text>
<text transform="translate(651.20,826.20)" font-size="9.9" fill="#000">(mean)</text>
<rect x="650.80" y="833.20" width="7.90" height="68.60" fill="url(#cb49)" stroke="#000" stroke-width="1.2"/>
<line x1="651.30" y1="837.40" x2="653.60" y2="837.40" stroke="#000" stroke-width="1.2"/>
<line x1="655.90" y1="837.40" x2="658.20" y2="837.40" stroke="#000" stroke-width="1.2"/>
<text transform="translate(661.50,839.67)" font-size="6.3" fill="#111" stroke="#111" stroke-width="0.1">1.0</text>
<line x1="651.30" y1="852.90" x2="653.60" y2="852.90" stroke="#000" stroke-width="1.2"/>
<line x1="655.90" y1="852.90" x2="658.20" y2="852.90" stroke="#000" stroke-width="1.2"/>
<text transform="translate(661.50,855.17)" font-size="6.3" fill="#111" stroke="#111" stroke-width="0.1">0.5</text>
<line x1="651.30" y1="868.00" x2="653.60" y2="868.00" stroke="#000" stroke-width="1.2"/>
<line x1="655.90" y1="868.00" x2="658.20" y2="868.00" stroke="#000" stroke-width="1.2"/>
<text transform="translate(661.50,870.27)" font-size="6.3" fill="#111" stroke="#111" stroke-width="0.1">0</text>
<line x1="651.30" y1="883.40" x2="653.60" y2="883.40" stroke="#000" stroke-width="1.2"/>
<line x1="655.90" y1="883.40" x2="658.20" y2="883.40" stroke="#000" stroke-width="1.2"/>
<text transform="translate(661.50,885.67)" font-size="6.3" fill="#111" stroke="#111" stroke-width="0.1">-0.5</text>
<line x1="651.30" y1="898.80" x2="653.60" y2="898.80" stroke="#000" stroke-width="1.2"/>
<line x1="655.90" y1="898.80" x2="658.20" y2="898.80" stroke="#000" stroke-width="1.2"/>
<text transform="translate(661.50,901.07)" font-size="6.3" fill="#111" stroke="#111" stroke-width="0.1">-1.0</text>
<line x1="534.60" y1="833.40" x2="534.60" y2="994.50" stroke="#000" stroke-width="1.1"/>
<text transform="translate(514.00,914.00) rotate(-90)" font-size="12" text-anchor="middle" fill="#000">Bacteria killing</text>
<text transform="translate(527.70,914.00) rotate(-90)" font-size="12" text-anchor="middle" fill="#000">and inflammasome</text>
</svg>
</body></html>
